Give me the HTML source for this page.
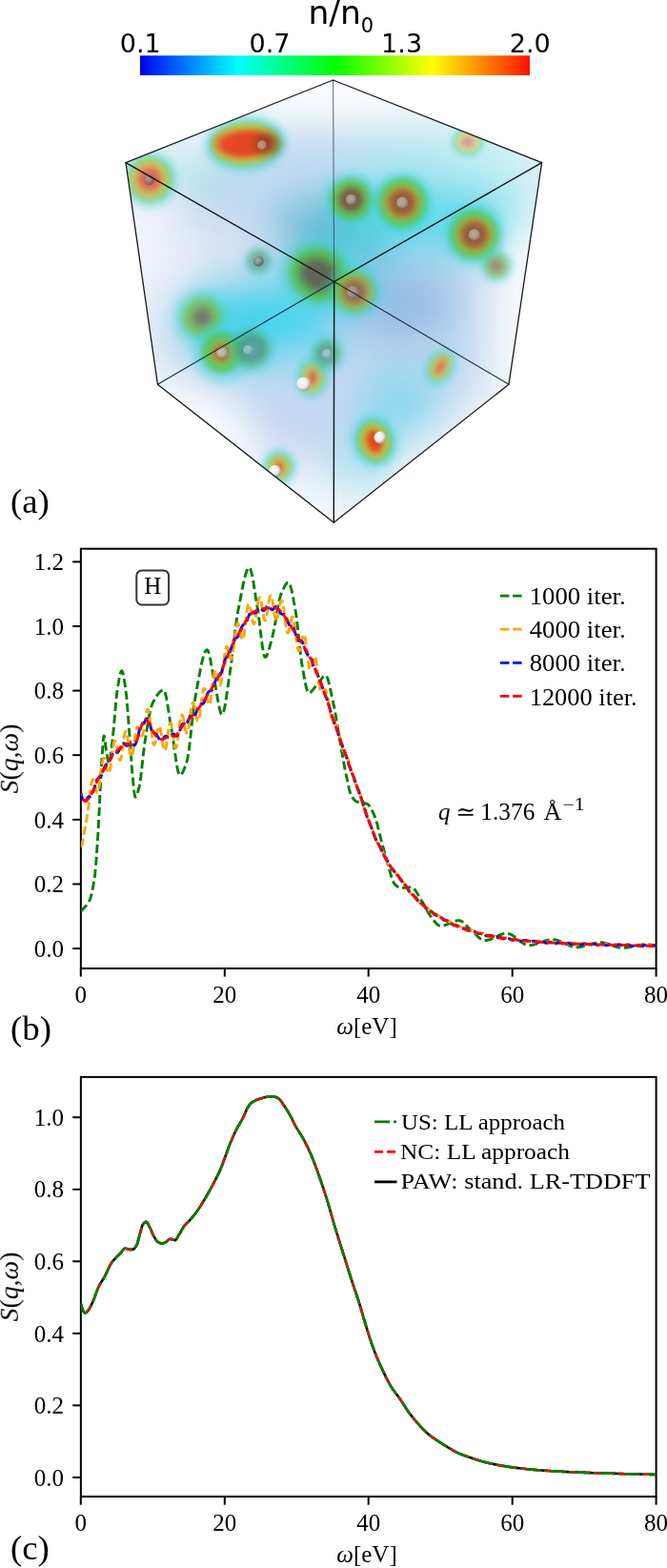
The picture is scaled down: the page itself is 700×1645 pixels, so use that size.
<!DOCTYPE html>
<html><head><meta charset="utf-8"><title>Figure</title>
<style>
html,body{margin:0;padding:0;background:#fff;}
body{width:700px;height:1645px;overflow:hidden;}
svg{display:block;}
.ax{stroke:#000;stroke-width:2;}
.tk{font-family:'Liberation Serif', 'DejaVu Serif', serif;font-size:25px;fill:#000;}
</style></head>
<body>
<svg width="700" height="1645" viewBox="0 0 700 1645">

<defs>
  <linearGradient id="cbar" x1="0" x2="1" y1="0" y2="0">
    <stop offset="0" stop-color="#0000d8"/>
    <stop offset="0.03" stop-color="#0020ff"/>
    <stop offset="0.25" stop-color="#00ffff"/>
    <stop offset="0.5" stop-color="#00ff00"/>
    <stop offset="0.75" stop-color="#ffff00"/>
    <stop offset="0.97" stop-color="#ff3000"/>
    <stop offset="1" stop-color="#f81000"/>
  </linearGradient>
  <clipPath id="hexclip"><polygon points="349.6,84.0 568.6,170.6 534.0,403.2 350.3,548.3 165.4,403.2 132.0,170.6"/></clipPath>
  <clipPath id="clipb"><rect x="84.85" y="575.7" width="603.75" height="440.3"/></clipPath>
  <clipPath id="clipc"><rect x="84.85" y="1129.9" width="603.75" height="440.2"/></clipPath>
  <filter id="bigblur" x="-50%" y="-50%" width="200%" height="200%"><feGaussianBlur stdDeviation="22"/></filter>
  <radialGradient id="g_red"><stop offset="0" stop-color="#c84a30" stop-opacity="1"/><stop offset="0.34" stop-color="#e04a2a" stop-opacity="0.95"/><stop offset="0.46" stop-color="#e89030" stop-opacity="0.9"/><stop offset="0.55" stop-color="#e0d840" stop-opacity="0.88"/><stop offset="0.65" stop-color="#60cc48" stop-opacity="0.85"/><stop offset="0.8" stop-color="#40cc90" stop-opacity="0.55"/><stop offset="0.92" stop-color="#40d0d0" stop-opacity="0.22"/><stop offset="1" stop-color="#60d0e0" stop-opacity="0"/></radialGradient>
  <radialGradient id="g_brown"><stop offset="0" stop-color="#8a7a6a" stop-opacity="1"/><stop offset="0.2" stop-color="#8a5a3a" stop-opacity="1"/><stop offset="0.36" stop-color="#a0522a" stop-opacity="0.95"/><stop offset="0.48" stop-color="#c08a30" stop-opacity="0.9"/><stop offset="0.56" stop-color="#98c838" stop-opacity="0.88"/><stop offset="0.66" stop-color="#48c848" stop-opacity="0.85"/><stop offset="0.8" stop-color="#40cc88" stop-opacity="0.55"/><stop offset="0.92" stop-color="#40d0d0" stop-opacity="0.22"/><stop offset="1" stop-color="#60d0e0" stop-opacity="0"/></radialGradient>
  <radialGradient id="g_dark"><stop offset="0" stop-color="#5e6658" stop-opacity="1"/><stop offset="0.38" stop-color="#606450" stop-opacity="0.95"/><stop offset="0.52" stop-color="#708040" stop-opacity="0.9"/><stop offset="0.66" stop-color="#48c040" stop-opacity="0.85"/><stop offset="0.82" stop-color="#40c8a0" stop-opacity="0.5"/><stop offset="1" stop-color="#60d0e0" stop-opacity="0"/></radialGradient>
  <radialGradient id="g_dim"><stop offset="0" stop-color="#60a8a8" stop-opacity="0.9"/><stop offset="0.25" stop-color="#508888" stop-opacity="0.85"/><stop offset="0.45" stop-color="#507870" stop-opacity="0.7"/><stop offset="0.65" stop-color="#48b860" stop-opacity="0.5"/><stop offset="0.85" stop-color="#40c8a0" stop-opacity="0.25"/><stop offset="1" stop-color="#60d0e0" stop-opacity="0"/></radialGradient>
  <filter id="bl2" x="-50%" y="-50%" width="200%" height="200%"><feGaussianBlur stdDeviation="1.0"/></filter><filter id="bl3" x="-50%" y="-50%" width="200%" height="200%"><feGaussianBlur stdDeviation="1.5"/></filter><filter id="bl4" x="-50%" y="-50%" width="200%" height="200%"><feGaussianBlur stdDeviation="2.0"/></filter><filter id="bl5" x="-50%" y="-50%" width="200%" height="200%"><feGaussianBlur stdDeviation="2.5"/></filter><filter id="bl6" x="-50%" y="-50%" width="200%" height="200%"><feGaussianBlur stdDeviation="3.0"/></filter><filter id="bl7" x="-50%" y="-50%" width="200%" height="200%"><feGaussianBlur stdDeviation="3.5"/></filter><filter id="bl8" x="-50%" y="-50%" width="200%" height="200%"><feGaussianBlur stdDeviation="4.0"/></filter><filter id="bl9" x="-50%" y="-50%" width="200%" height="200%"><feGaussianBlur stdDeviation="4.5"/></filter><filter id="bl10" x="-50%" y="-50%" width="200%" height="200%"><feGaussianBlur stdDeviation="5.0"/></filter><filter id="bl11" x="-50%" y="-50%" width="200%" height="200%"><feGaussianBlur stdDeviation="5.5"/></filter><filter id="bl12" x="-50%" y="-50%" width="200%" height="200%"><feGaussianBlur stdDeviation="6.0"/></filter>
  <filter id="smblur" x="-50%" y="-50%" width="200%" height="200%"><feGaussianBlur stdDeviation="2.5"/></filter>
  <filter id="tinyblur" x="-50%" y="-50%" width="200%" height="200%"><feGaussianBlur stdDeviation="0.6"/></filter>
  <radialGradient id="g_halo">
    <stop offset="0" stop-color="#48c848" stop-opacity="0.9"/>
    <stop offset="0.6" stop-color="#48d070" stop-opacity="0.7"/>
    <stop offset="0.85" stop-color="#40d0d8" stop-opacity="0.4"/>
    <stop offset="1" stop-color="#60d0e0" stop-opacity="0"/>
  </radialGradient>
  <radialGradient id="g_core_dark">
    <stop offset="0" stop-color="#704038" stop-opacity="0.9"/>
    <stop offset="1" stop-color="#904030" stop-opacity="0"/>
  </radialGradient>
  <radialGradient id="g_salmon"><stop offset="0" stop-color="#b07060" stop-opacity="1"/><stop offset="0.3" stop-color="#d86850" stop-opacity="0.95"/><stop offset="0.46" stop-color="#e89050" stop-opacity="0.9"/><stop offset="0.56" stop-color="#e8d850" stop-opacity="0.85"/><stop offset="0.68" stop-color="#60c860" stop-opacity="0.7"/><stop offset="0.84" stop-color="#50d0d0" stop-opacity="0.3"/><stop offset="1" stop-color="#60c8e0" stop-opacity="0"/></radialGradient>
  <radialGradient id="sph" cx="0.4" cy="0.4" r="0.6">
    <stop offset="0" stop-color="#ffffff"/>
    <stop offset="0.6" stop-color="#e8e8e8"/>
    <stop offset="1" stop-color="#a0a0a0"/>
  </radialGradient>
  <radialGradient id="sph_m" cx="0.42" cy="0.42" r="0.6">
    <stop offset="0" stop-color="#e4e0d8"/>
    <stop offset="0.6" stop-color="#c8c0b4"/>
    <stop offset="1" stop-color="#908880"/>
  </radialGradient>
  <radialGradient id="sph_d" cx="0.4" cy="0.4" r="0.6">
    <stop offset="0" stop-color="#b0b0b0"/>
    <stop offset="0.6" stop-color="#808080"/>
    <stop offset="1" stop-color="#505050"/>
  </radialGradient>
</defs>

<rect width="700" height="1645" fill="#fff"/>

<rect x="147" y="58.3" width="409" height="20.7" fill="url(#cbar)"/>
<text x="323.5" y="25" font-family="'DejaVu Sans', 'Liberation Sans', sans-serif" font-size="34.5">n/n<tspan font-size="21" dy="9">0</tspan></text>
<text x="147.2" y="54.5" font-family="'DejaVu Sans', 'Liberation Sans', sans-serif" font-size="26" text-anchor="middle" textLength="43" lengthAdjust="spacingAndGlyphs">0.1</text>
<text x="283" y="54.5" font-family="'DejaVu Sans', 'Liberation Sans', sans-serif" font-size="26" text-anchor="middle" textLength="43" lengthAdjust="spacingAndGlyphs">0.7</text>
<text x="421.6" y="54.5" font-family="'DejaVu Sans', 'Liberation Sans', sans-serif" font-size="26" text-anchor="middle" textLength="43" lengthAdjust="spacingAndGlyphs">1.3</text>
<text x="556.3" y="54.5" font-family="'DejaVu Sans', 'Liberation Sans', sans-serif" font-size="26" text-anchor="middle" textLength="43" lengthAdjust="spacingAndGlyphs">2.0</text>


<g clip-path="url(#hexclip)">
  <polygon points="349.6,84.0 568.6,170.6 534.0,403.2 350.3,548.3 165.4,403.2 132.0,170.6" fill="#eef3f9"/>
  <g filter="url(#bigblur)">
    <ellipse cx="350" cy="300" rx="195" ry="175" fill="#b0cfec" opacity="0.7"/>
    <ellipse cx="470" cy="170" rx="110" ry="40" fill="#a8ecf0" opacity="0.6"/>
    <ellipse cx="200" cy="180" rx="40" ry="22" fill="#90e0e0" opacity="0.5"/>
    <ellipse cx="280" cy="335" rx="80" ry="45" fill="#30d4ee" opacity="0.85"/>
    <ellipse cx="230" cy="320" rx="45" ry="35" fill="#38d0e6" opacity="0.6"/>
    <ellipse cx="470" cy="232" rx="90" ry="36" fill="#50dcec" opacity="0.7"/>
    <ellipse cx="400" cy="228" rx="120" ry="34" fill="#48d8ea" opacity="0.55"/>
    <ellipse cx="420" cy="425" rx="45" ry="40" fill="#50d4ec" opacity="0.5"/>
    <ellipse cx="360" cy="255" rx="55" ry="40" fill="#38c8dc" opacity="0.7"/>
    <ellipse cx="420" cy="320" rx="60" ry="40" fill="#70a8dc" opacity="0.55"/>
    <ellipse cx="330" cy="235" rx="45" ry="22" fill="#6880a8" opacity="0.35"/>
    <ellipse cx="225" cy="265" rx="30" ry="30" fill="#8090b0" opacity="0.25"/>
    <ellipse cx="375" cy="495" rx="35" ry="35" fill="#60d0e8" opacity="0.45"/>
    <ellipse cx="190" cy="465" rx="75" ry="55" fill="#ffffff" opacity="0.95"/>
    <ellipse cx="550" cy="330" rx="38" ry="95" fill="#ffffff" opacity="0.8"/>
    <ellipse cx="350" cy="100" rx="90" ry="30" fill="#ffffff" opacity="0.85"/>
    <ellipse cx="350" cy="540" rx="55" ry="18" fill="#ffffff" opacity="0.8"/>
    <ellipse cx="160" cy="270" rx="45" ry="60" fill="#f0f2fa" opacity="0.85"/>
    <ellipse cx="215" cy="268" rx="55" ry="32" fill="#f0f0fa" opacity="0.7"/>
    <ellipse cx="500" cy="470" rx="45" ry="40" fill="#f0f4fa" opacity="0.7"/>
    <ellipse cx="300" cy="460" rx="40" ry="30" fill="#c8d0f0" opacity="0.5"/>
  </g>
  <g>
    <g filter="url(#bl6)" opacity="1.0" transform="rotate(-4 258 151)"><ellipse cx="258" cy="151" rx="45" ry="31" fill="#40d4e4" opacity="0.35"/><ellipse cx="258" cy="151" rx="38" ry="24" fill="#50c848" opacity="0.85"/><ellipse cx="258" cy="151" rx="33" ry="19" fill="#e0d040" opacity="0.95"/><ellipse cx="258" cy="151" rx="30" ry="16" fill="#e04828"/></g>
    <g filter="url(#bl7)" opacity="1.0" transform="rotate(0 157 188)"><ellipse cx="157" cy="188" rx="31" ry="31" fill="#48d4e0" opacity="0.35"/><ellipse cx="157" cy="188" rx="24" ry="24" fill="#60c860" opacity="0.85"/><ellipse cx="157" cy="188" rx="18" ry="18" fill="#e8d050" opacity="0.95"/><ellipse cx="157" cy="188" rx="14" ry="14" fill="#d86a58"/></g>
    <g filter="url(#bl7)" opacity="0.95" transform="rotate(0 368.5 209.2)"><ellipse cx="368.5" cy="209.2" rx="30" ry="30" fill="#40d4e0" opacity="0.35"/><ellipse cx="368.5" cy="209.2" rx="23" ry="23" fill="#48c448" opacity="0.85"/><ellipse cx="368.5" cy="209.2" rx="15" ry="15" fill="#909838" opacity="0.95"/><ellipse cx="368.5" cy="209.2" rx="13" ry="13" fill="#7a4a34"/><ellipse cx="368.5" cy="209.2" rx="7.2" ry="7.2" fill="#6e6458"/></g>
    <g filter="url(#bl7)" opacity="1.0" transform="rotate(0 422.2 212.6)"><ellipse cx="422.2" cy="212.6" rx="33.5" ry="33.5" fill="#40d4e0" opacity="0.35"/><ellipse cx="422.2" cy="212.6" rx="26.5" ry="26.5" fill="#48c448" opacity="0.85"/><ellipse cx="422.2" cy="212.6" rx="18.5" ry="18.5" fill="#b8b038" opacity="0.95"/><ellipse cx="422.2" cy="212.6" rx="15.5" ry="15.5" fill="#a85a30"/><ellipse cx="422.2" cy="212.6" rx="8.5" ry="8.5" fill="#80604a"/></g>
    <g filter="url(#bl7)" opacity="1.0" transform="rotate(0 497.8 246.2)"><ellipse cx="497.8" cy="246.2" rx="33.5" ry="33.5" fill="#40d4e0" opacity="0.35"/><ellipse cx="497.8" cy="246.2" rx="26.5" ry="26.5" fill="#48c448" opacity="0.85"/><ellipse cx="497.8" cy="246.2" rx="18.5" ry="18.5" fill="#b8b038" opacity="0.95"/><ellipse cx="497.8" cy="246.2" rx="15.5" ry="15.5" fill="#a85a30"/><ellipse cx="497.8" cy="246.2" rx="8.5" ry="8.5" fill="#80604a"/></g>
    <g filter="url(#bl6)" opacity="0.7" transform="rotate(0 521 279)"><ellipse cx="521" cy="279" rx="19" ry="19" fill="#40d0d8" opacity="0.35"/><ellipse cx="521" cy="279" rx="14" ry="14" fill="#48c050" opacity="0.85"/><ellipse cx="521" cy="279" rx="9" ry="9" fill="#90a040" opacity="0.95"/><ellipse cx="521" cy="279" rx="7" ry="7" fill="#886048"/></g>
    <g filter="url(#bl5)" opacity="0.6" transform="rotate(0 491 149)"><ellipse cx="491" cy="149" rx="19" ry="17" fill="#48d4e0" opacity="0.35"/><ellipse cx="491" cy="149" rx="16" ry="14" fill="#60c860" opacity="0.85"/><ellipse cx="491" cy="149" rx="12" ry="10" fill="#e8d050" opacity="0.95"/><ellipse cx="491" cy="149" rx="8" ry="6" fill="#d86a58"/></g>
    <g filter="url(#bl9)" opacity="0.95" transform="rotate(25 334 288)"><ellipse cx="334" cy="288" rx="43" ry="40" fill="#40d0c8" opacity="0.35"/><ellipse cx="334" cy="288" rx="32" ry="29" fill="#48c040" opacity="0.85"/><ellipse cx="334" cy="288" rx="22" ry="19" fill="#6a8040" opacity="0.95"/><ellipse cx="334" cy="288" rx="19" ry="16" fill="#5e6252"/></g>
    <g filter="url(#bl7)" opacity="0.85" transform="rotate(0 372 306)"><ellipse cx="372" cy="306" rx="31" ry="31" fill="#40d4e0" opacity="0.35"/><ellipse cx="372" cy="306" rx="23" ry="23" fill="#48c448" opacity="0.85"/><ellipse cx="372" cy="306" rx="17" ry="17" fill="#b8b038" opacity="0.95"/><ellipse cx="372" cy="306" rx="14" ry="14" fill="#a85a30"/><ellipse cx="372" cy="306" rx="7.7" ry="7.7" fill="#80604a"/></g>
    <g filter="url(#bl8)" opacity="0.9" transform="rotate(0 212 333)"><ellipse cx="212" cy="333" rx="31" ry="31" fill="#40d4d8" opacity="0.35"/><ellipse cx="212" cy="333" rx="22" ry="22" fill="#58c848" opacity="0.85"/><ellipse cx="212" cy="333" rx="14" ry="14" fill="#a0b040" opacity="0.95"/><ellipse cx="212" cy="333" rx="11" ry="11" fill="#6e6e64"/></g>
    <g filter="url(#bl7)" opacity="1.0" transform="rotate(0 233 370)"><ellipse cx="233" cy="370" rx="33" ry="33" fill="#40d4e0" opacity="0.35"/><ellipse cx="233" cy="370" rx="22" ry="22" fill="#48c448" opacity="0.85"/><ellipse cx="233" cy="370" rx="12" ry="12" fill="#b8b038" opacity="0.95"/><ellipse cx="233" cy="370" rx="9" ry="9" fill="#a85a30"/><ellipse cx="233" cy="370" rx="5.0" ry="5.0" fill="#80604a"/></g>
    <g filter="url(#bl8)" opacity="0.8" transform="rotate(0 264 366)"><ellipse cx="264" cy="366" rx="26" ry="26" fill="#40d0d8" opacity="0.35"/><ellipse cx="264" cy="366" rx="20" ry="20" fill="#48b870" opacity="0.85"/><ellipse cx="264" cy="366" rx="15" ry="15" fill="#4a9070" opacity="0.95"/><ellipse cx="264" cy="366" rx="13" ry="13" fill="#4a7a7a"/><ellipse cx="264" cy="366" rx="7.2" ry="7.2" fill="#60a8a8"/></g>
    <g filter="url(#bl6)" opacity="0.8" transform="rotate(10 328 396)"><ellipse cx="328" cy="396" rx="20" ry="24" fill="#40d4e4" opacity="0.35"/><ellipse cx="328" cy="396" rx="14" ry="18" fill="#50c848" opacity="0.85"/><ellipse cx="328" cy="396" rx="9" ry="13" fill="#e0d040" opacity="0.95"/><ellipse cx="328" cy="396" rx="6" ry="10" fill="#e04828"/></g>
    <g filter="url(#bl7)" opacity="0.75" transform="rotate(0 343 371)"><ellipse cx="343" cy="371" rx="21" ry="21" fill="#40d0d8" opacity="0.35"/><ellipse cx="343" cy="371" rx="15" ry="15" fill="#48b870" opacity="0.85"/><ellipse cx="343" cy="371" rx="10" ry="10" fill="#4a9070" opacity="0.95"/><ellipse cx="343" cy="371" rx="8" ry="8" fill="#4a7a7a"/><ellipse cx="343" cy="371" rx="4.4" ry="4.4" fill="#60a8a8"/></g>
    <g filter="url(#bl6)" opacity="0.9" transform="rotate(0 293 490)"><ellipse cx="293" cy="490" rx="20" ry="21" fill="#40d4e4" opacity="0.35"/><ellipse cx="293" cy="490" rx="14" ry="15" fill="#50c848" opacity="0.85"/><ellipse cx="293" cy="490" rx="9" ry="10" fill="#e0d040" opacity="0.95"/><ellipse cx="293" cy="490" rx="6" ry="7" fill="#e04828"/></g>
    <g filter="url(#bl6)" opacity="1.0" transform="rotate(-15 393 463)"><ellipse cx="393" cy="463" rx="26" ry="30" fill="#40d4e4" opacity="0.35"/><ellipse cx="393" cy="463" rx="19" ry="23" fill="#50c848" opacity="0.85"/><ellipse cx="393" cy="463" rx="13" ry="17" fill="#e0d040" opacity="0.95"/><ellipse cx="393" cy="463" rx="10" ry="14" fill="#e04828"/></g>
    <g filter="url(#bl6)" opacity="0.8" transform="rotate(32 462 385)"><ellipse cx="462" cy="385" rx="18" ry="23" fill="#40d4e4" opacity="0.35"/><ellipse cx="462" cy="385" rx="12" ry="17" fill="#50c848" opacity="0.85"/><ellipse cx="462" cy="385" rx="8" ry="13" fill="#e0d040" opacity="0.95"/><ellipse cx="462" cy="385" rx="5" ry="10" fill="#e04828"/></g>
    <g filter="url(#bl6)" opacity="0.6" transform="rotate(0 271.3 274)"><ellipse cx="271.3" cy="274" rx="17" ry="17" fill="#40d0d8" opacity="0.35"/><ellipse cx="271.3" cy="274" rx="13" ry="13" fill="#48b870" opacity="0.85"/><ellipse cx="271.3" cy="274" rx="10" ry="10" fill="#4a9070" opacity="0.95"/><ellipse cx="271.3" cy="274" rx="8" ry="8" fill="#4a7a7a"/><ellipse cx="271.3" cy="274" rx="4.4" ry="4.4" fill="#60a8a8"/></g>
  </g>
  <g filter="url(#bl8)">
    <ellipse cx="281" cy="151" rx="13" ry="12" fill="#6a3026" opacity="0.55"/>
    <ellipse cx="236" cy="150" rx="12" ry="9" fill="#f04a2a" opacity="0.5"/>
  </g>
  <g filter="url(#tinyblur)">
    <circle cx="275" cy="152.3" r="5" fill="url(#sph_m)" opacity="0.55"/>
    <circle cx="156.5" cy="188.5" r="5.5" fill="url(#sph_d)" opacity="0.6"/>
    <circle cx="368.5" cy="209.2" r="5.5" fill="url(#sph_m)" opacity="0.55"/>
    <circle cx="422.2" cy="212.6" r="6" fill="url(#sph_m)" opacity="0.6"/>
    <circle cx="497.8" cy="246.2" r="6" fill="url(#sph_m)" opacity="0.6"/>
    <circle cx="233" cy="370" r="6" fill="url(#sph_m)" opacity="0.75"/>
    <circle cx="318.6" cy="402.9" r="7.5" fill="url(#sph)" opacity="1.0"/>
    <circle cx="288.6" cy="494.3" r="6.5" fill="url(#sph)" opacity="1.0"/>
    <circle cx="399" cy="459" r="6.5" fill="url(#sph)" opacity="1.0"/>
    <circle cx="271.3" cy="273.9" r="5.5" fill="url(#sph_d)" opacity="0.8"/>
    <circle cx="370" cy="306" r="6" fill="url(#sph)" opacity="0.3"/>
    <circle cx="343" cy="371" r="5" fill="url(#sph)" opacity="0.35"/>
    <circle cx="260" cy="367" r="5" fill="url(#sph)" opacity="0.35"/>
  </g>
</g>


<g stroke="#111" fill="none" stroke-linejoin="round" stroke-linecap="round">
  <line x1="349.6" y1="84.0" x2="350.7" y2="295.5" stroke-width="1.0" stroke="#2a3a48" opacity="0.75"/>
  <line x1="165.4" y1="403.2" x2="350.7" y2="295.5" stroke-width="1.1" stroke="#1a2a3a"/>
  <line x1="534.0" y1="403.2" x2="350.7" y2="295.5" stroke-width="1.1" stroke="#1a2a3a"/>
  <polygon points="349.6,84.0 568.6,170.6 534.0,403.2 350.3,548.3 165.4,403.2 132.0,170.6" stroke-width="1.3" stroke="#1a1a1a"/>
  <line x1="132.0" y1="170.6" x2="350.7" y2="295.5" stroke-width="1.4" stroke="#111"/>
  <line x1="568.6" y1="170.6" x2="350.7" y2="295.5" stroke-width="1.4" stroke="#111"/>
  <line x1="350.7" y1="295.5" x2="350.3" y2="548.3" stroke-width="1.4" stroke="#111"/>
</g>


<text x="11" y="538.4" font-family="'Liberation Serif', 'DejaVu Serif', serif" font-size="36.8">(a)</text>
<text x="11" y="1091.2" font-family="'Liberation Serif', 'DejaVu Serif', serif" font-size="36.8">(b)</text>
<text x="11" y="1636.2" font-family="'Liberation Serif', 'DejaVu Serif', serif" font-size="36.8">(c)</text>


<line x1="76.2" y1="995.1" x2="84.8" y2="995.1" class="ax"/>
<text x="67" y="1003.7" class="tk" text-anchor="end">0.0</text>
<line x1="76.2" y1="927.5" x2="84.8" y2="927.5" class="ax"/>
<text x="67" y="936.1" class="tk" text-anchor="end">0.2</text>
<line x1="76.2" y1="859.9" x2="84.8" y2="859.9" class="ax"/>
<text x="67" y="868.5" class="tk" text-anchor="end">0.4</text>
<line x1="76.2" y1="792.2" x2="84.8" y2="792.2" class="ax"/>
<text x="67" y="800.8" class="tk" text-anchor="end">0.6</text>
<line x1="76.2" y1="724.6" x2="84.8" y2="724.6" class="ax"/>
<text x="67" y="733.2" class="tk" text-anchor="end">0.8</text>
<line x1="76.2" y1="657.0" x2="84.8" y2="657.0" class="ax"/>
<text x="67" y="665.6" class="tk" text-anchor="end">1.0</text>
<line x1="76.2" y1="589.4" x2="84.8" y2="589.4" class="ax"/>
<text x="67" y="598.0" class="tk" text-anchor="end">1.2</text>
<line x1="84.8" y1="1016.0" x2="84.8" y2="1024.6" class="ax"/>
<text x="84.8" y="1051.6" class="tk" text-anchor="middle">0</text>
<line x1="235.8" y1="1016.0" x2="235.8" y2="1024.6" class="ax"/>
<text x="235.8" y="1051.6" class="tk" text-anchor="middle">20</text>
<line x1="386.7" y1="1016.0" x2="386.7" y2="1024.6" class="ax"/>
<text x="386.7" y="1051.6" class="tk" text-anchor="middle">40</text>
<line x1="537.7" y1="1016.0" x2="537.7" y2="1024.6" class="ax"/>
<text x="537.7" y="1051.6" class="tk" text-anchor="middle">60</text>
<line x1="688.6" y1="1016.0" x2="688.6" y2="1024.6" class="ax"/>
<text x="688.6" y="1051.6" class="tk" text-anchor="middle">80</text>
<rect x="84.85" y="575.70" width="603.75" height="440.30" fill="none" class="ax"/>
<text x="385" y="1085.0" class="tk" text-anchor="middle"><tspan font-style="italic">ω</tspan>[eV]</text>
<text transform="translate(18.8,796.0) rotate(-90)" class="tk" style="font-size:26.5px" text-anchor="middle" textLength="73" lengthAdjust="spacingAndGlyphs"><tspan font-style="italic">S</tspan>(<tspan font-style="italic">q</tspan>,<tspan font-style="italic">ω</tspan>)</text>
<g clip-path="url(#clipb)" fill="none" stroke-width="2.9" stroke-linejoin="round">
  <path d="M84.8,955.9 L85.2,955.6 L85.6,955.2 L86.0,954.9 L86.4,954.5 L86.7,954.2 L87.1,953.8 L87.5,953.4 L87.9,953.0 L88.2,952.6 L88.6,952.1 L89.0,951.7 L89.4,951.3 L89.8,950.9 L90.1,950.5 L90.5,950.0 L90.9,949.6 L91.3,949.1 L91.6,948.6 L92.0,948.0 L92.4,947.4 L92.8,946.8 L93.2,946.2 L93.5,945.4 L93.9,944.7 L94.3,943.9 L94.7,942.9 L95.0,941.8 L95.4,940.6 L95.8,939.2 L96.2,937.7 L96.5,936.1 L96.9,934.3 L97.3,932.4 L97.7,930.3 L98.1,928.1 L98.4,925.8 L98.8,923.4 L99.2,920.8 L99.6,918.0 L99.9,914.6 L100.3,910.6 L100.7,906.2 L101.1,901.3 L101.5,896.1 L101.8,890.6 L102.2,885.0 L102.6,879.2 L103.0,873.2 L103.3,866.3 L103.7,858.8 L104.1,851.0 L104.5,843.1 L104.8,835.2 L105.2,827.8 L105.6,820.6 L106.0,813.2 L106.4,806.0 L106.7,799.3 L107.1,793.4 L107.5,788.2 L107.9,782.7 L108.2,777.7 L108.6,773.9 L109.0,772.0 L109.4,772.4 L109.8,774.0 L110.1,776.6 L110.5,779.7 L110.9,782.8 L111.3,785.7 L111.6,788.0 L112.0,790.3 L112.4,792.7 L112.8,795.1 L113.2,797.3 L113.5,799.0 L113.9,800.2 L114.3,800.7 L114.7,800.3 L115.0,799.2 L115.4,797.5 L115.8,795.2 L116.2,792.5 L116.5,789.4 L116.9,786.1 L117.3,782.7 L117.7,779.2 L118.1,775.8 L118.4,772.5 L118.8,769.2 L119.2,765.4 L119.6,761.3 L119.9,756.9 L120.3,752.4 L120.7,747.8 L121.1,743.2 L121.5,738.8 L121.8,734.7 L122.2,730.9 L122.6,727.6 L123.0,724.9 L123.3,722.5 L123.7,720.1 L124.1,717.8 L124.5,715.5 L124.8,713.4 L125.2,711.3 L125.6,709.4 L126.0,707.8 L126.4,706.3 L126.7,705.2 L127.1,704.3 L127.5,703.8 L127.9,703.7 L128.2,704.0 L128.6,704.8 L129.0,706.1 L129.4,707.7 L129.8,709.6 L130.1,711.8 L130.5,714.2 L130.9,716.7 L131.3,719.4 L131.6,722.1 L132.0,724.7 L132.4,727.7 L132.8,731.3 L133.1,735.2 L133.5,739.6 L133.9,744.3 L134.3,749.1 L134.7,754.2 L135.0,759.3 L135.4,764.3 L135.8,769.3 L136.2,774.1 L136.5,779.3 L136.9,784.8 L137.3,790.3 L137.7,795.8 L138.1,801.2 L138.4,806.1 L138.8,810.5 L139.2,814.4 L139.6,818.4 L139.9,822.5 L140.3,826.4 L140.7,829.9 L141.1,832.8 L141.5,834.9 L141.8,836.1 L142.2,836.2 L142.6,835.9 L143.0,835.4 L143.3,834.7 L143.7,833.8 L144.1,832.7 L144.5,831.5 L144.8,830.3 L145.2,828.9 L145.6,827.5 L146.0,826.1 L146.4,824.5 L146.7,822.5 L147.1,820.1 L147.5,817.4 L147.9,814.4 L148.2,811.2 L148.6,807.8 L149.0,804.3 L149.4,800.7 L149.8,797.2 L150.1,793.7 L150.5,790.3 L150.9,787.0 L151.3,783.9 L151.6,781.1 L152.0,778.6 L152.4,776.2 L152.8,773.9 L153.1,771.5 L153.5,769.1 L153.9,766.7 L154.3,764.4 L154.7,762.1 L155.0,759.8 L155.4,757.6 L155.8,755.4 L156.2,753.3 L156.5,751.3 L156.9,749.4 L157.3,747.5 L157.7,745.8 L158.1,744.2 L158.4,742.7 L158.8,741.4 L159.2,740.2 L159.6,739.1 L159.9,738.3 L160.3,737.5 L160.7,736.7 L161.1,736.0 L161.5,735.3 L161.8,734.6 L162.2,733.9 L162.6,733.2 L163.0,732.5 L163.3,731.9 L163.7,731.2 L164.1,730.6 L164.5,730.0 L164.8,729.5 L165.2,728.9 L165.6,728.4 L166.0,727.9 L166.4,727.4 L166.7,727.0 L167.1,726.6 L167.5,726.2 L167.9,725.8 L168.2,725.5 L168.6,725.2 L169.0,724.9 L169.4,724.6 L169.8,724.4 L170.1,724.3 L170.5,724.1 L170.9,724.0 L171.3,724.0 L171.6,723.9 L172.0,724.1 L172.4,724.5 L172.8,725.2 L173.1,726.2 L173.5,727.4 L173.9,728.9 L174.3,730.5 L174.7,732.4 L175.0,734.4 L175.4,736.5 L175.8,738.8 L176.2,741.1 L176.5,743.5 L176.9,746.0 L177.3,748.5 L177.7,751.0 L178.1,753.5 L178.4,755.9 L178.8,758.3 L179.2,760.6 L179.6,762.8 L179.9,764.9 L180.3,766.9 L180.7,769.1 L181.1,771.5 L181.4,774.0 L181.8,776.6 L182.2,779.3 L182.6,782.0 L183.0,784.8 L183.3,787.6 L183.7,790.3 L184.1,793.1 L184.5,795.7 L184.8,798.3 L185.2,800.7 L185.6,803.0 L186.0,805.1 L186.4,807.0 L186.7,808.7 L187.1,810.2 L187.5,811.4 L187.9,812.3 L188.2,812.9 L188.6,813.2 L189.0,813.2 L189.4,813.0 L189.8,812.8 L190.1,812.5 L190.5,812.0 L190.9,811.5 L191.3,811.0 L191.6,810.3 L192.0,809.6 L192.4,808.8 L192.8,807.9 L193.1,807.0 L193.5,806.1 L193.9,805.1 L194.3,804.0 L194.7,803.0 L195.0,801.9 L195.4,800.8 L195.8,799.6 L196.2,798.5 L196.5,797.0 L196.9,795.2 L197.3,793.2 L197.7,790.8 L198.1,788.3 L198.4,785.5 L198.8,782.6 L199.2,779.4 L199.6,776.2 L199.9,772.9 L200.3,769.5 L200.7,766.0 L201.1,762.5 L201.4,759.0 L201.8,755.6 L202.2,752.2 L202.6,748.9 L203.0,745.7 L203.3,742.6 L203.7,739.7 L204.1,737.0 L204.5,734.5 L204.8,732.2 L205.2,730.2 L205.6,728.1 L206.0,726.1 L206.4,724.0 L206.7,721.9 L207.1,719.8 L207.5,717.7 L207.9,715.6 L208.2,713.5 L208.6,711.4 L209.0,709.3 L209.4,707.3 L209.8,705.3 L210.1,703.4 L210.5,701.5 L210.9,699.6 L211.3,697.8 L211.6,696.1 L212.0,694.4 L212.4,692.8 L212.8,691.3 L213.1,689.9 L213.5,688.6 L213.9,687.3 L214.3,686.2 L214.7,685.2 L215.0,684.3 L215.4,683.5 L215.8,682.9 L216.2,682.4 L216.5,682.0 L216.9,681.8 L217.3,681.7 L217.7,681.8 L218.1,682.3 L218.4,683.0 L218.8,683.9 L219.2,685.1 L219.6,686.5 L219.9,688.0 L220.3,689.7 L220.7,691.6 L221.1,693.5 L221.4,695.5 L221.8,697.6 L222.2,699.7 L222.6,701.9 L223.0,704.0 L223.3,706.1 L223.7,708.2 L224.1,710.1 L224.5,712.0 L224.8,713.8 L225.2,715.5 L225.6,717.3 L226.0,719.2 L226.4,721.2 L226.7,723.3 L227.1,725.5 L227.5,727.7 L227.9,729.9 L228.2,732.1 L228.6,734.2 L229.0,736.4 L229.4,738.4 L229.8,740.3 L230.1,742.2 L230.5,743.8 L230.9,745.3 L231.3,746.7 L231.6,747.8 L232.0,748.6 L232.4,749.2 L232.8,749.6 L233.1,749.6 L233.5,749.3 L233.9,748.7 L234.3,747.8 L234.7,746.7 L235.0,745.3 L235.4,743.6 L235.8,741.8 L236.2,739.8 L236.5,737.6 L236.9,735.3 L237.3,732.9 L237.7,730.4 L238.1,727.8 L238.4,725.2 L238.8,722.6 L239.2,719.9 L239.6,717.3 L239.9,714.6 L240.3,712.1 L240.7,709.6 L241.1,707.3 L241.4,704.9 L241.8,702.3 L242.2,699.6 L242.6,696.8 L243.0,693.9 L243.3,690.9 L243.7,687.8 L244.1,684.7 L244.5,681.5 L244.8,678.3 L245.2,675.1 L245.6,672.0 L246.0,668.8 L246.4,665.7 L246.7,662.6 L247.1,659.5 L247.5,656.6 L247.9,653.8 L248.2,651.0 L248.6,648.4 L249.0,645.9 L249.4,643.6 L249.7,641.4 L250.1,639.4 L250.5,637.5 L250.9,635.5 L251.3,633.5 L251.6,631.5 L252.0,629.4 L252.4,627.4 L252.8,625.4 L253.1,623.4 L253.5,621.4 L253.9,619.5 L254.3,617.6 L254.7,615.7 L255.0,613.9 L255.4,612.1 L255.8,610.4 L256.2,608.7 L256.5,607.1 L256.9,605.6 L257.3,604.2 L257.7,602.8 L258.1,601.6 L258.4,600.4 L258.8,599.4 L259.2,598.4 L259.6,597.6 L259.9,596.9 L260.3,596.3 L260.7,595.9 L261.1,595.6 L261.4,595.5 L261.8,595.5 L262.2,595.8 L262.6,596.5 L263.0,597.3 L263.3,598.4 L263.7,599.8 L264.1,601.3 L264.5,603.0 L264.8,604.9 L265.2,606.9 L265.6,609.1 L266.0,611.3 L266.4,613.7 L266.7,616.1 L267.1,618.5 L267.5,621.0 L267.9,623.5 L268.2,625.9 L268.6,628.4 L269.0,630.8 L269.4,633.1 L269.7,635.3 L270.1,637.4 L270.5,639.7 L270.9,642.3 L271.3,645.0 L271.6,647.9 L272.0,650.9 L272.4,654.0 L272.8,657.2 L273.1,660.4 L273.5,663.6 L273.9,666.8 L274.3,669.9 L274.7,672.8 L275.0,675.7 L275.4,678.4 L275.8,680.8 L276.2,683.0 L276.5,685.0 L276.9,686.6 L277.3,687.9 L277.7,688.8 L278.0,689.4 L278.4,689.4 L278.8,689.3 L279.2,689.0 L279.6,688.5 L279.9,687.9 L280.3,687.1 L280.7,686.2 L281.1,685.2 L281.4,684.1 L281.8,682.9 L282.2,681.6 L282.6,680.3 L283.0,678.9 L283.3,677.4 L283.7,676.0 L284.1,674.5 L284.5,673.0 L284.8,671.5 L285.2,670.1 L285.6,668.6 L286.0,667.2 L286.4,665.8 L286.7,664.2 L287.1,662.5 L287.5,660.7 L287.9,658.8 L288.2,656.8 L288.6,654.7 L289.0,652.5 L289.4,650.4 L289.7,648.2 L290.1,645.9 L290.5,643.7 L290.9,641.6 L291.3,639.4 L291.6,637.3 L292.0,635.3 L292.4,633.3 L292.8,631.4 L293.1,629.7 L293.5,628.1 L293.9,626.6 L294.3,625.2 L294.7,624.1 L295.0,623.1 L295.4,622.2 L295.8,621.3 L296.2,620.5 L296.5,619.6 L296.9,618.8 L297.3,617.9 L297.7,617.1 L298.0,616.4 L298.4,615.6 L298.8,614.9 L299.2,614.3 L299.6,613.7 L299.9,613.1 L300.3,612.6 L300.7,612.2 L301.1,611.8 L301.4,611.5 L301.8,611.2 L302.2,611.1 L302.6,611.0 L303.0,611.1 L303.3,611.4 L303.7,611.9 L304.1,612.6 L304.5,613.6 L304.8,614.7 L305.2,616.0 L305.6,617.4 L306.0,619.0 L306.4,620.7 L306.7,622.5 L307.1,624.3 L307.5,626.3 L307.9,628.3 L308.2,630.4 L308.6,632.5 L309.0,634.6 L309.4,636.7 L309.7,638.7 L310.1,640.8 L310.5,643.1 L310.9,645.7 L311.3,648.5 L311.6,651.6 L312.0,654.8 L312.4,658.2 L312.8,661.7 L313.1,665.3 L313.5,668.9 L313.9,672.5 L314.3,676.1 L314.7,679.6 L315.0,683.0 L315.4,686.2 L315.8,689.3 L316.2,692.2 L316.5,694.8 L316.9,697.1 L317.3,699.2 L317.7,701.4 L318.0,703.6 L318.4,705.8 L318.8,707.9 L319.2,710.1 L319.6,712.2 L319.9,714.3 L320.3,716.2 L320.7,718.1 L321.1,719.8 L321.4,721.4 L321.8,722.8 L322.2,724.1 L322.6,725.1 L323.0,726.0 L323.3,726.6 L323.7,726.9 L324.1,727.0 L324.5,726.9 L324.8,726.8 L325.2,726.7 L325.6,726.5 L326.0,726.2 L326.4,725.9 L326.7,725.6 L327.1,725.2 L327.5,724.8 L327.9,724.4 L328.2,723.9 L328.6,723.4 L329.0,722.9 L329.4,722.4 L329.7,721.9 L330.1,721.4 L330.5,720.9 L330.9,720.4 L331.3,719.9 L331.6,719.4 L332.0,719.0 L332.4,718.5 L332.8,718.1 L333.1,717.7 L333.5,717.3 L333.9,716.8 L334.3,716.4 L334.7,715.9 L335.0,715.4 L335.4,714.9 L335.8,714.3 L336.2,713.8 L336.5,713.3 L336.9,712.8 L337.3,712.2 L337.7,711.8 L338.0,711.3 L338.4,710.8 L338.8,710.4 L339.2,710.0 L339.6,709.7 L339.9,709.4 L340.3,709.2 L340.7,709.0 L341.1,708.8 L341.4,708.7 L341.8,708.7 L342.2,708.9 L342.6,709.3 L343.0,709.9 L343.3,710.6 L343.7,711.5 L344.1,712.6 L344.5,713.8 L344.8,715.1 L345.2,716.6 L345.6,718.1 L346.0,719.7 L346.3,721.4 L346.7,723.1 L347.1,724.9 L347.5,726.7 L347.9,728.5 L348.2,730.3 L348.6,732.1 L349.0,733.9 L349.4,735.7 L349.7,737.3 L350.1,739.0 L350.5,740.9 L350.9,742.7 L351.3,744.7 L351.6,746.8 L352.0,748.9 L352.4,751.0 L352.8,753.2 L353.1,755.4 L353.5,757.7 L353.9,760.0 L354.3,762.2 L354.7,764.5 L355.0,766.8 L355.4,769.1 L355.8,771.3 L356.2,773.5 L356.5,775.7 L356.9,777.8 L357.3,780.0 L357.7,782.2 L358.0,784.4 L358.4,786.7 L358.8,788.9 L359.2,791.1 L359.6,793.3 L359.9,795.5 L360.3,797.7 L360.7,799.8 L361.1,801.9 L361.4,803.9 L361.8,805.8 L362.2,807.6 L362.6,809.4 L363.0,811.3 L363.3,813.1 L363.7,815.0 L364.1,816.8 L364.5,818.7 L364.8,820.5 L365.2,822.3 L365.6,824.0 L366.0,825.7 L366.3,827.3 L366.7,828.8 L367.1,830.2 L367.5,831.5 L367.9,832.7 L368.2,833.7 L368.6,834.6 L369.0,835.3 L369.4,835.9 L369.7,836.5 L370.1,837.0 L370.5,837.5 L370.9,838.0 L371.3,838.5 L371.6,838.9 L372.0,839.3 L372.4,839.6 L372.8,840.0 L373.1,840.3 L373.5,840.6 L373.9,840.8 L374.3,841.0 L374.7,841.2 L375.0,841.3 L375.4,841.4 L375.8,841.5 L376.2,841.6 L376.5,841.7 L376.9,841.8 L377.3,841.9 L377.7,842.0 L378.0,842.0 L378.4,842.1 L378.8,842.1 L379.2,842.2 L379.6,842.2 L379.9,842.3 L380.3,842.3 L380.7,842.3 L381.1,842.4 L381.4,842.4 L381.8,842.5 L382.2,842.6 L382.6,842.6 L383.0,842.7 L383.3,842.8 L383.7,842.9 L384.1,843.0 L384.5,843.1 L384.8,843.2 L385.2,843.3 L385.6,843.5 L386.0,843.8 L386.3,844.1 L386.7,844.5 L387.1,844.9 L387.5,845.3 L387.9,845.9 L388.2,846.4 L388.6,847.0 L389.0,847.6 L389.4,848.3 L389.7,849.0 L390.1,849.7 L390.5,850.5 L390.9,851.3 L391.3,852.1 L391.6,852.9 L392.0,853.7 L392.4,854.5 L392.8,855.4 L393.1,856.2 L393.5,857.1 L393.9,858.2 L394.3,859.3 L394.6,860.5 L395.0,861.7 L395.4,863.1 L395.8,864.5 L396.2,865.9 L396.5,867.4 L396.9,868.9 L397.3,870.4 L397.7,872.0 L398.0,873.5 L398.4,875.1 L398.8,876.6 L399.2,878.1 L399.6,879.5 L399.9,880.9 L400.3,882.3 L400.7,883.7 L401.1,885.1 L401.4,886.5 L401.8,887.9 L402.2,889.3 L402.6,890.7 L403.0,892.1 L403.3,893.5 L403.7,894.9 L404.1,896.3 L404.5,897.7 L404.8,899.0 L405.2,900.4 L405.6,901.7 L406.0,903.0 L406.3,904.3 L406.7,905.6 L407.1,906.9 L407.5,908.2 L407.9,909.5 L408.2,910.9 L408.6,912.2 L409.0,913.6 L409.4,915.0 L409.7,916.4 L410.1,917.7 L410.5,919.0 L410.9,920.3 L411.3,921.4 L411.6,922.6 L412.0,923.6 L412.4,924.5 L412.8,925.3 L413.1,926.0 L413.5,926.6 L413.9,927.0 L414.3,927.4 L414.6,927.8 L415.0,928.2 L415.4,928.6 L415.8,929.0 L416.2,929.3 L416.5,929.6 L416.9,930.0 L417.3,930.2 L417.7,930.5 L418.0,930.7 L418.4,930.9 L418.8,931.1 L419.2,931.3 L419.6,931.4 L419.9,931.5 L420.3,931.5 L420.7,931.5 L421.1,931.5 L421.4,931.5 L421.8,931.5 L422.2,931.5 L422.6,931.5 L423.0,931.5 L423.3,931.4 L423.7,931.4 L424.1,931.4 L424.5,931.3 L424.8,931.3 L425.2,931.3 L425.6,931.2 L426.0,931.2 L426.3,931.2 L426.7,931.1 L427.1,931.1 L427.5,931.1 L427.9,931.0 L428.2,931.0 L428.6,931.0 L429.0,931.0 L429.4,930.9 L429.7,930.9 L430.1,930.9 L430.5,930.9 L430.9,930.9 L431.3,930.9 L431.6,930.9 L432.0,930.9 L432.4,931.0 L432.8,931.1 L433.1,931.3 L433.5,931.6 L433.9,931.9 L434.3,932.2 L434.6,932.6 L435.0,933.0 L435.4,933.5 L435.8,934.0 L436.2,934.5 L436.5,935.0 L436.9,935.6 L437.3,936.2 L437.7,936.8 L438.0,937.5 L438.4,938.1 L438.8,938.8 L439.2,939.4 L439.6,940.1 L439.9,940.8 L440.3,941.4 L440.7,942.1 L441.1,942.7 L441.4,943.4 L441.8,944.0 L442.2,944.7 L442.6,945.3 L442.9,945.8 L443.3,946.4 L443.7,947.0 L444.1,947.6 L444.5,948.3 L444.8,948.9 L445.2,949.6 L445.6,950.3 L446.0,951.0 L446.3,951.7 L446.7,952.4 L447.1,953.1 L447.5,953.8 L447.9,954.5 L448.2,955.2 L448.6,955.9 L449.0,956.6 L449.4,957.3 L449.7,957.9 L450.1,958.5 L450.5,959.2 L450.9,959.7 L451.3,960.3 L451.6,960.8 L452.0,961.3 L452.4,961.8 L452.8,962.3 L453.1,962.8 L453.5,963.3 L453.9,963.8 L454.3,964.3 L454.6,964.8 L455.0,965.3 L455.4,965.8 L455.8,966.3 L456.2,966.7 L456.5,967.2 L456.9,967.7 L457.3,968.1 L457.7,968.5 L458.0,968.9 L458.4,969.3 L458.8,969.6 L459.2,970.0 L459.6,970.3 L459.9,970.5 L460.3,970.8 L460.7,971.0 L461.1,971.2 L461.4,971.3 L461.8,971.4 L462.2,971.4 L462.6,971.4 L462.9,971.4 L463.3,971.4 L463.7,971.4 L464.1,971.3 L464.5,971.3 L464.8,971.2 L465.2,971.1 L465.6,971.0 L466.0,970.9 L466.3,970.8 L466.7,970.7 L467.1,970.6 L467.5,970.4 L467.9,970.3 L468.2,970.2 L468.6,970.0 L469.0,969.9 L469.4,969.7 L469.7,969.6 L470.1,969.4 L470.5,969.2 L470.9,969.1 L471.2,968.9 L471.6,968.7 L472.0,968.6 L472.4,968.4 L472.8,968.2 L473.1,968.1 L473.5,967.9 L473.9,967.7 L474.3,967.6 L474.6,967.4 L475.0,967.3 L475.4,967.1 L475.8,967.0 L476.2,966.8 L476.5,966.7 L476.9,966.6 L477.3,966.4 L477.7,966.3 L478.0,966.2 L478.4,966.1 L478.8,966.0 L479.2,966.0 L479.6,965.9 L479.9,965.8 L480.3,965.8 L480.7,965.7 L481.1,965.7 L481.4,965.7 L481.8,965.7 L482.2,965.7 L482.6,965.8 L482.9,965.9 L483.3,966.0 L483.7,966.1 L484.1,966.3 L484.5,966.5 L484.8,966.8 L485.2,967.0 L485.6,967.3 L486.0,967.6 L486.3,967.9 L486.7,968.2 L487.1,968.6 L487.5,968.9 L487.9,969.3 L488.2,969.7 L488.6,970.1 L489.0,970.5 L489.4,970.9 L489.7,971.3 L490.1,971.7 L490.5,972.1 L490.9,972.5 L491.2,972.9 L491.6,973.3 L492.0,973.7 L492.4,974.1 L492.8,974.5 L493.1,974.9 L493.5,975.2 L493.9,975.6 L494.3,975.9 L494.6,976.2 L495.0,976.5 L495.4,976.8 L495.8,977.1 L496.2,977.5 L496.5,977.8 L496.9,978.1 L497.3,978.5 L497.7,978.8 L498.0,979.2 L498.4,979.6 L498.8,979.9 L499.2,980.3 L499.6,980.7 L499.9,981.1 L500.3,981.4 L500.7,981.8 L501.1,982.2 L501.4,982.5 L501.8,982.9 L502.2,983.2 L502.6,983.5 L502.9,983.9 L503.3,984.2 L503.7,984.5 L504.1,984.8 L504.5,985.0 L504.8,985.3 L505.2,985.5 L505.6,985.7 L506.0,985.9 L506.3,986.1 L506.7,986.3 L507.1,986.4 L507.5,986.5 L507.9,986.6 L508.2,986.6 L508.6,986.6 L509.0,986.6 L509.4,986.6 L509.7,986.6 L510.1,986.6 L510.5,986.5 L510.9,986.5 L511.2,986.4 L511.6,986.3 L512.0,986.2 L512.4,986.1 L512.8,986.0 L513.1,985.9 L513.5,985.8 L513.9,985.7 L514.3,985.6 L514.6,985.4 L515.0,985.3 L515.4,985.1 L515.8,985.0 L516.2,984.8 L516.5,984.7 L516.9,984.5 L517.3,984.3 L517.7,984.2 L518.0,984.0 L518.4,983.8 L518.8,983.6 L519.2,983.4 L519.5,983.3 L519.9,983.1 L520.3,982.9 L520.7,982.7 L521.1,982.5 L521.4,982.4 L521.8,982.2 L522.2,982.0 L522.6,981.8 L522.9,981.6 L523.3,981.5 L523.7,981.3 L524.1,981.1 L524.5,981.0 L524.8,980.8 L525.2,980.7 L525.6,980.5 L526.0,980.4 L526.3,980.3 L526.7,980.1 L527.1,980.0 L527.5,979.9 L527.9,979.8 L528.2,979.7 L528.6,979.6 L529.0,979.5 L529.4,979.4 L529.7,979.4 L530.1,979.3 L530.5,979.3 L530.9,979.2 L531.2,979.2 L531.6,979.2 L532.0,979.2 L532.4,979.2 L532.8,979.3 L533.1,979.3 L533.5,979.4 L533.9,979.5 L534.3,979.6 L534.6,979.7 L535.0,979.9 L535.4,980.0 L535.8,980.2 L536.2,980.4 L536.5,980.6 L536.9,980.8 L537.3,981.0 L537.7,981.2 L538.0,981.4 L538.4,981.7 L538.8,981.9 L539.2,982.2 L539.5,982.5 L539.9,982.7 L540.3,983.0 L540.7,983.3 L541.1,983.6 L541.4,983.9 L541.8,984.2 L542.2,984.5 L542.6,984.8 L542.9,985.1 L543.3,985.4 L543.7,985.7 L544.1,986.0 L544.5,986.3 L544.8,986.6 L545.2,986.9 L545.6,987.2 L546.0,987.5 L546.3,987.8 L546.7,988.1 L547.1,988.4 L547.5,988.6 L547.9,988.9 L548.2,989.1 L548.6,989.4 L549.0,989.6 L549.4,989.9 L549.7,990.1 L550.1,990.3 L550.5,990.5 L550.9,990.7 L551.2,990.8 L551.6,991.0 L552.0,991.1 L552.4,991.3 L552.8,991.4 L553.1,991.5 L553.5,991.6 L553.9,991.6 L554.3,991.7 L554.6,991.7 L555.0,991.7 L555.4,991.7 L555.8,991.7 L556.2,991.7 L556.5,991.7 L556.9,991.6 L557.3,991.6 L557.7,991.5 L558.0,991.5 L558.4,991.4 L558.8,991.3 L559.2,991.3 L559.5,991.2 L559.9,991.1 L560.3,991.0 L560.7,990.9 L561.1,990.8 L561.4,990.7 L561.8,990.6 L562.2,990.5 L562.6,990.4 L562.9,990.3 L563.3,990.1 L563.7,990.0 L564.1,989.9 L564.5,989.8 L564.8,989.6 L565.2,989.5 L565.6,989.4 L566.0,989.2 L566.3,989.1 L566.7,989.0 L567.1,988.8 L567.5,988.7 L567.9,988.5 L568.2,988.4 L568.6,988.3 L569.0,988.1 L569.4,988.0 L569.7,987.9 L570.1,987.7 L570.5,987.6 L570.9,987.5 L571.2,987.3 L571.6,987.2 L572.0,987.1 L572.4,987.0 L572.8,986.9 L573.1,986.8 L573.5,986.7 L573.9,986.5 L574.3,986.4 L574.6,986.4 L575.0,986.3 L575.4,986.2 L575.8,986.1 L576.2,986.0 L576.5,986.0 L576.9,985.9 L577.3,985.8 L577.7,985.8 L578.0,985.7 L578.4,985.7 L578.8,985.7 L579.2,985.7 L579.5,985.6 L579.9,985.6 L580.3,985.6 L580.7,985.7 L581.1,985.7 L581.4,985.7 L581.8,985.8 L582.2,985.8 L582.6,985.9 L582.9,985.9 L583.3,986.0 L583.7,986.1 L584.1,986.2 L584.5,986.3 L584.8,986.4 L585.2,986.5 L585.6,986.7 L586.0,986.8 L586.3,986.9 L586.7,987.1 L587.1,987.2 L587.5,987.4 L587.8,987.5 L588.2,987.7 L588.6,987.8 L589.0,988.0 L589.4,988.2 L589.7,988.3 L590.1,988.5 L590.5,988.7 L590.9,988.9 L591.2,989.1 L591.6,989.2 L592.0,989.4 L592.4,989.6 L592.8,989.8 L593.1,990.0 L593.5,990.2 L593.9,990.3 L594.3,990.5 L594.6,990.7 L595.0,990.9 L595.4,991.0 L595.8,991.2 L596.2,991.4 L596.5,991.6 L596.9,991.7 L597.3,991.9 L597.7,992.0 L598.0,992.2 L598.4,992.3 L598.8,992.5 L599.2,992.6 L599.5,992.7 L599.9,992.9 L600.3,993.0 L600.7,993.1 L601.1,993.2 L601.4,993.3 L601.8,993.4 L602.2,993.4 L602.6,993.5 L602.9,993.6 L603.3,993.6 L603.7,993.7 L604.1,993.7 L604.5,993.7 L604.8,993.7 L605.2,993.7 L605.6,993.7 L606.0,993.7 L606.3,993.7 L606.7,993.7 L607.1,993.7 L607.5,993.6 L607.8,993.6 L608.2,993.5 L608.6,993.5 L609.0,993.4 L609.4,993.4 L609.7,993.3 L610.1,993.2 L610.5,993.1 L610.9,993.1 L611.2,993.0 L611.6,992.9 L612.0,992.8 L612.4,992.7 L612.8,992.6 L613.1,992.5 L613.5,992.4 L613.9,992.3 L614.3,992.2 L614.6,992.1 L615.0,992.0 L615.4,991.9 L615.8,991.8 L616.1,991.7 L616.5,991.6 L616.9,991.4 L617.3,991.3 L617.7,991.2 L618.0,991.1 L618.4,991.0 L618.8,990.9 L619.2,990.8 L619.5,990.6 L619.9,990.5 L620.3,990.4 L620.7,990.3 L621.1,990.2 L621.4,990.1 L621.8,990.0 L622.2,989.9 L622.6,989.8 L622.9,989.7 L623.3,989.6 L623.7,989.5 L624.1,989.4 L624.5,989.4 L624.8,989.3 L625.2,989.2 L625.6,989.1 L626.0,989.1 L626.3,989.0 L626.7,988.9 L627.1,988.9 L627.5,988.8 L627.8,988.8 L628.2,988.8 L628.6,988.7 L629.0,988.7 L629.4,988.7 L629.7,988.7 L630.1,988.7 L630.5,988.7 L630.9,988.7 L631.2,988.7 L631.6,988.7 L632.0,988.8 L632.4,988.8 L632.8,988.9 L633.1,988.9 L633.5,989.0 L633.9,989.1 L634.3,989.1 L634.6,989.2 L635.0,989.3 L635.4,989.4 L635.8,989.5 L636.1,989.6 L636.5,989.7 L636.9,989.8 L637.3,990.0 L637.7,990.1 L638.0,990.2 L638.4,990.3 L638.8,990.5 L639.2,990.6 L639.5,990.7 L639.9,990.9 L640.3,991.0 L640.7,991.2 L641.1,991.3 L641.4,991.4 L641.8,991.6 L642.2,991.7 L642.6,991.9 L642.9,992.0 L643.3,992.1 L643.7,992.3 L644.1,992.4 L644.5,992.5 L644.8,992.7 L645.2,992.8 L645.6,992.9 L646.0,993.1 L646.3,993.2 L646.7,993.3 L647.1,993.4 L647.5,993.5 L647.8,993.6 L648.2,993.7 L648.6,993.8 L649.0,993.9 L649.4,994.0 L649.7,994.1 L650.1,994.1 L650.5,994.2 L650.9,994.2 L651.2,994.3 L651.6,994.3 L652.0,994.4 L652.4,994.4 L652.8,994.4 L653.1,994.4 L653.5,994.4 L653.9,994.4 L654.3,994.4 L654.6,994.4 L655.0,994.4 L655.4,994.4 L655.8,994.3 L656.1,994.3 L656.5,994.3 L656.9,994.2 L657.3,994.2 L657.7,994.1 L658.0,994.1 L658.4,994.0 L658.8,994.0 L659.2,993.9 L659.5,993.8 L659.9,993.8 L660.3,993.7 L660.7,993.6 L661.1,993.6 L661.4,993.5 L661.8,993.4 L662.2,993.4 L662.6,993.3 L662.9,993.2 L663.3,993.1 L663.7,993.0 L664.1,993.0 L664.5,992.9 L664.8,992.8 L665.2,992.7 L665.6,992.6 L666.0,992.5 L666.3,992.5 L666.7,992.4 L667.1,992.3 L667.5,992.2 L667.8,992.1 L668.2,992.0 L668.6,992.0 L669.0,991.9 L669.4,991.8 L669.7,991.7 L670.1,991.7 L670.5,991.6 L670.9,991.5 L671.2,991.4 L671.6,991.4 L672.0,991.3 L672.4,991.2 L672.8,991.2 L673.1,991.1 L673.5,991.1 L673.9,991.0 L674.3,991.0 L674.6,990.9 L675.0,990.9 L675.4,990.9 L675.8,990.8 L676.1,990.8 L676.5,990.8 L676.9,990.7 L677.3,990.7 L677.7,990.7 L678.0,990.7 L678.4,990.7 L678.8,990.7 L679.2,990.7 L679.5,990.7 L679.9,990.8 L680.3,990.8 L680.7,990.8 L681.1,990.9 L681.4,990.9 L681.8,991.0 L682.2,991.0 L682.6,991.1 L682.9,991.1 L683.3,991.2 L683.7,991.3 L684.1,991.3 L684.4,991.4 L684.8,991.5 L685.2,991.6 L685.6,991.7 L686.0,991.7 L686.3,991.8 L686.7,991.9 L687.1,992.0 L687.5,992.1 L687.8,992.2 L688.2,992.3 L688.6,992.4" stroke="#008000" stroke-dasharray="9.1 3.9"/>
  <path d="M84.8,886.8 L85.2,887.6 L85.6,887.2 L86.0,886.2 L86.4,884.7 L86.7,882.8 L87.1,880.7 L87.5,878.3 L87.9,876.0 L88.2,873.7 L88.6,871.5 L89.0,869.4 L89.4,867.4 L89.8,865.5 L90.1,863.6 L90.5,861.7 L90.9,859.7 L91.3,857.6 L91.6,855.3 L92.0,852.7 L92.4,850.0 L92.8,847.0 L93.2,843.9 L93.5,840.7 L93.9,837.4 L94.3,834.1 L94.7,830.9 L95.0,827.9 L95.4,825.1 L95.8,822.7 L96.2,820.7 L96.5,819.2 L96.9,818.2 L97.3,817.8 L97.7,817.8 L98.1,818.3 L98.4,819.1 L98.8,820.4 L99.2,821.8 L99.6,823.5 L99.9,825.1 L100.3,826.8 L100.7,828.3 L101.1,829.6 L101.5,830.6 L101.8,831.2 L102.2,831.3 L102.6,830.9 L103.0,830.1 L103.3,828.8 L103.7,827.0 L104.1,824.8 L104.5,822.2 L104.8,819.4 L105.2,816.3 L105.6,813.2 L106.0,810.0 L106.4,806.9 L106.7,804.1 L107.1,801.5 L107.5,799.3 L107.9,797.5 L108.2,796.2 L108.6,795.5 L109.0,795.2 L109.4,795.4 L109.8,796.1 L110.1,797.2 L110.5,798.7 L110.9,800.3 L111.3,802.2 L111.6,804.1 L112.0,805.9 L112.4,807.6 L112.8,809.0 L113.2,810.2 L113.5,810.9 L113.9,811.2 L114.3,810.9 L114.7,810.2 L115.0,809.0 L115.4,807.3 L115.8,805.1 L116.2,802.6 L116.5,799.8 L116.9,796.9 L117.3,793.8 L117.7,790.8 L118.1,787.8 L118.4,785.1 L118.8,782.6 L119.2,780.5 L119.6,778.9 L119.9,777.8 L120.3,777.2 L120.7,777.1 L121.1,777.5 L121.5,778.5 L121.8,779.8 L122.2,781.6 L122.6,783.6 L123.0,785.8 L123.3,788.0 L123.7,790.3 L124.1,792.4 L124.5,794.3 L124.8,795.8 L125.2,796.9 L125.6,797.6 L126.0,797.8 L126.4,797.4 L126.7,796.5 L127.1,795.0 L127.5,793.1 L127.9,790.7 L128.2,788.1 L128.6,785.2 L129.0,782.2 L129.4,779.2 L129.8,776.3 L130.1,773.7 L130.5,771.4 L130.9,769.5 L131.3,768.2 L131.6,767.5 L132.0,767.3 L132.4,767.6 L132.8,768.6 L133.1,770.0 L133.5,771.8 L133.9,774.0 L134.3,776.5 L134.7,779.1 L135.0,781.8 L135.4,784.4 L135.8,786.9 L136.2,789.1 L136.5,790.9 L136.9,792.4 L137.3,793.4 L137.7,793.9 L138.1,793.9 L138.4,793.3 L138.8,792.3 L139.2,790.8 L139.6,788.8 L139.9,786.5 L140.3,783.8 L140.7,780.9 L141.1,778.0 L141.5,775.1 L141.8,772.3 L142.2,769.8 L142.6,767.6 L143.0,765.8 L143.3,764.5 L143.7,763.6 L144.1,763.0 L144.5,762.7 L144.8,762.8 L145.2,763.2 L145.6,763.9 L146.0,764.9 L146.4,766.1 L146.7,767.5 L147.1,769.0 L147.5,770.2 L147.9,771.2 L148.2,771.8 L148.6,772.1 L149.0,772.0 L149.4,771.5 L149.8,770.6 L150.1,769.5 L150.5,768.0 L150.9,766.2 L151.3,764.0 L151.6,761.4 L152.0,758.8 L152.4,756.0 L152.8,753.2 L153.1,750.6 L153.5,748.3 L153.9,746.4 L154.3,745.0 L154.7,744.2 L155.0,744.0 L155.4,744.3 L155.8,745.3 L156.2,746.7 L156.5,748.7 L156.9,751.0 L157.3,753.7 L157.7,756.7 L158.1,760.0 L158.4,763.3 L158.8,766.7 L159.2,770.0 L159.6,773.0 L159.9,775.7 L160.3,777.9 L160.7,779.7 L161.1,780.9 L161.5,781.4 L161.8,781.5 L162.2,781.0 L162.6,780.1 L163.0,778.8 L163.3,777.1 L163.7,775.2 L164.1,773.1 L164.5,770.9 L164.8,768.8 L165.2,766.8 L165.6,765.0 L166.0,763.5 L166.4,762.5 L166.7,761.9 L167.1,761.9 L167.5,762.3 L167.9,763.3 L168.2,764.7 L168.6,766.5 L169.0,768.6 L169.4,771.0 L169.8,773.6 L170.1,776.2 L170.5,778.7 L170.9,781.1 L171.3,783.2 L171.6,785.0 L172.0,786.3 L172.4,787.1 L172.8,787.5 L173.1,787.3 L173.5,786.6 L173.9,785.4 L174.3,783.7 L174.7,781.6 L175.0,779.1 L175.4,776.4 L175.8,773.5 L176.2,770.6 L176.5,767.7 L176.9,765.1 L177.3,762.8 L177.7,760.9 L178.1,759.5 L178.4,758.6 L178.8,758.3 L179.2,758.7 L179.6,759.5 L179.9,760.9 L180.3,762.7 L180.7,764.9 L181.1,767.3 L181.4,770.0 L181.8,772.7 L182.2,775.4 L182.6,777.9 L183.0,780.2 L183.3,782.1 L183.7,783.6 L184.1,784.5 L184.5,784.8 L184.8,784.5 L185.2,783.5 L185.6,782.0 L186.0,779.9 L186.4,777.4 L186.7,774.6 L187.1,771.5 L187.5,768.3 L187.9,765.2 L188.2,762.1 L188.6,759.3 L189.0,756.7 L189.4,754.4 L189.8,752.5 L190.1,751.2 L190.5,750.3 L190.9,750.0 L191.3,750.2 L191.6,750.8 L192.0,752.0 L192.4,753.5 L192.8,755.4 L193.1,757.4 L193.5,759.6 L193.9,761.7 L194.3,763.8 L194.7,765.6 L195.0,767.1 L195.4,768.2 L195.8,768.9 L196.2,769.1 L196.5,768.7 L196.9,767.9 L197.3,766.5 L197.7,764.7 L198.1,762.5 L198.4,759.9 L198.8,757.1 L199.2,754.2 L199.6,751.3 L199.9,748.4 L200.3,745.6 L200.7,743.2 L201.1,741.1 L201.4,739.5 L201.8,738.3 L202.2,737.6 L202.6,737.5 L203.0,737.9 L203.3,738.7 L203.7,740.0 L204.1,741.6 L204.5,743.5 L204.8,745.6 L205.2,747.7 L205.6,749.9 L206.0,751.9 L206.4,753.6 L206.7,755.0 L207.1,756.0 L207.5,756.6 L207.9,756.6 L208.2,756.1 L208.6,755.1 L209.0,753.5 L209.4,751.5 L209.8,749.1 L210.1,746.4 L210.5,743.4 L210.9,740.3 L211.3,737.2 L211.6,734.1 L212.0,731.2 L212.4,728.6 L212.8,726.4 L213.1,724.6 L213.5,723.2 L213.9,722.4 L214.3,722.1 L214.7,722.3 L215.0,723.0 L215.4,724.1 L215.8,725.6 L216.2,727.4 L216.5,729.3 L216.9,731.3 L217.3,733.3 L217.7,735.2 L218.1,736.8 L218.4,738.1 L218.8,738.9 L219.2,739.4 L219.6,739.3 L219.9,738.7 L220.3,737.5 L220.7,735.9 L221.1,733.8 L221.4,731.3 L221.8,728.5 L222.2,725.4 L222.6,722.2 L223.0,719.0 L223.3,715.8 L223.7,712.9 L224.1,710.2 L224.5,707.8 L224.8,705.9 L225.2,704.5 L225.6,703.6 L226.0,703.2 L226.4,703.4 L226.7,704.0 L227.1,705.0 L227.5,706.4 L227.9,708.1 L228.2,709.9 L228.6,711.8 L229.0,713.7 L229.4,715.4 L229.8,716.9 L230.1,718.1 L230.5,718.8 L230.9,719.1 L231.3,718.8 L231.6,718.0 L232.0,716.7 L232.4,714.8 L232.8,712.5 L233.1,709.7 L233.5,706.6 L233.9,703.2 L234.3,699.7 L234.7,696.2 L235.0,692.8 L235.4,689.5 L235.8,686.5 L236.2,683.9 L236.5,681.8 L236.9,680.1 L237.3,678.9 L237.7,678.2 L238.1,678.0 L238.4,678.4 L238.8,679.1 L239.2,680.3 L239.6,681.7 L239.9,683.3 L240.3,685.0 L240.7,686.7 L241.1,688.2 L241.4,689.6 L241.8,690.7 L242.2,691.4 L242.6,691.6 L243.0,691.3 L243.3,690.5 L243.7,689.2 L244.1,687.4 L244.5,685.2 L244.8,682.5 L245.2,679.6 L245.6,676.4 L246.0,673.1 L246.4,669.8 L246.7,666.5 L247.1,663.5 L247.5,660.7 L247.9,658.4 L248.2,656.4 L248.6,655.0 L249.0,654.1 L249.4,653.7 L249.7,653.9 L250.1,654.5 L250.5,655.6 L250.9,657.1 L251.3,658.9 L251.6,660.8 L252.0,662.9 L252.4,664.9 L252.8,666.7 L253.1,668.4 L253.5,669.7 L253.9,670.6 L254.3,671.0 L254.7,670.9 L255.0,670.3 L255.4,669.1 L255.8,667.3 L256.2,665.1 L256.5,662.5 L256.9,659.5 L257.3,656.2 L257.7,652.9 L258.1,649.5 L258.4,646.2 L258.8,643.1 L259.2,640.3 L259.6,638.0 L259.9,636.1 L260.3,634.7 L260.7,633.9 L261.1,633.7 L261.4,634.0 L261.8,634.7 L262.2,636.0 L262.6,637.6 L263.0,639.6 L263.3,641.8 L263.7,644.1 L264.1,646.4 L264.5,648.6 L264.8,650.6 L265.2,652.3 L265.6,653.5 L266.0,654.4 L266.4,654.7 L266.7,654.5 L267.1,653.9 L267.5,652.7 L267.9,651.0 L268.2,649.0 L268.6,646.6 L269.0,644.1 L269.4,641.4 L269.7,638.6 L270.1,636.0 L270.5,633.5 L270.9,631.3 L271.3,629.5 L271.6,628.1 L272.0,627.2 L272.4,626.9 L272.8,627.0 L273.1,627.7 L273.5,628.8 L273.9,630.4 L274.3,632.3 L274.7,634.5 L275.0,636.9 L275.4,639.4 L275.8,641.9 L276.2,644.2 L276.5,646.4 L276.9,648.2 L277.3,649.6 L277.7,650.5 L278.0,651.0 L278.4,650.9 L278.8,650.3 L279.2,649.3 L279.6,647.7 L279.9,645.8 L280.3,643.6 L280.7,641.1 L281.1,638.5 L281.4,635.8 L281.8,633.3 L282.2,630.9 L282.6,628.9 L283.0,627.2 L283.3,625.9 L283.7,625.1 L284.1,624.8 L284.5,625.1 L284.8,625.8 L285.2,627.1 L285.6,628.8 L286.0,630.8 L286.4,633.1 L286.7,635.6 L287.1,638.2 L287.5,640.8 L287.9,643.2 L288.2,645.5 L288.6,647.5 L289.0,649.0 L289.4,650.2 L289.7,650.9 L290.1,651.1 L290.5,650.7 L290.9,649.9 L291.3,648.6 L291.6,646.9 L292.0,644.9 L292.4,642.7 L292.8,640.4 L293.1,638.1 L293.5,635.9 L293.9,633.9 L294.3,632.3 L294.7,631.0 L295.0,630.1 L295.4,629.8 L295.8,630.0 L296.2,630.7 L296.5,632.0 L296.9,633.7 L297.3,635.9 L297.7,638.5 L298.0,641.3 L298.4,644.4 L298.8,647.5 L299.2,650.6 L299.6,653.5 L299.9,656.2 L300.3,658.6 L300.7,660.7 L301.1,662.2 L301.4,663.3 L301.8,663.9 L302.2,663.9 L302.6,663.5 L303.0,662.6 L303.3,661.3 L303.7,659.7 L304.1,657.9 L304.5,655.9 L304.8,653.9 L305.2,652.0 L305.6,650.3 L306.0,648.9 L306.4,647.9 L306.7,647.3 L307.1,647.2 L307.5,647.6 L307.9,648.6 L308.2,650.0 L308.6,652.0 L309.0,654.3 L309.4,657.0 L309.7,660.0 L310.1,663.1 L310.5,666.3 L310.9,669.4 L311.3,672.4 L311.6,675.2 L312.0,677.7 L312.4,679.7 L312.8,681.3 L313.1,682.3 L313.5,682.9 L313.9,682.9 L314.3,682.4 L314.7,681.5 L315.0,680.1 L315.4,678.5 L315.8,676.6 L316.2,674.6 L316.5,672.6 L316.9,670.6 L317.3,668.9 L317.7,667.4 L318.0,666.3 L318.4,665.6 L318.8,665.5 L319.2,665.8 L319.6,666.7 L319.9,668.1 L320.3,669.9 L320.7,672.3 L321.1,675.0 L321.4,677.9 L321.8,681.1 L322.2,684.4 L322.6,687.7 L323.0,690.8 L323.3,693.7 L323.7,696.3 L324.1,698.6 L324.5,700.3 L324.8,701.6 L325.2,702.4 L325.6,702.6 L326.0,702.4 L326.4,701.7 L326.7,700.7 L327.1,699.3 L327.5,697.7 L327.9,695.9 L328.2,694.2 L328.6,692.5 L329.0,691.0 L329.4,689.8 L329.7,689.0 L330.1,688.7 L330.5,689.0 L330.9,689.8 L331.3,691.2 L331.6,693.0 L332.0,695.3 L332.4,697.9 L332.8,700.7 L333.1,703.7 L333.5,706.8 L333.9,709.9 L334.3,712.9 L334.7,715.8 L335.0,718.3 L335.4,720.6 L335.8,722.6 L336.2,724.2 L336.5,725.4 L336.9,726.2 L337.3,726.7 L337.7,726.8 L338.0,726.7 L338.4,726.4 L338.8,725.9 L339.2,725.3 L339.6,724.7 L339.9,724.1 L340.3,723.7 L340.7,723.4 L341.1,723.3 L341.4,723.5 L341.8,723.9 L342.2,724.7 L342.6,725.7 L343.0,727.0 L343.3,728.6 L343.7,730.4 L344.1,732.5 L344.5,734.7 L344.8,737.0 L345.2,739.4 L345.6,741.8 L346.0,744.2 L346.3,746.4 L346.7,748.6 L347.1,750.5 L347.5,752.3 L347.9,753.8 L348.2,755.2 L348.6,756.3 L349.0,757.2 L349.4,757.9 L349.7,758.4 L350.1,758.8 L350.5,759.1 L350.9,759.3 L351.3,759.5 L351.6,759.7 L352.0,759.9 L352.4,760.3 L352.8,760.7 L353.1,761.2 L353.5,762.0 L353.9,762.8 L354.3,763.9 L354.7,765.1 L355.0,766.5 L355.4,768.0 L355.8,769.6 L356.2,771.3 L356.5,773.0 L356.9,774.8 L357.3,776.6 L357.7,778.4 L358.0,780.1 L358.4,781.8 L358.8,783.3 L359.2,784.7 L359.6,786.0 L359.9,787.2 L360.3,788.3 L360.7,789.2 L361.1,790.0 L361.4,790.7 L361.8,791.3 L362.2,791.8 L362.6,792.3 L363.0,792.8 L363.3,793.3 L363.7,793.9 L364.1,794.4 L364.5,795.1 L364.8,795.8 L365.2,796.7 L365.6,797.6 L366.0,798.7 L366.3,799.8 L366.7,801.1 L367.1,802.4 L367.5,803.8 L367.9,805.3 L368.2,806.8 L368.6,808.3 L369.0,809.8 L369.4,811.4 L369.7,812.8 L370.1,814.2 L370.5,815.6 L370.9,816.8 L371.3,818.0 L371.6,819.0 L372.0,820.0 L372.4,820.9 L372.8,821.7 L373.1,822.5 L373.5,823.2 L373.9,823.8 L374.3,824.4 L374.7,825.0 L375.0,825.7 L375.4,826.3 L375.8,827.0 L376.2,827.7 L376.5,828.5 L376.9,829.4 L377.3,830.4 L377.7,831.5 L378.0,832.6 L378.4,833.9 L378.8,835.2 L379.2,836.6 L379.6,838.0 L379.9,839.5 L380.3,841.0 L380.7,842.5 L381.1,844.1 L381.4,845.5 L381.8,847.0 L382.2,848.4 L382.6,849.7 L383.0,851.0 L383.3,852.2 L383.7,853.3 L384.1,854.4 L384.5,855.3 L384.8,856.2 L385.2,857.1 L385.6,857.9 L386.0,858.7 L386.3,859.4 L386.7,860.2 L387.1,860.9 L387.5,861.7 L387.9,862.5 L388.2,863.4 L388.6,864.3 L389.0,865.2 L389.4,866.2 L389.7,867.2 L390.1,868.3 L390.5,869.4 L390.9,870.5 L391.3,871.7 L391.6,872.9 L392.0,874.1 L392.4,875.2 L392.8,876.4 L393.1,877.5 L393.5,878.6 L393.9,879.7 L394.3,880.7 L394.6,881.6 L395.0,882.5 L395.4,883.3 L395.8,884.0 L396.2,884.7 L396.5,885.3 L396.9,885.9 L397.3,886.5 L397.7,887.0 L398.0,887.5 L398.4,888.0 L398.8,888.5 L399.2,889.0 L399.6,889.6 L399.9,890.1 L400.3,890.8 L400.7,891.4 L401.1,892.1 L401.4,892.9 L401.8,893.7 L402.2,894.5 L402.6,895.4 L403.0,896.3 L403.3,897.3 L403.7,898.2 L404.1,899.2 L404.5,900.1 L404.8,901.0 L405.2,901.9 L405.6,902.8 L406.0,903.6 L406.3,904.4 L406.7,905.1 L407.1,905.7 L407.5,906.3 L407.9,906.9 L408.2,907.3 L408.6,907.8 L409.0,908.2 L409.4,908.5 L409.7,908.9 L410.1,909.2 L410.5,909.5 L410.9,909.9 L411.3,910.2 L411.6,910.5 L412.0,910.9 L412.4,911.4 L412.8,911.8 L413.1,912.3 L413.5,912.8 L413.9,913.4 L414.3,914.0 L414.6,914.6 L415.0,915.3 L415.4,916.0 L415.8,916.6 L416.2,917.3 L416.5,918.0 L416.9,918.6 L417.3,919.2 L417.7,919.8 L418.0,920.3 L418.4,920.8 L418.8,921.3 L419.2,921.7 L419.6,922.1 L419.9,922.5 L420.3,922.8 L420.7,923.1 L421.1,923.4 L421.4,923.7 L421.8,924.0 L422.2,924.3 L422.6,924.6 L423.0,925.0 L423.3,925.4 L423.7,925.8 L424.1,926.2 L424.5,926.7 L424.8,927.3 L425.2,927.9 L425.6,928.5 L426.0,929.1 L426.3,929.8 L426.7,930.5 L427.1,931.3 L427.5,932.0 L427.9,932.7 L428.2,933.4 L428.6,934.1 L429.0,934.7 L429.4,935.3 L429.7,935.8 L430.1,936.3 L430.5,936.8 L430.9,937.2 L431.3,937.5 L431.6,937.9 L432.0,938.1 L432.4,938.4 L432.8,938.6 L433.1,938.8 L433.5,939.0 L433.9,939.2 L434.3,939.5 L434.6,939.7 L435.0,940.0 L435.4,940.3 L435.8,940.6 L436.2,941.0 L436.5,941.4 L436.9,941.8 L437.3,942.3 L437.7,942.8 L438.0,943.4 L438.4,943.9 L438.8,944.5 L439.2,945.1 L439.6,945.7 L439.9,946.2 L440.3,946.8 L440.7,947.3 L441.1,947.8 L441.4,948.3 L441.8,948.7 L442.2,949.0 L442.6,949.4 L442.9,949.7 L443.3,949.9 L443.7,950.1 L444.1,950.3 L444.5,950.4 L444.8,950.6 L445.2,950.7 L445.6,950.9 L446.0,951.0 L446.3,951.2 L446.7,951.4 L447.1,951.6 L447.5,951.8 L447.9,952.1 L448.2,952.4 L448.6,952.8 L449.0,953.2 L449.4,953.6 L449.7,954.1 L450.1,954.5 L450.5,955.0 L450.9,955.5 L451.3,956.0 L451.6,956.4 L452.0,956.8 L452.4,957.3 L452.8,957.6 L453.1,958.0 L453.5,958.2 L453.9,958.5 L454.3,958.7 L454.6,958.8 L455.0,959.0 L455.4,959.0 L455.8,959.1 L456.2,959.1 L456.5,959.1 L456.9,959.2 L457.3,959.2 L457.7,959.2 L458.0,959.3 L458.4,959.3 L458.8,959.5 L459.2,959.6 L459.6,959.8 L459.9,960.0 L460.3,960.3 L460.7,960.6 L461.1,961.0 L461.4,961.4 L461.8,961.8 L462.2,962.2 L462.6,962.6 L462.9,963.0 L463.3,963.5 L463.7,963.9 L464.1,964.2 L464.5,964.6 L464.8,964.9 L465.2,965.1 L465.6,965.3 L466.0,965.5 L466.3,965.6 L466.7,965.7 L467.1,965.8 L467.5,965.8 L467.9,965.9 L468.2,965.9 L468.6,965.9 L469.0,965.9 L469.4,965.9 L469.7,965.9 L470.1,966.0 L470.5,966.1 L470.9,966.2 L471.2,966.4 L471.6,966.6 L472.0,966.9 L472.4,967.2 L472.8,967.5 L473.1,967.8 L473.5,968.2 L473.9,968.6 L474.3,969.0 L474.6,969.4 L475.0,969.8 L475.4,970.2 L475.8,970.6 L476.2,970.9 L476.5,971.2 L476.9,971.4 L477.3,971.6 L477.7,971.8 L478.0,971.9 L478.4,971.9 L478.8,972.0 L479.2,972.0 L479.6,971.9 L479.9,971.9 L480.3,971.8 L480.7,971.8 L481.1,971.7 L481.4,971.7 L481.8,971.7 L482.2,971.8 L482.6,971.9 L482.9,972.0 L483.3,972.1 L483.7,972.3 L484.1,972.5 L484.5,972.8 L484.8,973.1 L485.2,973.4 L485.6,973.7 L486.0,974.1 L486.3,974.4 L486.7,974.7 L487.1,975.0 L487.5,975.3 L487.9,975.5 L488.2,975.8 L488.6,975.9 L489.0,976.0 L489.4,976.1 L489.7,976.2 L490.1,976.2 L490.5,976.2 L490.9,976.1 L491.2,976.0 L491.6,975.9 L492.0,975.8 L492.4,975.8 L492.8,975.7 L493.1,975.6 L493.5,975.6 L493.9,975.6 L494.3,975.7 L494.6,975.8 L495.0,975.9 L495.4,976.1 L495.8,976.3 L496.2,976.5 L496.5,976.8 L496.9,977.1 L497.3,977.4 L497.7,977.7 L498.0,978.0 L498.4,978.3 L498.8,978.6 L499.2,978.9 L499.6,979.1 L499.9,979.3 L500.3,979.5 L500.7,979.6 L501.1,979.6 L501.4,979.7 L501.8,979.7 L502.2,979.6 L502.6,979.6 L502.9,979.5 L503.3,979.4 L503.7,979.3 L504.1,979.2 L504.5,979.1 L504.8,979.0 L505.2,979.0 L505.6,979.0 L506.0,979.0 L506.3,979.1 L506.7,979.2 L507.1,979.4 L507.5,979.6 L507.9,979.8 L508.2,980.0 L508.6,980.3 L509.0,980.6 L509.4,980.9 L509.7,981.2 L510.1,981.5 L510.5,981.7 L510.9,982.0 L511.2,982.2 L511.6,982.3 L512.0,982.5 L512.4,982.5 L512.8,982.6 L513.1,982.6 L513.5,982.6 L513.9,982.5 L514.3,982.4 L514.6,982.3 L515.0,982.1 L515.4,982.0 L515.8,981.9 L516.2,981.8 L516.5,981.7 L516.9,981.6 L517.3,981.6 L517.7,981.6 L518.0,981.6 L518.4,981.7 L518.8,981.8 L519.2,982.0 L519.5,982.2 L519.9,982.4 L520.3,982.7 L520.7,982.9 L521.1,983.2 L521.4,983.5 L521.8,983.7 L522.2,984.0 L522.6,984.2 L522.9,984.4 L523.3,984.5 L523.7,984.6 L524.1,984.7 L524.5,984.7 L524.8,984.7 L525.2,984.6 L525.6,984.6 L526.0,984.4 L526.3,984.3 L526.7,984.2 L527.1,984.0 L527.5,983.9 L527.9,983.7 L528.2,983.6 L528.6,983.5 L529.0,983.5 L529.4,983.5 L529.7,983.5 L530.1,983.6 L530.5,983.7 L530.9,983.8 L531.2,984.0 L531.6,984.2 L532.0,984.5 L532.4,984.7 L532.8,985.0 L533.1,985.2 L533.5,985.5 L533.9,985.7 L534.3,985.9 L534.6,986.1 L535.0,986.2 L535.4,986.3 L535.8,986.4 L536.2,986.4 L536.5,986.3 L536.9,986.3 L537.3,986.2 L537.7,986.1 L538.0,985.9 L538.4,985.8 L538.8,985.6 L539.2,985.4 L539.5,985.3 L539.9,985.2 L540.3,985.1 L540.7,985.0 L541.1,985.0 L541.4,985.0 L541.8,985.1 L542.2,985.2 L542.6,985.3 L542.9,985.5 L543.3,985.7 L543.7,985.9 L544.1,986.1 L544.5,986.4 L544.8,986.6 L545.2,986.9 L545.6,987.1 L546.0,987.3 L546.3,987.4 L546.7,987.6 L547.1,987.6 L547.5,987.7 L547.9,987.7 L548.2,987.7 L548.6,987.6 L549.0,987.5 L549.4,987.3 L549.7,987.2 L550.1,987.0 L550.5,986.9 L550.9,986.7 L551.2,986.5 L551.6,986.4 L552.0,986.3 L552.4,986.2 L552.8,986.2 L553.1,986.2 L553.5,986.3 L553.9,986.4 L554.3,986.5 L554.6,986.6 L555.0,986.8 L555.4,987.0 L555.8,987.3 L556.2,987.5 L556.5,987.8 L556.9,988.0 L557.3,988.2 L557.7,988.4 L558.0,988.5 L558.4,988.6 L558.8,988.7 L559.2,988.8 L559.5,988.8 L559.9,988.7 L560.3,988.6 L560.7,988.5 L561.1,988.4 L561.4,988.2 L561.8,988.0 L562.2,987.9 L562.6,987.7 L562.9,987.5 L563.3,987.4 L563.7,987.3 L564.1,987.2 L564.5,987.2 L564.8,987.1 L565.2,987.2 L565.6,987.3 L566.0,987.4 L566.3,987.5 L566.7,987.7 L567.1,987.9 L567.5,988.1 L567.9,988.4 L568.2,988.6 L568.6,988.8 L569.0,989.0 L569.4,989.2 L569.7,989.4 L570.1,989.5 L570.5,989.5 L570.9,989.6 L571.2,989.6 L571.6,989.5 L572.0,989.4 L572.4,989.3 L572.8,989.2 L573.1,989.0 L573.5,988.8 L573.9,988.6 L574.3,988.4 L574.6,988.3 L575.0,988.1 L575.4,988.0 L575.8,987.9 L576.2,987.9 L576.5,987.9 L576.9,987.9 L577.3,988.0 L577.7,988.1 L578.0,988.3 L578.4,988.4 L578.8,988.6 L579.2,988.9 L579.5,989.1 L579.9,989.3 L580.3,989.5 L580.7,989.7 L581.1,989.9 L581.4,990.0 L581.8,990.1 L582.2,990.2 L582.6,990.2 L582.9,990.2 L583.3,990.2 L583.7,990.1 L584.1,990.0 L584.5,989.8 L584.8,989.6 L585.2,989.5 L585.6,989.3 L586.0,989.1 L586.3,988.9 L586.7,988.8 L587.1,988.6 L587.5,988.6 L587.8,988.5 L588.2,988.5 L588.6,988.5 L589.0,988.6 L589.4,988.7 L589.7,988.9 L590.1,989.0 L590.5,989.2 L590.9,989.4 L591.2,989.7 L591.6,989.9 L592.0,990.1 L592.4,990.3 L592.8,990.5 L593.1,990.6 L593.5,990.7 L593.9,990.8 L594.3,990.8 L594.6,990.8 L595.0,990.7 L595.4,990.6 L595.8,990.5 L596.2,990.4 L596.5,990.2 L596.9,990.0 L597.3,989.8 L597.7,989.6 L598.0,989.4 L598.4,989.3 L598.8,989.2 L599.2,989.1 L599.5,989.0 L599.9,989.0 L600.3,989.0 L600.7,989.1 L601.1,989.2 L601.4,989.4 L601.8,989.5 L602.2,989.7 L602.6,989.9 L602.9,990.2 L603.3,990.4 L603.7,990.6 L604.1,990.8 L604.5,990.9 L604.8,991.1 L605.2,991.2 L605.6,991.2 L606.0,991.3 L606.3,991.3 L606.7,991.2 L607.1,991.1 L607.5,991.0 L607.8,990.8 L608.2,990.6 L608.6,990.4 L609.0,990.3 L609.4,990.1 L609.7,989.9 L610.1,989.7 L610.5,989.6 L610.9,989.5 L611.2,989.5 L611.6,989.4 L612.0,989.5 L612.4,989.5 L612.8,989.6 L613.1,989.8 L613.5,990.0 L613.9,990.1 L614.3,990.4 L614.6,990.6 L615.0,990.8 L615.4,991.0 L615.8,991.2 L616.1,991.4 L616.5,991.5 L616.9,991.6 L617.3,991.7 L617.7,991.7 L618.0,991.7 L618.4,991.6 L618.8,991.5 L619.2,991.4 L619.5,991.2 L619.9,991.0 L620.3,990.8 L620.7,990.6 L621.1,990.5 L621.4,990.3 L621.8,990.1 L622.2,990.0 L622.6,989.9 L622.9,989.8 L623.3,989.8 L623.7,989.8 L624.1,989.9 L624.5,990.0 L624.8,990.2 L625.2,990.3 L625.6,990.5 L626.0,990.7 L626.3,990.9 L626.7,991.1 L627.1,991.4 L627.5,991.5 L627.8,991.7 L628.2,991.8 L628.6,991.9 L629.0,992.0 L629.4,992.0 L629.7,992.0 L630.1,991.9 L630.5,991.8 L630.9,991.7 L631.2,991.6 L631.6,991.4 L632.0,991.2 L632.4,991.0 L632.8,990.8 L633.1,990.6 L633.5,990.5 L633.9,990.3 L634.3,990.2 L634.6,990.2 L635.0,990.2 L635.4,990.2 L635.8,990.2 L636.1,990.3 L636.5,990.5 L636.9,990.7 L637.3,990.8 L637.7,991.0 L638.0,991.3 L638.4,991.5 L638.8,991.7 L639.2,991.9 L639.5,992.0 L639.9,992.2 L640.3,992.3 L640.7,992.3 L641.1,992.3 L641.4,992.3 L641.8,992.3 L642.2,992.2 L642.6,992.0 L642.9,991.9 L643.3,991.7 L643.7,991.5 L644.1,991.3 L644.5,991.1 L644.8,990.9 L645.2,990.8 L645.6,990.6 L646.0,990.5 L646.3,990.5 L646.7,990.5 L647.1,990.5 L647.5,990.5 L647.8,990.6 L648.2,990.8 L648.6,990.9 L649.0,991.1 L649.4,991.3 L649.7,991.6 L650.1,991.8 L650.5,992.0 L650.9,992.2 L651.2,992.3 L651.6,992.5 L652.0,992.6 L652.4,992.6 L652.8,992.6 L653.1,992.6 L653.5,992.5 L653.9,992.4 L654.3,992.3 L654.6,992.2 L655.0,992.0 L655.4,991.8 L655.8,991.6 L656.1,991.4 L656.5,991.2 L656.9,991.1 L657.3,990.9 L657.7,990.8 L658.0,990.8 L658.4,990.7 L658.8,990.8 L659.2,990.8 L659.5,990.9 L659.9,991.1 L660.3,991.2 L660.7,991.4 L661.1,991.6 L661.4,991.8 L661.8,992.0 L662.2,992.2 L662.6,992.4 L662.9,992.6 L663.3,992.7 L663.7,992.8 L664.1,992.9 L664.5,992.9 L664.8,992.9 L665.2,992.8 L665.6,992.7 L666.0,992.6 L666.3,992.4 L666.7,992.2 L667.1,992.1 L667.5,991.9 L667.8,991.7 L668.2,991.5 L668.6,991.3 L669.0,991.2 L669.4,991.1 L669.7,991.0 L670.1,991.0 L670.5,991.0 L670.9,991.1 L671.2,991.2 L671.6,991.3 L672.0,991.5 L672.4,991.7 L672.8,991.9 L673.1,992.1 L673.5,992.3 L673.9,992.5 L674.3,992.7 L674.6,992.9 L675.0,993.0 L675.4,993.1 L675.8,993.1 L676.1,993.2 L676.5,993.1 L676.9,993.1 L677.3,993.0 L677.7,992.8 L678.0,992.7 L678.4,992.5 L678.8,992.3 L679.2,992.1 L679.5,991.9 L679.9,991.7 L680.3,991.6 L680.7,991.4 L681.1,991.3 L681.4,991.3 L681.8,991.3 L682.2,991.3 L682.6,991.3 L682.9,991.4 L683.3,991.6 L683.7,991.7 L684.1,991.9 L684.4,992.1 L684.8,992.3 L685.2,992.6 L685.6,992.8 L686.0,992.9 L686.3,993.1 L686.7,993.2 L687.1,993.3 L687.5,993.4 L687.8,993.4 L688.2,993.4 L688.6,993.3" stroke="#ffa500" stroke-dasharray="9.1 3.9"/>
  <path d="M84.8,830.9 L85.2,833.0 L85.6,834.7 L86.0,836.2 L86.4,837.7 L86.7,839.0 L87.1,840.0 L87.5,840.9 L87.9,841.5 L88.2,841.9 L88.6,842.0 L89.0,841.9 L89.4,841.5 L89.8,840.9 L90.1,840.3 L90.5,839.5 L90.9,838.8 L91.3,838.1 L91.6,837.4 L92.0,836.8 L92.4,836.4 L92.8,836.0 L93.2,835.8 L93.5,835.7 L93.9,835.7 L94.3,835.7 L94.7,835.6 L95.0,835.5 L95.4,835.2 L95.8,834.9 L96.2,834.4 L96.5,833.8 L96.9,833.1 L97.3,832.2 L97.7,831.1 L98.1,830.0 L98.4,828.7 L98.8,827.3 L99.2,825.9 L99.6,824.5 L99.9,823.1 L100.3,821.8 L100.7,820.6 L101.1,819.6 L101.5,818.7 L101.8,818.0 L102.2,817.4 L102.6,816.9 L103.0,816.6 L103.3,816.3 L103.7,816.1 L104.1,816.0 L104.5,815.8 L104.8,815.5 L105.2,815.1 L105.6,814.7 L106.0,814.1 L106.4,813.4 L106.7,812.6 L107.1,811.6 L107.5,810.6 L107.9,809.6 L108.2,808.5 L108.6,807.5 L109.0,806.4 L109.4,805.5 L109.8,804.7 L110.1,803.9 L110.5,803.3 L110.9,802.8 L111.3,802.4 L111.6,802.1 L112.0,801.9 L112.4,801.6 L112.8,801.4 L113.2,801.2 L113.5,800.9 L113.9,800.5 L114.3,800.1 L114.7,799.5 L115.0,798.7 L115.4,797.9 L115.8,797.0 L116.2,796.0 L116.5,795.0 L116.9,793.9 L117.3,792.9 L117.7,791.9 L118.1,791.0 L118.4,790.3 L118.8,789.6 L119.2,789.1 L119.6,788.8 L119.9,788.6 L120.3,788.5 L120.7,788.6 L121.1,788.7 L121.5,788.9 L121.8,789.0 L122.2,789.2 L122.6,789.3 L123.0,789.3 L123.3,789.2 L123.7,788.9 L124.1,788.6 L124.5,788.1 L124.8,787.4 L125.2,786.7 L125.6,785.9 L126.0,785.0 L126.4,784.2 L126.7,783.3 L127.1,782.5 L127.5,781.7 L127.9,781.0 L128.2,780.5 L128.6,780.1 L129.0,779.9 L129.4,779.8 L129.8,779.9 L130.1,780.0 L130.5,780.3 L130.9,780.7 L131.3,781.1 L131.6,781.5 L132.0,781.9 L132.4,782.2 L132.8,782.3 L133.1,782.4 L133.5,782.3 L133.9,782.1 L134.3,781.8 L134.7,781.4 L135.0,781.0 L135.4,780.5 L135.8,780.1 L136.2,779.6 L136.5,779.3 L136.9,779.1 L137.3,779.1 L137.7,779.2 L138.1,779.4 L138.4,779.7 L138.8,780.2 L139.2,780.7 L139.6,781.1 L139.9,781.5 L140.3,781.8 L140.7,781.9 L141.1,781.9 L141.5,781.6 L141.8,781.2 L142.2,780.6 L142.6,779.9 L143.0,779.0 L143.3,778.0 L143.7,776.8 L144.1,775.4 L144.5,773.8 L144.8,772.2 L145.2,770.5 L145.6,768.8 L146.0,767.3 L146.4,766.0 L146.7,764.8 L147.1,764.0 L147.5,763.1 L147.9,762.4 L148.2,761.6 L148.6,761.0 L149.0,760.4 L149.4,759.8 L149.8,759.4 L150.1,759.1 L150.5,758.8 L150.9,758.5 L151.3,758.1 L151.6,757.5 L152.0,756.9 L152.4,756.3 L152.8,755.6 L153.1,755.0 L153.5,754.5 L153.9,754.1 L154.3,754.0 L154.7,754.2 L155.0,754.6 L155.4,755.2 L155.8,755.9 L156.2,756.9 L156.5,757.9 L156.9,759.0 L157.3,760.1 L157.7,761.3 L158.1,762.6 L158.4,763.8 L158.8,765.0 L159.2,766.1 L159.6,767.1 L159.9,767.9 L160.3,768.5 L160.7,769.0 L161.1,769.3 L161.5,769.4 L161.8,769.5 L162.2,769.5 L162.6,769.6 L163.0,769.7 L163.3,769.9 L163.7,770.1 L164.1,770.5 L164.5,770.9 L164.8,771.5 L165.2,772.1 L165.6,772.7 L166.0,773.4 L166.4,774.1 L166.7,774.8 L167.1,775.5 L167.5,776.2 L167.9,776.7 L168.2,777.1 L168.6,777.3 L169.0,777.4 L169.4,777.3 L169.8,777.0 L170.1,776.6 L170.5,776.1 L170.9,775.6 L171.3,774.9 L171.6,774.3 L172.0,773.7 L172.4,773.2 L172.8,772.8 L173.1,772.5 L173.5,772.3 L173.9,772.3 L174.3,772.4 L174.7,772.6 L175.0,772.9 L175.4,773.1 L175.8,773.3 L176.2,773.5 L176.5,773.6 L176.9,773.6 L177.3,773.6 L177.7,773.5 L178.1,773.3 L178.4,773.0 L178.8,772.7 L179.2,772.3 L179.6,771.9 L179.9,771.5 L180.3,771.1 L180.7,770.7 L181.1,770.4 L181.4,770.2 L181.8,770.1 L182.2,770.1 L182.6,770.2 L183.0,770.5 L183.3,770.9 L183.7,771.3 L184.1,771.7 L184.5,772.0 L184.8,772.2 L185.2,772.3 L185.6,772.2 L186.0,771.9 L186.4,771.5 L186.7,771.0 L187.1,770.3 L187.5,769.5 L187.9,768.6 L188.2,767.7 L188.6,766.6 L189.0,765.5 L189.4,764.4 L189.8,763.3 L190.1,762.3 L190.5,761.4 L190.9,760.6 L191.3,759.9 L191.6,759.4 L192.0,759.1 L192.4,758.9 L192.8,758.8 L193.1,758.8 L193.5,758.9 L193.9,759.0 L194.3,759.1 L194.7,759.2 L195.0,759.1 L195.4,758.9 L195.8,758.6 L196.2,758.2 L196.5,757.7 L196.9,757.0 L197.3,756.2 L197.7,755.4 L198.1,754.5 L198.4,753.7 L198.8,752.9 L199.2,752.1 L199.6,751.4 L199.9,750.9 L200.3,750.4 L200.7,750.1 L201.1,750.0 L201.4,749.9 L201.8,750.0 L202.2,750.1 L202.6,750.2 L203.0,750.3 L203.3,750.4 L203.7,750.3 L204.1,750.2 L204.5,749.9 L204.8,749.5 L205.2,749.0 L205.6,748.3 L206.0,747.5 L206.4,746.6 L206.7,745.6 L207.1,744.6 L207.5,743.6 L207.9,742.7 L208.2,741.8 L208.6,741.0 L209.0,740.3 L209.4,739.8 L209.8,739.4 L210.1,739.1 L210.5,738.9 L210.9,738.8 L211.3,738.8 L211.6,738.8 L212.0,738.8 L212.4,738.7 L212.8,738.5 L213.1,738.2 L213.5,737.8 L213.9,737.3 L214.3,736.6 L214.7,735.7 L215.0,734.8 L215.4,733.8 L215.8,732.7 L216.2,731.6 L216.5,730.5 L216.9,729.5 L217.3,728.5 L217.7,727.6 L218.1,726.9 L218.4,726.3 L218.8,725.8 L219.2,725.5 L219.6,725.3 L219.9,725.1 L220.3,725.0 L220.7,725.0 L221.1,724.8 L221.4,724.7 L221.8,724.4 L222.2,724.1 L222.6,723.6 L223.0,722.9 L223.3,722.2 L223.7,721.2 L224.1,720.2 L224.5,719.1 L224.8,718.0 L225.2,716.8 L225.6,715.6 L226.0,714.5 L226.4,713.5 L226.7,712.6 L227.1,711.8 L227.5,711.2 L227.9,710.7 L228.2,710.3 L228.6,710.0 L229.0,709.8 L229.4,709.6 L229.8,709.4 L230.1,709.2 L230.5,708.9 L230.9,708.5 L231.3,708.0 L231.6,707.3 L232.0,706.4 L232.4,705.4 L232.8,704.2 L233.1,703.0 L233.5,701.6 L233.9,700.1 L234.3,698.7 L234.7,697.2 L235.0,695.9 L235.4,694.6 L235.8,693.4 L236.2,692.4 L236.5,691.6 L236.9,690.8 L237.3,690.2 L237.7,689.7 L238.1,689.2 L238.4,688.8 L238.8,688.4 L239.2,688.0 L239.6,687.5 L239.9,687.0 L240.3,686.3 L240.7,685.5 L241.1,684.6 L241.4,683.6 L241.8,682.4 L242.2,681.2 L242.6,679.9 L243.0,678.6 L243.3,677.3 L243.7,676.0 L244.1,674.8 L244.5,673.7 L244.8,672.7 L245.2,671.8 L245.6,671.2 L246.0,670.6 L246.4,670.2 L246.7,669.9 L247.1,669.7 L247.5,669.5 L247.9,669.4 L248.2,669.2 L248.6,669.0 L249.0,668.7 L249.4,668.2 L249.7,667.7 L250.1,667.1 L250.5,666.3 L250.9,665.4 L251.3,664.4 L251.6,663.3 L252.0,662.2 L252.4,661.1 L252.8,660.1 L253.1,659.1 L253.5,658.2 L253.9,657.4 L254.3,656.7 L254.7,656.2 L255.0,655.7 L255.4,655.4 L255.8,655.1 L256.2,654.9 L256.5,654.6 L256.9,654.4 L257.3,654.0 L257.7,653.7 L258.1,653.2 L258.4,652.6 L258.8,651.9 L259.2,651.1 L259.6,650.2 L259.9,649.2 L260.3,648.2 L260.7,647.2 L261.1,646.2 L261.4,645.2 L261.8,644.2 L262.2,643.4 L262.6,642.6 L263.0,642.1 L263.3,641.7 L263.7,641.6 L264.1,641.5 L264.5,641.7 L264.8,641.9 L265.2,642.1 L265.6,642.5 L266.0,642.8 L266.4,643.1 L266.7,643.3 L267.1,643.4 L267.5,643.4 L267.9,643.3 L268.2,643.0 L268.6,642.6 L269.0,642.1 L269.4,641.5 L269.7,640.9 L270.1,640.2 L270.5,639.6 L270.9,639.0 L271.3,638.5 L271.6,638.1 L272.0,637.8 L272.4,637.7 L272.8,637.7 L273.1,637.8 L273.5,638.1 L273.9,638.5 L274.3,638.9 L274.7,639.3 L275.0,639.7 L275.4,640.1 L275.8,640.3 L276.2,640.5 L276.5,640.6 L276.9,640.5 L277.3,640.3 L277.7,639.9 L278.0,639.5 L278.4,638.9 L278.8,638.3 L279.2,637.7 L279.6,637.2 L279.9,636.6 L280.3,636.2 L280.7,635.9 L281.1,635.7 L281.4,635.7 L281.8,635.8 L282.2,636.1 L282.6,636.5 L283.0,636.9 L283.3,637.4 L283.7,638.0 L284.1,638.5 L284.5,638.9 L284.8,639.3 L285.2,639.6 L285.6,639.7 L286.0,639.7 L286.4,639.5 L286.7,639.2 L287.1,638.9 L287.5,638.4 L287.9,637.9 L288.2,637.4 L288.6,636.9 L289.0,636.6 L289.4,636.3 L289.7,636.2 L290.1,636.2 L290.5,636.4 L290.9,636.8 L291.3,637.3 L291.6,637.8 L292.0,638.5 L292.4,639.3 L292.8,640.0 L293.1,640.8 L293.5,641.6 L293.9,642.3 L294.3,643.0 L294.7,643.5 L295.0,643.9 L295.4,644.2 L295.8,644.3 L296.2,644.4 L296.5,644.4 L296.9,644.4 L297.3,644.4 L297.7,644.4 L298.0,644.5 L298.4,644.7 L298.8,645.0 L299.2,645.4 L299.6,646.0 L299.9,646.7 L300.3,647.5 L300.7,648.4 L301.1,649.4 L301.4,650.5 L301.8,651.5 L302.2,652.6 L302.6,653.6 L303.0,654.5 L303.3,655.3 L303.7,656.0 L304.1,656.5 L304.5,656.9 L304.8,657.2 L305.2,657.4 L305.6,657.6 L306.0,657.7 L306.4,657.9 L306.7,658.1 L307.1,658.3 L307.5,658.7 L307.9,659.2 L308.2,659.8 L308.6,660.6 L309.0,661.5 L309.4,662.5 L309.7,663.5 L310.1,664.6 L310.5,665.8 L310.9,666.9 L311.3,667.9 L311.6,668.9 L312.0,669.8 L312.4,670.5 L312.8,671.1 L313.1,671.5 L313.5,671.8 L313.9,672.0 L314.3,672.1 L314.7,672.1 L315.0,672.1 L315.4,672.1 L315.8,672.2 L316.2,672.3 L316.5,672.6 L316.9,673.0 L317.3,673.5 L317.7,674.2 L318.0,675.1 L318.4,676.0 L318.8,677.1 L319.2,678.2 L319.6,679.4 L319.9,680.5 L320.3,681.7 L320.7,682.7 L321.1,683.7 L321.4,684.5 L321.8,685.2 L322.2,685.8 L322.6,686.3 L323.0,686.6 L323.3,686.9 L323.7,687.1 L324.1,687.3 L324.5,687.5 L324.8,687.7 L325.2,688.1 L325.6,688.5 L326.0,689.1 L326.4,689.9 L326.7,690.8 L327.1,691.8 L327.5,693.0 L327.9,694.3 L328.2,695.6 L328.6,697.0 L329.0,698.4 L329.4,699.7 L329.7,701.0 L330.1,700.9 L330.5,701.8 L330.9,702.7 L331.3,703.6 L331.6,704.4 L332.0,705.3 L332.4,706.0 L332.8,706.8 L333.1,707.6 L333.5,708.4 L333.9,709.2 L334.3,710.0 L334.7,710.8 L335.0,711.7 L335.4,712.7 L335.8,713.7 L336.2,714.7 L336.5,715.8 L336.9,716.9 L337.3,718.1 L337.7,719.2 L338.0,720.4 L338.4,721.5 L338.8,722.6 L339.2,723.7 L339.6,724.8 L339.9,725.8 L340.3,726.8 L340.7,727.8 L341.1,728.7 L341.4,729.6 L341.8,730.5 L342.2,731.4 L342.6,732.4 L343.0,733.3 L343.3,734.3 L343.7,735.3 L344.1,736.4 L344.5,737.5 L344.8,738.7 L345.2,740.0 L345.6,741.2 L346.0,742.6 L346.3,743.9 L346.7,745.2 L347.1,746.6 L347.5,747.9 L347.9,749.2 L348.2,750.5 L348.6,751.7 L349.0,752.9 L349.4,754.0 L349.7,755.1 L350.1,756.1 L350.5,757.2 L350.9,758.1 L351.3,759.1 L351.6,760.1 L352.0,761.0 L352.4,762.0 L352.8,763.1 L353.1,764.1 L353.5,765.2 L353.9,766.4 L354.3,767.5 L354.7,768.7 L355.0,769.9 L355.4,771.2 L355.8,772.4 L356.2,773.6 L356.5,774.8 L356.9,776.0 L357.3,777.1 L357.7,778.2 L358.0,779.2 L358.4,780.2 L358.8,781.2 L359.2,782.2 L359.6,783.1 L359.9,784.0 L360.3,784.9 L360.7,785.9 L361.1,786.8 L361.4,787.8 L361.8,788.8 L362.2,789.9 L362.6,791.0 L363.0,792.1 L363.3,793.3 L363.7,794.5 L364.1,795.7 L364.5,797.0 L364.8,798.2 L365.2,799.4 L365.6,800.6 L366.0,801.8 L366.3,802.9 L366.7,804.0 L367.1,805.1 L367.5,806.1 L367.9,807.1 L368.2,808.0 L368.6,808.9 L369.0,809.8 L369.4,810.6 L369.7,811.5 L370.1,812.4 L370.5,813.3 L370.9,814.3 L371.3,815.3 L371.6,816.3 L372.0,817.4 L372.4,818.5 L372.8,819.6 L373.1,820.7 L373.5,821.9 L373.9,823.1 L374.3,824.2 L374.7,825.3 L375.0,826.5 L375.4,827.6 L375.8,828.6 L376.2,829.6 L376.5,830.6 L376.9,831.6 L377.3,832.5 L377.7,833.5 L378.0,834.4 L378.4,835.4 L378.8,836.4 L379.2,837.4 L379.6,838.5 L379.9,839.6 L380.3,840.7 L380.7,841.9 L381.1,843.1 L381.4,844.4 L381.8,845.7 L382.2,847.0 L382.6,848.3 L383.0,849.6 L383.3,850.9 L383.7,852.2 L384.1,853.4 L384.5,854.5 L384.8,855.6 L385.2,856.7 L385.6,857.7 L386.0,858.6 L386.3,859.6 L386.7,860.5 L387.1,861.4 L387.5,862.3 L387.9,863.2 L388.2,864.1 L388.6,865.0 L389.0,866.0 L389.4,867.0 L389.7,868.0 L390.1,869.1 L390.5,870.2 L390.9,871.3 L391.3,872.4 L391.6,873.5 L392.0,874.5 L392.4,875.5 L392.8,876.5 L393.1,877.5 L393.5,878.4 L393.9,879.3 L394.3,880.1 L394.6,880.8 L395.0,881.5 L395.4,882.2 L395.8,882.8 L396.2,883.5 L396.5,884.1 L396.9,884.8 L397.3,885.4 L397.7,886.1 L398.0,886.8 L398.4,887.6 L398.8,888.4 L399.2,889.2 L399.6,890.0 L399.9,890.9 L400.3,891.8 L400.7,892.7 L401.1,893.6 L401.4,894.5 L401.8,895.3 L402.2,896.1 L402.6,896.9 L403.0,897.6 L403.3,898.3 L403.7,898.9 L404.1,899.5 L404.5,900.1 L404.8,900.6 L405.2,901.1 L405.6,901.7 L406.0,902.2 L406.3,902.8 L406.7,903.3 L407.1,904.0 L407.5,904.6 L407.9,905.3 L408.2,906.0 L408.6,906.7 L409.0,907.4 L409.4,908.2 L409.7,908.9 L410.1,909.6 L410.5,910.3 L410.9,910.9 L411.3,911.5 L411.6,912.1 L412.0,912.6 L412.4,913.0 L412.8,913.4 L413.1,913.8 L413.5,914.1 L413.9,914.4 L414.3,914.7 L414.6,915.0 L415.0,915.3 L415.4,915.6 L415.8,916.0 L416.2,916.4 L416.5,916.9 L416.9,917.4 L417.3,917.9 L417.7,918.5 L418.0,919.1 L418.4,919.7 L418.8,920.3 L419.2,920.9 L419.6,921.6 L419.9,922.1 L420.3,922.7 L420.7,923.2 L421.1,923.7 L421.4,924.2 L421.8,924.6 L422.2,925.0 L422.6,925.4 L423.0,925.7 L423.3,926.1 L423.7,926.5 L424.1,926.9 L424.5,927.3 L424.8,927.7 L425.2,928.2 L425.6,928.8 L426.0,929.4 L426.3,930.0 L426.7,930.6 L427.1,931.3 L427.5,931.9 L427.9,932.6 L428.2,933.2 L428.6,933.8 L429.0,934.4 L429.4,935.0 L429.7,935.4 L430.1,935.9 L430.5,936.3 L430.9,936.6 L431.3,936.9 L431.6,937.2 L432.0,937.5 L432.4,937.7 L432.8,938.0 L433.1,938.3 L433.5,938.6 L433.9,939.0 L434.3,939.4 L434.6,939.8 L435.0,940.3 L435.4,940.8 L435.8,941.3 L436.2,941.9 L436.5,942.4 L436.9,943.0 L437.3,943.5 L437.7,944.0 L438.0,944.5 L438.4,944.9 L438.8,945.3 L439.2,945.7 L439.6,946.0 L439.9,946.2 L440.3,946.5 L440.7,946.7 L441.1,946.9 L441.4,947.1 L441.8,947.3 L442.2,947.6 L442.6,947.8 L442.9,948.1 L443.3,948.5 L443.7,948.9 L444.1,949.3 L444.5,949.8 L444.8,950.2 L445.2,950.7 L445.6,951.2 L446.0,951.7 L446.3,952.2 L446.7,952.6 L447.1,953.1 L447.5,953.4 L447.9,953.8 L448.2,954.0 L448.6,954.3 L449.0,954.5 L449.4,954.6 L449.7,954.7 L450.1,954.9 L450.5,955.0 L450.9,955.1 L451.3,955.3 L451.6,955.4 L452.0,955.6 L452.4,955.9 L452.8,956.2 L453.1,956.5 L453.5,956.8 L453.9,957.2 L454.3,957.6 L454.6,958.0 L455.0,958.4 L455.4,958.7 L455.8,959.1 L456.2,959.4 L456.5,959.7 L456.9,959.9 L457.3,960.1 L457.7,960.2 L458.0,960.3 L458.4,960.4 L458.8,960.5 L459.2,960.5 L459.6,960.6 L459.9,960.7 L460.3,960.8 L460.7,960.9 L461.1,961.1 L461.4,961.3 L461.8,961.6 L462.2,961.9 L462.6,962.2 L462.9,962.6 L463.3,963.0 L463.7,963.3 L464.1,963.7 L464.5,964.1 L464.8,964.4 L465.2,964.7 L465.6,964.9 L466.0,965.1 L466.3,965.3 L466.7,965.4 L467.1,965.5 L467.5,965.6 L467.9,965.6 L468.2,965.7 L468.6,965.7 L469.0,965.8 L469.4,965.9 L469.7,966.0 L470.1,966.2 L470.5,966.4 L470.9,966.7 L471.2,966.9 L471.6,967.3 L472.0,967.6 L472.4,968.0 L472.8,968.3 L473.1,968.7 L473.5,969.0 L473.9,969.3 L474.3,969.6 L474.6,969.8 L475.0,970.0 L475.4,970.2 L475.8,970.3 L476.2,970.4 L476.5,970.4 L476.9,970.4 L477.3,970.5 L477.7,970.5 L478.0,970.6 L478.4,970.6 L478.8,970.7 L479.2,970.9 L479.6,971.0 L479.9,971.3 L480.3,971.5 L480.7,971.8 L481.1,972.1 L481.4,972.4 L481.8,972.7 L482.2,973.0 L482.6,973.3 L482.9,973.5 L483.3,973.7 L483.7,973.9 L484.1,974.0 L484.5,974.1 L484.8,974.1 L485.2,974.1 L485.6,974.1 L486.0,974.1 L486.3,974.0 L486.7,974.0 L487.1,974.0 L487.5,974.0 L487.9,974.1 L488.2,974.2 L488.6,974.3 L489.0,974.5 L489.4,974.7 L489.7,975.0 L490.1,975.2 L490.5,975.5 L490.9,975.8 L491.2,976.0 L491.6,976.3 L492.0,976.5 L492.4,976.7 L492.8,976.8 L493.1,976.9 L493.5,977.0 L493.9,977.0 L494.3,977.0 L494.6,976.9 L495.0,976.9 L495.4,976.8 L495.8,976.8 L496.2,976.8 L496.5,976.8 L496.9,976.9 L497.3,977.0 L497.7,977.1 L498.0,977.3 L498.4,977.5 L498.8,977.7 L499.2,978.0 L499.6,978.3 L499.9,978.5 L500.3,978.8 L500.7,979.0 L501.1,979.2 L501.4,979.4 L501.8,979.5 L502.2,979.6 L502.6,979.6 L502.9,979.6 L503.3,979.6 L503.7,979.5 L504.1,979.5 L504.5,979.4 L504.8,979.4 L505.2,979.4 L505.6,979.4 L506.0,979.4 L506.3,979.5 L506.7,979.6 L507.1,979.8 L507.5,980.0 L507.9,980.2 L508.2,980.5 L508.6,980.7 L509.0,981.0 L509.4,981.2 L509.7,981.4 L510.1,981.6 L510.5,981.7 L510.9,981.8 L511.2,981.9 L511.6,981.9 L512.0,981.8 L512.4,981.8 L512.8,981.7 L513.1,981.6 L513.5,981.5 L513.9,981.5 L514.3,981.4 L514.6,981.4 L515.0,981.5 L515.4,981.5 L515.8,981.6 L516.2,981.8 L516.5,982.0 L516.9,982.2 L517.3,982.4 L517.7,982.6 L518.0,982.9 L518.4,983.1 L518.8,983.2 L519.2,983.4 L519.5,983.5 L519.9,983.6 L520.3,983.6 L520.7,983.6 L521.1,983.5 L521.4,983.5 L521.8,983.4 L522.2,983.3 L522.6,983.2 L522.9,983.1 L523.3,983.1 L523.7,983.0 L524.1,983.1 L524.5,983.1 L524.8,983.2 L525.2,983.4 L525.6,983.5 L526.0,983.7 L526.3,984.0 L526.7,984.2 L527.1,984.4 L527.5,984.6 L527.9,984.7 L528.2,984.9 L528.6,985.0 L529.0,985.0 L529.4,985.0 L529.7,985.0 L530.1,984.9 L530.5,984.8 L530.9,984.7 L531.2,984.6 L531.6,984.5 L532.0,984.5 L532.4,984.4 L532.8,984.4 L533.1,984.4 L533.5,984.5 L533.9,984.6 L534.3,984.7 L534.6,984.9 L535.0,985.0 L535.4,985.3 L535.8,985.5 L536.2,985.7 L536.5,985.8 L536.9,986.0 L537.3,986.1 L537.7,986.2 L538.0,986.2 L538.4,986.2 L538.8,986.2 L539.2,986.1 L539.5,986.0 L539.9,985.9 L540.3,985.8 L540.7,985.7 L541.1,985.6 L541.4,985.5 L541.8,985.5 L542.2,985.5 L542.6,985.6 L542.9,985.7 L543.3,985.8 L543.7,986.0 L544.1,986.1 L544.5,986.3 L544.8,986.5 L545.2,986.7 L545.6,986.9 L546.0,987.0 L546.3,987.1 L546.7,987.2 L547.1,987.2 L547.5,987.2 L547.9,987.2 L548.2,987.1 L548.6,987.0 L549.0,986.8 L549.4,986.7 L549.7,986.6 L550.1,986.5 L550.5,986.5 L550.9,986.4 L551.2,986.4 L551.6,986.5 L552.0,986.6 L552.4,986.7 L552.8,986.9 L553.1,987.1 L553.5,987.3 L553.9,987.5 L554.3,987.6 L554.6,987.8 L555.0,987.9 L555.4,988.0 L555.8,988.1 L556.2,988.1 L556.5,988.1 L556.9,988.0 L557.3,987.9 L557.7,987.8 L558.0,987.6 L558.4,987.5 L558.8,987.4 L559.2,987.3 L559.5,987.2 L559.9,987.2 L560.3,987.2 L560.7,987.3 L561.1,987.4 L561.4,987.5 L561.8,987.7 L562.2,987.8 L562.6,988.0 L562.9,988.2 L563.3,988.4 L563.7,988.5 L564.1,988.7 L564.5,988.7 L564.8,988.8 L565.2,988.8 L565.6,988.7 L566.0,988.6 L566.3,988.5 L566.7,988.4 L567.1,988.3 L567.5,988.1 L567.9,988.0 L568.2,987.9 L568.6,987.9 L569.0,987.8 L569.4,987.9 L569.7,987.9 L570.1,988.0 L570.5,988.1 L570.9,988.3 L571.2,988.5 L571.6,988.7 L572.0,988.8 L572.4,989.0 L572.8,989.1 L573.1,989.2 L573.5,989.3 L573.9,989.3 L574.3,989.3 L574.6,989.3 L575.0,989.2 L575.4,989.1 L575.8,988.9 L576.2,988.8 L576.5,988.7 L576.9,988.6 L577.3,988.5 L577.7,988.4 L578.0,988.4 L578.4,988.4 L578.8,988.5 L579.2,988.6 L579.5,988.7 L579.9,988.8 L580.3,989.0 L580.7,989.2 L581.1,989.4 L581.4,989.5 L581.8,989.7 L582.2,989.8 L582.6,989.8 L582.9,989.8 L583.3,989.8 L583.7,989.8 L584.1,989.7 L584.5,989.6 L584.8,989.4 L585.2,989.3 L585.6,989.1 L586.0,989.0 L586.3,988.9 L586.7,988.9 L587.1,988.9 L587.5,988.9 L587.8,988.9 L588.2,989.0 L588.6,989.2 L589.0,989.3 L589.4,989.5 L589.7,989.7 L590.1,989.9 L590.5,990.0 L590.9,990.1 L591.2,990.2 L591.6,990.3 L592.0,990.3 L592.4,990.3 L592.8,990.2 L593.1,990.1 L593.5,990.0 L593.9,989.8 L594.3,989.7 L594.6,989.5 L595.0,989.4 L595.4,989.3 L595.8,989.3 L596.2,989.3 L596.5,989.3 L596.9,989.4 L597.3,989.5 L597.7,989.6 L598.0,989.8 L598.4,989.9 L598.8,990.1 L599.2,990.3 L599.5,990.4 L599.9,990.5 L600.3,990.6 L600.7,990.7 L601.1,990.7 L601.4,990.6 L601.8,990.5 L602.2,990.4 L602.6,990.3 L602.9,990.2 L603.3,990.0 L603.7,989.9 L604.1,989.8 L604.5,989.7 L604.8,989.6 L605.2,989.6 L605.6,989.7 L606.0,989.7 L606.3,989.8 L606.7,990.0 L607.1,990.1 L607.5,990.3 L607.8,990.5 L608.2,990.6 L608.6,990.8 L609.0,990.9 L609.4,991.0 L609.7,991.0 L610.1,991.0 L610.5,990.9 L610.9,990.9 L611.2,990.8 L611.6,990.6 L612.0,990.5 L612.4,990.3 L612.8,990.2 L613.1,990.1 L613.5,990.0 L613.9,989.9 L614.3,989.9 L614.6,990.0 L615.0,990.1 L615.4,990.2 L615.8,990.3 L616.1,990.5 L616.5,990.6 L616.9,990.8 L617.3,991.0 L617.7,991.1 L618.0,991.2 L618.4,991.3 L618.8,991.3 L619.2,991.3 L619.5,991.2 L619.9,991.1 L620.3,991.0 L620.7,990.9 L621.1,990.7 L621.4,990.6 L621.8,990.5 L622.2,990.4 L622.6,990.3 L622.9,990.2 L623.3,990.2 L623.7,990.3 L624.1,990.3 L624.5,990.5 L624.8,990.6 L625.2,990.8 L625.6,990.9 L626.0,991.1 L626.3,991.3 L626.7,991.4 L627.1,991.5 L627.5,991.6 L627.8,991.6 L628.2,991.6 L628.6,991.5 L629.0,991.4 L629.4,991.3 L629.7,991.1 L630.1,991.0 L630.5,990.8 L630.9,990.7 L631.2,990.6 L631.6,990.5 L632.0,990.5 L632.4,990.5 L632.8,990.5 L633.1,990.6 L633.5,990.7 L633.9,990.9 L634.3,991.1 L634.6,991.2 L635.0,991.4 L635.4,991.5 L635.8,991.7 L636.1,991.8 L636.5,991.8 L636.9,991.8 L637.3,991.8 L637.7,991.7 L638.0,991.6 L638.4,991.5 L638.8,991.4 L639.2,991.2 L639.5,991.1 L639.9,990.9 L640.3,990.8 L640.7,990.8 L641.1,990.7 L641.4,990.7 L641.8,990.8 L642.2,990.9 L642.6,991.0 L642.9,991.2 L643.3,991.3 L643.7,991.5 L644.1,991.6 L644.5,991.8 L644.8,991.9 L645.2,992.0 L645.6,992.1 L646.0,992.1 L646.3,992.0 L646.7,992.0 L647.1,991.8 L647.5,991.7 L647.8,991.6 L648.2,991.4 L648.6,991.3 L649.0,991.1 L649.4,991.0 L649.7,991.0 L650.1,991.0 L650.5,991.0 L650.9,991.0 L651.2,991.1 L651.6,991.2 L652.0,991.4 L652.4,991.6 L652.8,991.7 L653.1,991.9 L653.5,992.0 L653.9,992.1 L654.3,992.2 L654.6,992.3 L655.0,992.3 L655.4,992.2 L655.8,992.2 L656.1,992.0 L656.5,991.9 L656.9,991.8 L657.3,991.6 L657.7,991.5 L658.0,991.3 L658.4,991.2 L658.8,991.2 L659.2,991.2 L659.5,991.2 L659.9,991.2 L660.3,991.3 L660.7,991.5 L661.1,991.6 L661.4,991.8 L661.8,992.0 L662.2,992.1 L662.6,992.3 L662.9,992.4 L663.3,992.4 L663.7,992.5 L664.1,992.5 L664.5,992.4 L664.8,992.3 L665.2,992.2 L665.6,992.1 L666.0,991.9 L666.3,991.8 L666.7,991.7 L667.1,991.5 L667.5,991.4 L667.8,991.4 L668.2,991.4 L668.6,991.4 L669.0,991.5 L669.4,991.6 L669.7,991.7 L670.1,991.9 L670.5,992.0 L670.9,992.2 L671.2,992.3 L671.6,992.5 L672.0,992.6 L672.4,992.7 L672.8,992.7 L673.1,992.7 L673.5,992.6 L673.9,992.5 L674.3,992.4 L674.6,992.3 L675.0,992.1 L675.4,992.0 L675.8,991.8 L676.1,991.7 L676.5,991.6 L676.9,991.6 L677.3,991.6 L677.7,991.6 L678.0,991.7 L678.4,991.8 L678.8,991.9 L679.2,992.1 L679.5,992.2 L679.9,992.4 L680.3,992.6 L680.7,992.7 L681.1,992.8 L681.4,992.9 L681.8,992.9 L682.2,992.9 L682.6,992.8 L682.9,992.7 L683.3,992.6 L683.7,992.4 L684.1,992.3 L684.4,992.1 L684.8,992.0 L685.2,991.9 L685.6,991.8 L686.0,991.8 L686.3,991.8 L686.7,991.8 L687.1,991.9 L687.5,992.0 L687.8,992.1 L688.2,992.3 L688.6,992.5" stroke="#0000ff" stroke-dasharray="9.1 3.9"/>
  <path d="M84.8,831.8 L85.2,833.4 L85.6,834.5 L86.0,835.6 L86.4,836.5 L86.7,837.4 L87.1,838.2 L87.5,838.9 L87.9,839.5 L88.2,840.0 L88.6,840.3 L89.0,840.6 L89.4,840.6 L89.8,840.6 L90.1,840.5 L90.5,840.3 L90.9,840.0 L91.3,839.6 L91.6,839.3 L92.0,838.8 L92.4,838.4 L92.8,837.9 L93.2,837.5 L93.5,837.0 L93.9,836.5 L94.3,836.0 L94.7,835.4 L95.0,834.7 L95.4,834.0 L95.8,833.3 L96.2,832.6 L96.5,831.8 L96.9,831.0 L97.3,830.3 L97.7,829.5 L98.1,828.7 L98.4,827.9 L98.8,827.0 L99.2,826.1 L99.6,825.2 L99.9,824.3 L100.3,823.4 L100.7,822.5 L101.1,821.6 L101.5,820.7 L101.8,819.8 L102.2,819.0 L102.6,818.1 L103.0,817.3 L103.3,816.6 L103.7,815.8 L104.1,815.1 L104.5,814.5 L104.8,813.9 L105.2,813.3 L105.6,812.7 L106.0,812.1 L106.4,811.5 L106.7,811.0 L107.1,810.5 L107.5,809.9 L107.9,809.4 L108.2,808.9 L108.6,808.3 L109.0,807.7 L109.4,807.2 L109.8,806.6 L110.1,806.0 L110.5,805.3 L110.9,804.6 L111.3,804.0 L111.6,803.2 L112.0,802.5 L112.4,801.8 L112.8,801.1 L113.2,800.3 L113.5,799.6 L113.9,798.9 L114.3,798.1 L114.7,797.4 L115.0,796.8 L115.4,796.1 L115.8,795.5 L116.2,794.9 L116.5,794.3 L116.9,793.8 L117.3,793.3 L117.7,792.8 L118.1,792.4 L118.4,792.0 L118.8,791.6 L119.2,791.2 L119.6,790.8 L119.9,790.4 L120.3,790.0 L120.7,789.7 L121.1,789.3 L121.5,788.9 L121.8,788.6 L122.2,788.2 L122.6,787.9 L123.0,787.6 L123.3,787.2 L123.7,786.9 L124.1,786.6 L124.5,786.3 L124.8,786.0 L125.2,785.6 L125.6,785.3 L126.0,785.0 L126.4,784.7 L126.7,784.3 L127.1,783.9 L127.5,783.4 L127.9,783.0 L128.2,782.5 L128.6,782.1 L129.0,781.6 L129.4,781.2 L129.8,780.9 L130.1,780.6 L130.5,780.3 L130.9,780.1 L131.3,780.1 L131.6,780.1 L132.0,780.1 L132.4,780.2 L132.8,780.3 L133.1,780.4 L133.5,780.6 L133.9,780.7 L134.3,780.9 L134.7,781.0 L135.0,781.1 L135.4,781.1 L135.8,781.1 L136.2,781.1 L136.5,781.1 L136.9,781.1 L137.3,781.1 L137.7,781.1 L138.1,781.1 L138.4,781.1 L138.8,781.1 L139.2,781.1 L139.6,781.1 L139.9,780.9 L140.3,780.7 L140.7,780.4 L141.1,780.0 L141.5,779.6 L141.8,779.2 L142.2,778.7 L142.6,778.2 L143.0,777.7 L143.3,777.1 L143.7,776.4 L144.1,775.6 L144.5,774.5 L144.8,773.3 L145.2,772.0 L145.6,770.6 L146.0,769.3 L146.4,768.0 L146.7,766.8 L147.1,765.6 L147.5,764.5 L147.9,763.2 L148.2,762.0 L148.6,760.8 L149.0,759.7 L149.4,758.7 L149.8,757.9 L150.1,757.2 L150.5,756.9 L150.9,756.5 L151.3,756.2 L151.6,755.9 L152.0,755.6 L152.4,755.4 L152.8,755.3 L153.1,755.2 L153.5,755.2 L153.9,755.3 L154.3,755.6 L154.7,756.0 L155.0,756.6 L155.4,757.2 L155.8,757.8 L156.2,758.5 L156.5,759.2 L156.9,759.8 L157.3,760.4 L157.7,761.1 L158.1,761.8 L158.4,762.6 L158.8,763.4 L159.2,764.2 L159.6,765.1 L159.9,765.9 L160.3,766.6 L160.7,767.4 L161.1,768.1 L161.5,768.7 L161.8,769.3 L162.2,769.8 L162.6,770.4 L163.0,771.0 L163.3,771.5 L163.7,772.0 L164.1,772.5 L164.5,772.9 L164.8,773.3 L165.2,773.6 L165.6,773.9 L166.0,774.1 L166.4,774.3 L166.7,774.5 L167.1,774.7 L167.5,774.9 L167.9,775.0 L168.2,775.2 L168.6,775.3 L169.0,775.4 L169.4,775.4 L169.8,775.5 L170.1,775.5 L170.5,775.5 L170.9,775.4 L171.3,775.3 L171.6,775.2 L172.0,775.0 L172.4,774.9 L172.8,774.7 L173.1,774.5 L173.5,774.3 L173.9,774.2 L174.3,774.0 L174.7,773.8 L175.0,773.5 L175.4,773.2 L175.8,772.9 L176.2,772.6 L176.5,772.3 L176.9,771.9 L177.3,771.7 L177.7,771.4 L178.1,771.3 L178.4,771.2 L178.8,771.2 L179.2,771.2 L179.6,771.3 L179.9,771.4 L180.3,771.5 L180.7,771.6 L181.1,771.7 L181.4,771.9 L181.8,772.0 L182.2,772.1 L182.6,772.2 L183.0,772.3 L183.3,772.3 L183.7,772.4 L184.1,772.3 L184.5,772.1 L184.8,771.7 L185.2,771.3 L185.6,770.8 L186.0,770.2 L186.4,769.6 L186.7,769.0 L187.1,768.3 L187.5,767.7 L187.9,767.2 L188.2,766.7 L188.6,766.1 L189.0,765.5 L189.4,765.0 L189.8,764.4 L190.1,763.7 L190.5,763.1 L190.9,762.5 L191.3,761.9 L191.6,761.4 L192.0,760.8 L192.4,760.3 L192.8,759.8 L193.1,759.3 L193.5,758.9 L193.9,758.5 L194.3,758.1 L194.7,757.7 L195.0,757.3 L195.4,757.0 L195.8,756.6 L196.2,756.3 L196.5,755.9 L196.9,755.6 L197.3,755.3 L197.7,754.9 L198.1,754.6 L198.4,754.3 L198.8,753.9 L199.2,753.6 L199.6,753.2 L199.9,752.9 L200.3,752.5 L200.7,752.1 L201.1,751.7 L201.4,751.3 L201.8,750.9 L202.2,750.5 L202.6,750.1 L203.0,749.7 L203.3,749.2 L203.7,748.8 L204.1,748.4 L204.5,748.0 L204.8,747.5 L205.2,747.1 L205.6,746.6 L206.0,746.2 L206.4,745.7 L206.7,745.3 L207.1,744.8 L207.5,744.3 L207.9,743.8 L208.2,743.3 L208.6,742.8 L209.0,742.3 L209.4,741.8 L209.8,741.3 L210.1,740.8 L210.5,740.2 L210.9,739.7 L211.3,739.1 L211.6,738.6 L212.0,738.0 L212.4,737.5 L212.8,736.9 L213.1,736.4 L213.5,735.8 L213.9,735.2 L214.3,734.7 L214.7,734.1 L215.0,733.5 L215.4,733.0 L215.8,732.4 L216.2,731.8 L216.5,731.2 L216.9,730.7 L217.3,730.1 L217.7,729.5 L218.1,728.9 L218.4,728.3 L218.8,727.7 L219.2,727.1 L219.6,726.5 L219.9,725.9 L220.3,725.3 L220.7,724.7 L221.1,724.1 L221.4,723.4 L221.8,722.8 L222.2,722.2 L222.6,721.6 L223.0,720.9 L223.3,720.3 L223.7,719.7 L224.1,719.0 L224.5,718.4 L224.8,717.7 L225.2,717.1 L225.6,716.5 L226.0,715.8 L226.4,715.2 L226.7,714.5 L227.1,713.9 L227.5,713.2 L227.9,712.5 L228.2,711.9 L228.6,711.2 L229.0,710.5 L229.4,709.8 L229.8,709.1 L230.1,708.3 L230.5,707.6 L230.9,706.8 L231.3,706.1 L231.6,705.3 L232.0,704.4 L232.4,703.6 L232.8,702.7 L233.1,701.8 L233.5,700.9 L233.9,700.0 L234.3,699.1 L234.7,698.1 L235.0,697.2 L235.4,696.3 L235.8,695.4 L236.2,694.5 L236.5,693.6 L236.9,692.6 L237.3,691.7 L237.7,690.8 L238.1,689.9 L238.4,688.9 L238.8,688.0 L239.2,687.1 L239.6,686.2 L239.9,685.2 L240.3,684.3 L240.7,683.5 L241.1,682.6 L241.4,681.8 L241.8,681.0 L242.2,680.1 L242.6,679.3 L243.0,678.5 L243.3,677.7 L243.7,676.9 L244.1,676.2 L244.5,675.4 L244.8,674.6 L245.2,673.9 L245.6,673.1 L246.0,672.4 L246.4,671.7 L246.7,671.0 L247.1,670.3 L247.5,669.6 L247.9,668.9 L248.2,668.2 L248.6,667.5 L249.0,666.9 L249.4,666.3 L249.7,665.7 L250.1,665.1 L250.5,664.5 L250.9,663.9 L251.3,663.4 L251.6,662.8 L252.0,662.2 L252.4,661.7 L252.8,661.1 L253.1,660.5 L253.5,660.0 L253.9,659.4 L254.3,658.7 L254.7,658.1 L255.0,657.5 L255.4,656.8 L255.8,656.1 L256.2,655.3 L256.5,654.6 L256.9,653.8 L257.3,653.0 L257.7,652.2 L258.1,651.4 L258.4,650.6 L258.8,649.9 L259.2,649.2 L259.6,648.5 L259.9,647.9 L260.3,647.3 L260.7,646.8 L261.1,646.3 L261.4,645.8 L261.8,645.3 L262.2,644.9 L262.6,644.5 L263.0,644.1 L263.3,643.8 L263.7,643.5 L264.1,643.2 L264.5,643.0 L264.8,642.8 L265.2,642.5 L265.6,642.3 L266.0,642.1 L266.4,641.9 L266.7,641.8 L267.1,641.6 L267.5,641.4 L267.9,641.2 L268.2,641.1 L268.6,640.9 L269.0,640.8 L269.4,640.6 L269.7,640.5 L270.1,640.4 L270.5,640.3 L270.9,640.1 L271.3,640.0 L271.6,639.9 L272.0,639.8 L272.4,639.7 L272.8,639.6 L273.1,639.5 L273.5,639.4 L273.9,639.3 L274.3,639.2 L274.7,639.1 L275.0,639.0 L275.4,638.9 L275.8,638.8 L276.2,638.7 L276.5,638.6 L276.9,638.5 L277.3,638.4 L277.7,638.3 L278.0,638.2 L278.4,638.1 L278.8,638.1 L279.2,638.0 L279.6,637.9 L279.9,637.9 L280.3,637.8 L280.7,637.8 L281.1,637.7 L281.4,637.7 L281.8,637.7 L282.2,637.7 L282.6,637.7 L283.0,637.7 L283.3,637.7 L283.7,637.7 L284.1,637.7 L284.5,637.7 L284.8,637.7 L285.2,637.7 L285.6,637.7 L286.0,637.7 L286.4,637.7 L286.7,637.7 L287.1,637.7 L287.5,637.7 L287.9,637.7 L288.2,637.7 L288.6,637.8 L289.0,637.9 L289.4,638.0 L289.7,638.1 L290.1,638.3 L290.5,638.4 L290.9,638.6 L291.3,638.8 L291.6,639.0 L292.0,639.2 L292.4,639.4 L292.8,639.7 L293.1,640.0 L293.5,640.3 L293.9,640.6 L294.3,641.0 L294.7,641.4 L295.0,641.9 L295.4,642.3 L295.8,642.8 L296.2,643.3 L296.5,643.8 L296.9,644.3 L297.3,644.8 L297.7,645.4 L298.0,645.9 L298.4,646.4 L298.8,646.9 L299.2,647.4 L299.6,648.0 L299.9,648.5 L300.3,649.0 L300.7,649.5 L301.1,650.0 L301.4,650.5 L301.8,651.1 L302.2,651.6 L302.6,652.2 L303.0,652.8 L303.3,653.4 L303.7,653.9 L304.1,654.5 L304.5,655.1 L304.8,655.7 L305.2,656.4 L305.6,657.0 L306.0,657.7 L306.4,658.4 L306.7,659.1 L307.1,659.8 L307.5,660.5 L307.9,661.2 L308.2,661.9 L308.6,662.6 L309.0,663.2 L309.4,663.9 L309.7,664.6 L310.1,665.2 L310.5,665.8 L310.9,666.3 L311.3,666.9 L311.6,667.4 L312.0,668.0 L312.4,668.5 L312.8,669.0 L313.1,669.6 L313.5,670.1 L313.9,670.6 L314.3,671.1 L314.7,671.6 L315.0,672.2 L315.4,672.7 L315.8,673.3 L316.2,673.8 L316.5,674.4 L316.9,675.0 L317.3,675.6 L317.7,676.2 L318.0,676.8 L318.4,677.4 L318.8,678.0 L319.2,678.6 L319.6,679.3 L319.9,679.9 L320.3,680.6 L320.7,681.2 L321.1,681.9 L321.4,682.5 L321.8,683.2 L322.2,683.9 L322.6,684.6 L323.0,685.3 L323.3,686.0 L323.7,686.7 L324.1,687.4 L324.5,688.1 L324.8,688.9 L325.2,689.6 L325.6,690.3 L326.0,691.1 L326.4,691.9 L326.7,692.7 L327.1,693.5 L327.5,694.3 L327.9,695.1 L328.2,696.0 L328.6,696.8 L329.0,697.7 L329.4,698.6 L329.7,699.4 L330.1,700.3 L330.5,701.2 L330.9,702.1 L331.3,703.0 L331.6,703.9 L332.0,704.9 L332.4,705.8 L332.8,706.7 L333.1,707.6 L333.5,708.6 L333.9,709.5 L334.3,710.5 L334.7,711.4 L335.0,712.3 L335.4,713.3 L335.8,714.3 L336.2,715.2 L336.5,716.2 L336.9,717.2 L337.3,718.2 L337.7,719.1 L338.0,720.1 L338.4,721.1 L338.8,722.2 L339.2,723.2 L339.6,724.2 L339.9,725.2 L340.3,726.3 L340.7,727.3 L341.1,728.3 L341.4,729.4 L341.8,730.5 L342.2,731.5 L342.6,732.6 L343.0,733.7 L343.3,734.8 L343.7,735.9 L344.1,737.0 L344.5,738.1 L344.8,739.3 L345.2,740.4 L345.6,741.6 L346.0,742.8 L346.3,744.0 L346.7,745.1 L347.1,746.3 L347.5,747.5 L347.9,748.7 L348.2,749.9 L348.6,751.1 L349.0,752.3 L349.4,753.5 L349.7,754.6 L350.1,755.8 L350.5,756.9 L350.9,758.1 L351.3,759.2 L351.6,760.3 L352.0,761.4 L352.4,762.5 L352.8,763.6 L353.1,764.7 L353.5,765.8 L353.9,766.9 L354.3,768.0 L354.7,769.1 L355.0,770.1 L355.4,771.2 L355.8,772.3 L356.2,773.3 L356.5,774.4 L356.9,775.4 L357.3,776.5 L357.7,777.6 L358.0,778.6 L358.4,779.7 L358.8,780.8 L359.2,781.8 L359.6,782.9 L359.9,784.0 L360.3,785.1 L360.7,786.1 L361.1,787.2 L361.4,788.3 L361.8,789.4 L362.2,790.5 L362.6,791.6 L363.0,792.6 L363.3,793.7 L363.7,794.8 L364.1,795.9 L364.5,797.0 L364.8,798.1 L365.2,799.1 L365.6,800.2 L366.0,801.3 L366.3,802.4 L366.7,803.4 L367.1,804.5 L367.5,805.6 L367.9,806.6 L368.2,807.7 L368.6,808.7 L369.0,809.8 L369.4,810.8 L369.7,811.8 L370.1,812.8 L370.5,813.9 L370.9,814.9 L371.3,815.9 L371.6,816.9 L372.0,817.9 L372.4,818.9 L372.8,819.9 L373.1,820.9 L373.5,821.9 L373.9,822.9 L374.3,823.9 L374.7,824.9 L375.0,825.9 L375.4,827.0 L375.8,828.0 L376.2,829.0 L376.5,830.1 L376.9,831.2 L377.3,832.2 L377.7,833.3 L378.0,834.4 L378.4,835.6 L378.8,836.7 L379.2,837.8 L379.6,839.0 L379.9,840.2 L380.3,841.3 L380.7,842.5 L381.1,843.7 L381.4,844.8 L381.8,846.0 L382.2,847.2 L382.6,848.3 L383.0,849.5 L383.3,850.6 L383.7,851.7 L384.1,852.8 L384.5,853.9 L384.8,855.0 L385.2,856.1 L385.6,857.2 L386.0,858.2 L386.3,859.3 L386.7,860.4 L387.1,861.4 L387.5,862.5 L387.9,863.5 L388.2,864.6 L388.6,865.6 L389.0,866.6 L389.4,867.6 L389.7,868.6 L390.1,869.6 L390.5,870.6 L390.9,871.5 L391.3,872.5 L391.6,873.4 L392.0,874.3 L392.4,875.2 L392.8,876.1 L393.1,876.9 L393.5,877.8 L393.9,878.7 L394.3,879.5 L394.6,880.3 L395.0,881.1 L395.4,882.0 L395.8,882.8 L396.2,883.6 L396.5,884.3 L396.9,885.1 L397.3,885.9 L397.7,886.7 L398.0,887.4 L398.4,888.2 L398.8,888.9 L399.2,889.7 L399.6,890.4 L399.9,891.2 L400.3,891.9 L400.7,892.6 L401.1,893.4 L401.4,894.1 L401.8,894.8 L402.2,895.6 L402.6,896.3 L403.0,897.0 L403.3,897.7 L403.7,898.4 L404.1,899.1 L404.5,899.8 L404.8,900.5 L405.2,901.2 L405.6,901.9 L406.0,902.6 L406.3,903.2 L406.7,903.9 L407.1,904.6 L407.5,905.2 L407.9,905.8 L408.2,906.4 L408.6,907.1 L409.0,907.6 L409.4,908.2 L409.7,908.8 L410.1,909.4 L410.5,909.9 L410.9,910.4 L411.3,911.0 L411.6,911.5 L412.0,912.0 L412.4,912.5 L412.8,912.9 L413.1,913.4 L413.5,913.9 L413.9,914.3 L414.3,914.8 L414.6,915.3 L415.0,915.7 L415.4,916.2 L415.8,916.6 L416.2,917.0 L416.5,917.5 L416.9,917.9 L417.3,918.4 L417.7,918.8 L418.0,919.3 L418.4,919.7 L418.8,920.2 L419.2,920.7 L419.6,921.1 L419.9,921.6 L420.3,922.1 L420.7,922.6 L421.1,923.1 L421.4,923.6 L421.8,924.1 L422.2,924.7 L422.6,925.2 L423.0,925.7 L423.3,926.2 L423.7,926.8 L424.1,927.3 L424.5,927.8 L424.8,928.3 L425.2,928.9 L425.6,929.4 L426.0,929.9 L426.3,930.4 L426.7,930.9 L427.1,931.4 L427.5,931.9 L427.9,932.4 L428.2,932.9 L428.6,933.4 L429.0,933.9 L429.4,934.4 L429.7,934.8 L430.1,935.3 L430.5,935.7 L430.9,936.2 L431.3,936.6 L431.6,937.0 L432.0,937.5 L432.4,937.9 L432.8,938.3 L433.1,938.8 L433.5,939.2 L433.9,939.6 L434.3,940.0 L434.6,940.4 L435.0,940.8 L435.4,941.2 L435.8,941.6 L436.2,942.0 L436.5,942.4 L436.9,942.8 L437.3,943.2 L437.7,943.6 L438.0,943.9 L438.4,944.3 L438.8,944.7 L439.2,945.1 L439.6,945.4 L439.9,945.8 L440.3,946.2 L440.7,946.5 L441.1,946.9 L441.4,947.3 L441.8,947.6 L442.2,948.0 L442.6,948.4 L442.9,948.7 L443.3,949.1 L443.7,949.5 L444.1,949.8 L444.5,950.2 L444.8,950.5 L445.2,950.8 L445.6,951.2 L446.0,951.5 L446.3,951.9 L446.7,952.2 L447.1,952.5 L447.5,952.8 L447.9,953.1 L448.2,953.5 L448.6,953.8 L449.0,954.1 L449.4,954.4 L449.7,954.6 L450.1,954.9 L450.5,955.2 L450.9,955.5 L451.3,955.7 L451.6,956.0 L452.0,956.2 L452.4,956.5 L452.8,956.7 L453.1,957.0 L453.5,957.2 L453.9,957.5 L454.3,957.7 L454.6,957.9 L455.0,958.2 L455.4,958.4 L455.8,958.6 L456.2,958.8 L456.5,959.1 L456.9,959.3 L457.3,959.5 L457.7,959.7 L458.0,959.9 L458.4,960.2 L458.8,960.4 L459.2,960.6 L459.6,960.8 L459.9,961.1 L460.3,961.3 L460.7,961.5 L461.1,961.7 L461.4,961.9 L461.8,962.2 L462.2,962.4 L462.6,962.6 L462.9,962.8 L463.3,963.0 L463.7,963.2 L464.1,963.5 L464.5,963.7 L464.8,963.9 L465.2,964.1 L465.6,964.3 L466.0,964.5 L466.3,964.7 L466.7,964.9 L467.1,965.2 L467.5,965.4 L467.9,965.6 L468.2,965.8 L468.6,966.0 L469.0,966.2 L469.4,966.4 L469.7,966.6 L470.1,966.8 L470.5,967.0 L470.9,967.2 L471.2,967.4 L471.6,967.6 L472.0,967.8 L472.4,968.0 L472.8,968.2 L473.1,968.4 L473.5,968.6 L473.9,968.8 L474.3,969.0 L474.6,969.2 L475.0,969.4 L475.4,969.6 L475.8,969.8 L476.2,970.0 L476.5,970.2 L476.9,970.4 L477.3,970.6 L477.7,970.8 L478.0,971.0 L478.4,971.1 L478.8,971.3 L479.2,971.5 L479.6,971.6 L479.9,971.8 L480.3,972.0 L480.7,972.1 L481.1,972.3 L481.4,972.4 L481.8,972.6 L482.2,972.7 L482.6,972.8 L482.9,973.0 L483.3,973.1 L483.7,973.3 L484.1,973.4 L484.5,973.5 L484.8,973.7 L485.2,973.8 L485.6,973.9 L486.0,974.1 L486.3,974.2 L486.7,974.3 L487.1,974.4 L487.5,974.6 L487.9,974.7 L488.2,974.8 L488.6,974.9 L489.0,975.0 L489.4,975.2 L489.7,975.3 L490.1,975.4 L490.5,975.5 L490.9,975.6 L491.2,975.7 L491.6,975.9 L492.0,976.0 L492.4,976.1 L492.8,976.2 L493.1,976.3 L493.5,976.4 L493.9,976.5 L494.3,976.7 L494.6,976.8 L495.0,976.9 L495.4,977.0 L495.8,977.1 L496.2,977.2 L496.5,977.3 L496.9,977.5 L497.3,977.6 L497.7,977.7 L498.0,977.8 L498.4,977.9 L498.8,978.0 L499.2,978.1 L499.6,978.2 L499.9,978.3 L500.3,978.5 L500.7,978.6 L501.1,978.7 L501.4,978.8 L501.8,978.9 L502.2,979.0 L502.6,979.1 L502.9,979.2 L503.3,979.3 L503.7,979.4 L504.1,979.5 L504.5,979.6 L504.8,979.7 L505.2,979.8 L505.6,979.9 L506.0,980.0 L506.3,980.1 L506.7,980.2 L507.1,980.3 L507.5,980.4 L507.9,980.5 L508.2,980.6 L508.6,980.7 L509.0,980.8 L509.4,980.9 L509.7,980.9 L510.1,981.0 L510.5,981.1 L510.9,981.2 L511.2,981.3 L511.6,981.4 L512.0,981.4 L512.4,981.5 L512.8,981.6 L513.1,981.7 L513.5,981.8 L513.9,981.8 L514.3,981.9 L514.6,982.0 L515.0,982.1 L515.4,982.1 L515.8,982.2 L516.2,982.3 L516.5,982.4 L516.9,982.4 L517.3,982.5 L517.7,982.6 L518.0,982.6 L518.4,982.7 L518.8,982.8 L519.2,982.8 L519.5,982.9 L519.9,983.0 L520.3,983.0 L520.7,983.1 L521.1,983.2 L521.4,983.2 L521.8,983.3 L522.2,983.4 L522.6,983.4 L522.9,983.5 L523.3,983.5 L523.7,983.6 L524.1,983.7 L524.5,983.7 L524.8,983.8 L525.2,983.8 L525.6,983.9 L526.0,984.0 L526.3,984.0 L526.7,984.1 L527.1,984.1 L527.5,984.2 L527.9,984.3 L528.2,984.3 L528.6,984.4 L529.0,984.4 L529.4,984.5 L529.7,984.5 L530.1,984.6 L530.5,984.6 L530.9,984.7 L531.2,984.7 L531.6,984.8 L532.0,984.8 L532.4,984.9 L532.8,984.9 L533.1,985.0 L533.5,985.0 L533.9,985.1 L534.3,985.1 L534.6,985.2 L535.0,985.2 L535.4,985.3 L535.8,985.3 L536.2,985.4 L536.5,985.4 L536.9,985.5 L537.3,985.5 L537.7,985.6 L538.0,985.6 L538.4,985.7 L538.8,985.7 L539.2,985.8 L539.5,985.8 L539.9,985.9 L540.3,985.9 L540.7,985.9 L541.1,986.0 L541.4,986.0 L541.8,986.1 L542.2,986.1 L542.6,986.2 L542.9,986.2 L543.3,986.2 L543.7,986.3 L544.1,986.3 L544.5,986.4 L544.8,986.4 L545.2,986.4 L545.6,986.5 L546.0,986.5 L546.3,986.6 L546.7,986.6 L547.1,986.6 L547.5,986.7 L547.9,986.7 L548.2,986.8 L548.6,986.8 L549.0,986.8 L549.4,986.9 L549.7,986.9 L550.1,986.9 L550.5,987.0 L550.9,987.0 L551.2,987.0 L551.6,987.1 L552.0,987.1 L552.4,987.2 L552.8,987.2 L553.1,987.2 L553.5,987.3 L553.9,987.3 L554.3,987.3 L554.6,987.4 L555.0,987.4 L555.4,987.4 L555.8,987.5 L556.2,987.5 L556.5,987.5 L556.9,987.6 L557.3,987.6 L557.7,987.6 L558.0,987.7 L558.4,987.7 L558.8,987.7 L559.2,987.8 L559.5,987.8 L559.9,987.8 L560.3,987.8 L560.7,987.9 L561.1,987.9 L561.4,987.9 L561.8,988.0 L562.2,988.0 L562.6,988.0 L562.9,988.0 L563.3,988.1 L563.7,988.1 L564.1,988.1 L564.5,988.1 L564.8,988.2 L565.2,988.2 L565.6,988.2 L566.0,988.2 L566.3,988.3 L566.7,988.3 L567.1,988.3 L567.5,988.3 L567.9,988.4 L568.2,988.4 L568.6,988.4 L569.0,988.4 L569.4,988.5 L569.7,988.5 L570.1,988.5 L570.5,988.5 L570.9,988.6 L571.2,988.6 L571.6,988.6 L572.0,988.6 L572.4,988.7 L572.8,988.7 L573.1,988.7 L573.5,988.7 L573.9,988.7 L574.3,988.8 L574.6,988.8 L575.0,988.8 L575.4,988.8 L575.8,988.9 L576.2,988.9 L576.5,988.9 L576.9,988.9 L577.3,988.9 L577.7,989.0 L578.0,989.0 L578.4,989.0 L578.8,989.0 L579.2,989.0 L579.5,989.1 L579.9,989.1 L580.3,989.1 L580.7,989.1 L581.1,989.1 L581.4,989.2 L581.8,989.2 L582.2,989.2 L582.6,989.2 L582.9,989.2 L583.3,989.3 L583.7,989.3 L584.1,989.3 L584.5,989.3 L584.8,989.3 L585.2,989.4 L585.6,989.4 L586.0,989.4 L586.3,989.4 L586.7,989.4 L587.1,989.5 L587.5,989.5 L587.8,989.5 L588.2,989.5 L588.6,989.5 L589.0,989.5 L589.4,989.6 L589.7,989.6 L590.1,989.6 L590.5,989.6 L590.9,989.6 L591.2,989.7 L591.6,989.7 L592.0,989.7 L592.4,989.7 L592.8,989.7 L593.1,989.7 L593.5,989.8 L593.9,989.8 L594.3,989.8 L594.6,989.8 L595.0,989.8 L595.4,989.8 L595.8,989.9 L596.2,989.9 L596.5,989.9 L596.9,989.9 L597.3,989.9 L597.7,989.9 L598.0,989.9 L598.4,990.0 L598.8,990.0 L599.2,990.0 L599.5,990.0 L599.9,990.0 L600.3,990.0 L600.7,990.1 L601.1,990.1 L601.4,990.1 L601.8,990.1 L602.2,990.1 L602.6,990.1 L602.9,990.1 L603.3,990.2 L603.7,990.2 L604.1,990.2 L604.5,990.2 L604.8,990.2 L605.2,990.2 L605.6,990.2 L606.0,990.3 L606.3,990.3 L606.7,990.3 L607.1,990.3 L607.5,990.3 L607.8,990.3 L608.2,990.3 L608.6,990.4 L609.0,990.4 L609.4,990.4 L609.7,990.4 L610.1,990.4 L610.5,990.4 L610.9,990.4 L611.2,990.4 L611.6,990.5 L612.0,990.5 L612.4,990.5 L612.8,990.5 L613.1,990.5 L613.5,990.5 L613.9,990.5 L614.3,990.5 L614.6,990.6 L615.0,990.6 L615.4,990.6 L615.8,990.6 L616.1,990.6 L616.5,990.6 L616.9,990.6 L617.3,990.6 L617.7,990.7 L618.0,990.7 L618.4,990.7 L618.8,990.7 L619.2,990.7 L619.5,990.7 L619.9,990.7 L620.3,990.7 L620.7,990.8 L621.1,990.8 L621.4,990.8 L621.8,990.8 L622.2,990.8 L622.6,990.8 L622.9,990.8 L623.3,990.8 L623.7,990.8 L624.1,990.9 L624.5,990.9 L624.8,990.9 L625.2,990.9 L625.6,990.9 L626.0,990.9 L626.3,990.9 L626.7,990.9 L627.1,990.9 L627.5,991.0 L627.8,991.0 L628.2,991.0 L628.6,991.0 L629.0,991.0 L629.4,991.0 L629.7,991.0 L630.1,991.0 L630.5,991.0 L630.9,991.1 L631.2,991.1 L631.6,991.1 L632.0,991.1 L632.4,991.1 L632.8,991.1 L633.1,991.1 L633.5,991.1 L633.9,991.1 L634.3,991.2 L634.6,991.2 L635.0,991.2 L635.4,991.2 L635.8,991.2 L636.1,991.2 L636.5,991.2 L636.9,991.2 L637.3,991.2 L637.7,991.2 L638.0,991.3 L638.4,991.3 L638.8,991.3 L639.2,991.3 L639.5,991.3 L639.9,991.3 L640.3,991.3 L640.7,991.3 L641.1,991.3 L641.4,991.3 L641.8,991.4 L642.2,991.4 L642.6,991.4 L642.9,991.4 L643.3,991.4 L643.7,991.4 L644.1,991.4 L644.5,991.4 L644.8,991.4 L645.2,991.4 L645.6,991.4 L646.0,991.5 L646.3,991.5 L646.7,991.5 L647.1,991.5 L647.5,991.5 L647.8,991.5 L648.2,991.5 L648.6,991.5 L649.0,991.5 L649.4,991.5 L649.7,991.5 L650.1,991.6 L650.5,991.6 L650.9,991.6 L651.2,991.6 L651.6,991.6 L652.0,991.6 L652.4,991.6 L652.8,991.6 L653.1,991.6 L653.5,991.6 L653.9,991.6 L654.3,991.7 L654.6,991.7 L655.0,991.7 L655.4,991.7 L655.8,991.7 L656.1,991.7 L656.5,991.7 L656.9,991.7 L657.3,991.7 L657.7,991.7 L658.0,991.7 L658.4,991.8 L658.8,991.8 L659.2,991.8 L659.5,991.8 L659.9,991.8 L660.3,991.8 L660.7,991.8 L661.1,991.8 L661.4,991.8 L661.8,991.8 L662.2,991.8 L662.6,991.8 L662.9,991.9 L663.3,991.9 L663.7,991.9 L664.1,991.9 L664.5,991.9 L664.8,991.9 L665.2,991.9 L665.6,991.9 L666.0,991.9 L666.3,991.9 L666.7,991.9 L667.1,992.0 L667.5,992.0 L667.8,992.0 L668.2,992.0 L668.6,992.0 L669.0,992.0 L669.4,992.0 L669.7,992.0 L670.1,992.0 L670.5,992.0 L670.9,992.0 L671.2,992.0 L671.6,992.1 L672.0,992.1 L672.4,992.1 L672.8,992.1 L673.1,992.1 L673.5,992.1 L673.9,992.1 L674.3,992.1 L674.6,992.1 L675.0,992.1 L675.4,992.1 L675.8,992.1 L676.1,992.2 L676.5,992.2 L676.9,992.2 L677.3,992.2 L677.7,992.2 L678.0,992.2 L678.4,992.2 L678.8,992.2 L679.2,992.2 L679.5,992.2 L679.9,992.2 L680.3,992.2 L680.7,992.3 L681.1,992.3 L681.4,992.3 L681.8,992.3 L682.2,992.3 L682.6,992.3 L682.9,992.3 L683.3,992.3 L683.7,992.3 L684.1,992.3 L684.4,992.3 L684.8,992.3 L685.2,992.3 L685.6,992.4 L686.0,992.4 L686.3,992.4 L686.7,992.4 L687.1,992.4 L687.5,992.4 L687.8,992.4 L688.2,992.4 L688.6,992.4" stroke="#ff0000" stroke-dasharray="9.1 3.9" stroke-dashoffset="6"/>
</g>
<rect x="143.3" y="598.4" width="33.8" height="36.1" rx="5.5" fill="#fff" stroke="#333" stroke-width="2"/>
<text x="160.2" y="623.2" class="tk" text-anchor="middle">H</text>
<g stroke-width="2.8" stroke-dasharray="9.5 3.7" fill="none">
  <line x1="524.9" y1="625.2" x2="547.8" y2="625.2" stroke="#008000"/>
  <line x1="524.9" y1="660.2" x2="547.8" y2="660.2" stroke="#ffa500"/>
  <line x1="524.9" y1="695.3" x2="547.8" y2="695.3" stroke="#0000ff"/>
  <line x1="524.9" y1="730.4" x2="547.8" y2="730.4" stroke="#ff0000"/>
</g>
<text x="555.7" y="634.3" class="tk" textLength="101" lengthAdjust="spacingAndGlyphs">1000 iter.</text>
<text x="555.7" y="669.3" class="tk" textLength="101" lengthAdjust="spacingAndGlyphs">4000 iter.</text>
<text x="555.7" y="704.4" class="tk" textLength="101" lengthAdjust="spacingAndGlyphs">8000 iter.</text>
<text x="555.7" y="739.5" class="tk" textLength="113" lengthAdjust="spacingAndGlyphs">12000 iter.</text>
<text x="460" y="860.3" class="tk" font-style="italic">q</text>
<text x="478.5" y="860.3" class="tk">≃</text>
<text x="504.3" y="860.3" class="tk" textLength="57" lengthAdjust="spacingAndGlyphs">1.376</text>
<text x="570.5" y="860.3" class="tk" textLength="19" lengthAdjust="spacingAndGlyphs">Å</text>
<text x="590.5" y="849.5" class="tk" style="font-size:18px" textLength="23" lengthAdjust="spacingAndGlyphs">−1</text>


<line x1="76.2" y1="1550.0" x2="84.8" y2="1550.0" class="ax"/>
<text x="67" y="1558.6" class="tk" text-anchor="end">0.0</text>
<line x1="76.2" y1="1474.4" x2="84.8" y2="1474.4" class="ax"/>
<text x="67" y="1483.0" class="tk" text-anchor="end">0.2</text>
<line x1="76.2" y1="1398.9" x2="84.8" y2="1398.9" class="ax"/>
<text x="67" y="1407.5" class="tk" text-anchor="end">0.4</text>
<line x1="76.2" y1="1323.3" x2="84.8" y2="1323.3" class="ax"/>
<text x="67" y="1331.9" class="tk" text-anchor="end">0.6</text>
<line x1="76.2" y1="1247.8" x2="84.8" y2="1247.8" class="ax"/>
<text x="67" y="1256.4" class="tk" text-anchor="end">0.8</text>
<line x1="76.2" y1="1172.2" x2="84.8" y2="1172.2" class="ax"/>
<text x="67" y="1180.8" class="tk" text-anchor="end">1.0</text>
<line x1="84.8" y1="1570.1" x2="84.8" y2="1578.7" class="ax"/>
<text x="84.8" y="1605.7" class="tk" text-anchor="middle">0</text>
<line x1="235.8" y1="1570.1" x2="235.8" y2="1578.7" class="ax"/>
<text x="235.8" y="1605.7" class="tk" text-anchor="middle">20</text>
<line x1="386.7" y1="1570.1" x2="386.7" y2="1578.7" class="ax"/>
<text x="386.7" y="1605.7" class="tk" text-anchor="middle">40</text>
<line x1="537.7" y1="1570.1" x2="537.7" y2="1578.7" class="ax"/>
<text x="537.7" y="1605.7" class="tk" text-anchor="middle">60</text>
<line x1="688.6" y1="1570.1" x2="688.6" y2="1578.7" class="ax"/>
<text x="688.6" y="1605.7" class="tk" text-anchor="middle">80</text>
<rect x="84.85" y="1129.90" width="603.75" height="440.20" fill="none" class="ax"/>
<text x="385" y="1639.1" class="tk" text-anchor="middle"><tspan font-style="italic">ω</tspan>[eV]</text>
<text transform="translate(18.8,1350.0) rotate(-90)" class="tk" style="font-size:26.5px" text-anchor="middle" textLength="73" lengthAdjust="spacingAndGlyphs"><tspan font-style="italic">S</tspan>(<tspan font-style="italic">q</tspan>,<tspan font-style="italic">ω</tspan>)</text>
<g clip-path="url(#clipc)" fill="none" stroke-width="2.6" stroke-linejoin="round">
  <path d="M84.8,1367.5 L85.2,1369.3 L85.6,1370.6 L86.0,1371.7 L86.4,1372.8 L86.7,1373.8 L87.1,1374.7 L87.5,1375.5 L87.9,1376.1 L88.2,1376.7 L88.6,1377.1 L89.0,1377.3 L89.4,1377.4 L89.8,1377.4 L90.1,1377.2 L90.5,1377.0 L90.9,1376.7 L91.3,1376.3 L91.6,1375.9 L92.0,1375.4 L92.4,1374.9 L92.8,1374.4 L93.2,1373.9 L93.5,1373.3 L93.9,1372.8 L94.3,1372.2 L94.7,1371.5 L95.0,1370.8 L95.4,1370.0 L95.8,1369.2 L96.2,1368.4 L96.5,1367.5 L96.9,1366.7 L97.3,1365.9 L97.7,1365.0 L98.1,1364.1 L98.4,1363.1 L98.8,1362.2 L99.2,1361.2 L99.6,1360.2 L99.9,1359.2 L100.3,1358.2 L100.7,1357.1 L101.1,1356.1 L101.5,1355.1 L101.8,1354.2 L102.2,1353.2 L102.6,1352.3 L103.0,1351.4 L103.3,1350.5 L103.7,1349.7 L104.1,1348.9 L104.5,1348.2 L104.8,1347.5 L105.2,1346.8 L105.6,1346.1 L106.0,1345.5 L106.4,1344.9 L106.7,1344.3 L107.1,1343.7 L107.5,1343.1 L107.9,1342.5 L108.2,1341.9 L108.6,1341.3 L109.0,1340.6 L109.4,1340.0 L109.8,1339.3 L110.1,1338.7 L110.5,1337.9 L110.9,1337.2 L111.3,1336.4 L111.6,1335.6 L112.0,1334.8 L112.4,1334.0 L112.8,1333.2 L113.2,1332.3 L113.5,1331.5 L113.9,1330.7 L114.3,1329.9 L114.7,1329.1 L115.0,1328.4 L115.4,1327.6 L115.8,1326.9 L116.2,1326.3 L116.5,1325.6 L116.9,1325.1 L117.3,1324.5 L117.7,1324.0 L118.1,1323.5 L118.4,1323.0 L118.8,1322.6 L119.2,1322.1 L119.6,1321.7 L119.9,1321.3 L120.3,1320.9 L120.7,1320.4 L121.1,1320.0 L121.5,1319.6 L121.8,1319.2 L122.2,1318.8 L122.6,1318.5 L123.0,1318.1 L123.3,1317.7 L123.7,1317.4 L124.1,1317.0 L124.5,1316.7 L124.8,1316.3 L125.2,1315.9 L125.6,1315.6 L126.0,1315.2 L126.4,1314.8 L126.7,1314.4 L127.1,1314.0 L127.5,1313.5 L127.9,1313.0 L128.2,1312.5 L128.6,1312.0 L129.0,1311.5 L129.4,1311.0 L129.8,1310.6 L130.1,1310.3 L130.5,1310.0 L130.9,1309.8 L131.3,1309.7 L131.6,1309.7 L132.0,1309.8 L132.4,1309.9 L132.8,1310.0 L133.1,1310.1 L133.5,1310.3 L133.9,1310.4 L134.3,1310.6 L134.7,1310.7 L135.0,1310.8 L135.4,1310.9 L135.8,1310.9 L136.2,1310.9 L136.5,1310.9 L136.9,1310.9 L137.3,1310.9 L137.7,1310.9 L138.1,1310.9 L138.4,1310.9 L138.8,1310.9 L139.2,1310.9 L139.6,1310.8 L139.9,1310.7 L140.3,1310.4 L140.7,1310.1 L141.1,1309.7 L141.5,1309.2 L141.8,1308.7 L142.2,1308.2 L142.6,1307.6 L143.0,1307.0 L143.3,1306.4 L143.7,1305.7 L144.1,1304.7 L144.5,1303.5 L144.8,1302.1 L145.2,1300.7 L145.6,1299.2 L146.0,1297.7 L146.4,1296.2 L146.7,1294.8 L147.1,1293.6 L147.5,1292.3 L147.9,1290.9 L148.2,1289.5 L148.6,1288.2 L149.0,1286.9 L149.4,1285.8 L149.8,1284.9 L150.1,1284.2 L150.5,1283.8 L150.9,1283.4 L151.3,1283.0 L151.6,1282.7 L152.0,1282.4 L152.4,1282.2 L152.8,1282.0 L153.1,1281.9 L153.5,1281.9 L153.9,1282.1 L154.3,1282.4 L154.7,1282.9 L155.0,1283.5 L155.4,1284.1 L155.8,1284.9 L156.2,1285.6 L156.5,1286.4 L156.9,1287.1 L157.3,1287.8 L157.7,1288.5 L158.1,1289.3 L158.4,1290.2 L158.8,1291.1 L159.2,1292.0 L159.6,1292.9 L159.9,1293.9 L160.3,1294.7 L160.7,1295.5 L161.1,1296.3 L161.5,1297.0 L161.8,1297.6 L162.2,1298.3 L162.6,1298.9 L163.0,1299.6 L163.3,1300.2 L163.7,1300.7 L164.1,1301.3 L164.5,1301.8 L164.8,1302.2 L165.2,1302.5 L165.6,1302.8 L166.0,1303.1 L166.4,1303.3 L166.7,1303.5 L167.1,1303.7 L167.5,1303.9 L167.9,1304.1 L168.2,1304.2 L168.6,1304.4 L169.0,1304.5 L169.4,1304.6 L169.8,1304.6 L170.1,1304.6 L170.5,1304.6 L170.9,1304.5 L171.3,1304.4 L171.6,1304.2 L172.0,1304.1 L172.4,1303.9 L172.8,1303.7 L173.1,1303.5 L173.5,1303.3 L173.9,1303.1 L174.3,1302.9 L174.7,1302.7 L175.0,1302.4 L175.4,1302.1 L175.8,1301.7 L176.2,1301.3 L176.5,1301.0 L176.9,1300.6 L177.3,1300.3 L177.7,1300.1 L178.1,1299.9 L178.4,1299.8 L178.8,1299.8 L179.2,1299.8 L179.6,1299.9 L179.9,1300.0 L180.3,1300.1 L180.7,1300.3 L181.1,1300.4 L181.4,1300.6 L181.8,1300.7 L182.2,1300.8 L182.6,1300.9 L183.0,1301.0 L183.3,1301.1 L183.7,1301.1 L184.1,1301.0 L184.5,1300.8 L184.8,1300.4 L185.2,1299.9 L185.6,1299.3 L186.0,1298.7 L186.4,1298.0 L186.7,1297.3 L187.1,1296.6 L187.5,1295.9 L187.9,1295.3 L188.2,1294.7 L188.6,1294.1 L189.0,1293.5 L189.4,1292.8 L189.8,1292.2 L190.1,1291.5 L190.5,1290.8 L190.9,1290.1 L191.3,1289.5 L191.6,1288.8 L192.0,1288.2 L192.4,1287.6 L192.8,1287.1 L193.1,1286.5 L193.5,1286.1 L193.9,1285.6 L194.3,1285.1 L194.7,1284.7 L195.0,1284.3 L195.4,1283.9 L195.8,1283.5 L196.2,1283.1 L196.5,1282.8 L196.9,1282.4 L197.3,1282.0 L197.7,1281.7 L198.1,1281.3 L198.4,1280.9 L198.8,1280.5 L199.2,1280.1 L199.6,1279.7 L199.9,1279.3 L200.3,1278.9 L200.7,1278.4 L201.1,1278.0 L201.4,1277.6 L201.8,1277.1 L202.2,1276.6 L202.6,1276.2 L203.0,1275.7 L203.3,1275.3 L203.7,1274.8 L204.1,1274.3 L204.5,1273.8 L204.8,1273.3 L205.2,1272.9 L205.6,1272.4 L206.0,1271.8 L206.4,1271.3 L206.7,1270.8 L207.1,1270.3 L207.5,1269.8 L207.9,1269.2 L208.2,1268.7 L208.6,1268.1 L209.0,1267.5 L209.4,1267.0 L209.8,1266.4 L210.1,1265.8 L210.5,1265.2 L210.9,1264.6 L211.3,1264.0 L211.6,1263.4 L212.0,1262.8 L212.4,1262.1 L212.8,1261.5 L213.1,1260.9 L213.5,1260.3 L213.9,1259.6 L214.3,1259.0 L214.7,1258.4 L215.0,1257.7 L215.4,1257.1 L215.8,1256.5 L216.2,1255.8 L216.5,1255.2 L216.9,1254.5 L217.3,1253.9 L217.7,1253.2 L218.1,1252.5 L218.4,1251.9 L218.8,1251.2 L219.2,1250.5 L219.6,1249.9 L219.9,1249.2 L220.3,1248.5 L220.7,1247.8 L221.1,1247.1 L221.4,1246.4 L221.8,1245.7 L222.2,1245.0 L222.6,1244.3 L223.0,1243.6 L223.3,1242.9 L223.7,1242.2 L224.1,1241.5 L224.5,1240.8 L224.8,1240.1 L225.2,1239.3 L225.6,1238.6 L226.0,1237.9 L226.4,1237.2 L226.7,1236.5 L227.1,1235.7 L227.5,1235.0 L227.9,1234.3 L228.2,1233.5 L228.6,1232.7 L229.0,1232.0 L229.4,1231.2 L229.8,1230.4 L230.1,1229.6 L230.5,1228.7 L230.9,1227.9 L231.3,1227.0 L231.6,1226.1 L232.0,1225.2 L232.4,1224.3 L232.8,1223.3 L233.1,1222.3 L233.5,1221.3 L233.9,1220.2 L234.3,1219.2 L234.7,1218.2 L235.0,1217.1 L235.4,1216.1 L235.8,1215.1 L236.2,1214.1 L236.5,1213.1 L236.9,1212.0 L237.3,1211.0 L237.7,1210.0 L238.1,1208.9 L238.4,1207.9 L238.8,1206.8 L239.2,1205.8 L239.6,1204.8 L239.9,1203.8 L240.3,1202.8 L240.7,1201.8 L241.1,1200.8 L241.4,1199.9 L241.8,1199.0 L242.2,1198.1 L242.6,1197.1 L243.0,1196.3 L243.3,1195.4 L243.7,1194.5 L244.1,1193.6 L244.5,1192.8 L244.8,1191.9 L245.2,1191.1 L245.6,1190.2 L246.0,1189.4 L246.4,1188.6 L246.7,1187.8 L247.1,1187.0 L247.5,1186.2 L247.9,1185.5 L248.2,1184.7 L248.6,1184.0 L249.0,1183.3 L249.4,1182.6 L249.7,1181.9 L250.1,1181.2 L250.5,1180.6 L250.9,1180.0 L251.3,1179.3 L251.6,1178.7 L252.0,1178.1 L252.4,1177.4 L252.8,1176.8 L253.1,1176.1 L253.5,1175.5 L253.9,1174.8 L254.3,1174.2 L254.7,1173.5 L255.0,1172.7 L255.4,1172.0 L255.8,1171.2 L256.2,1170.3 L256.5,1169.5 L256.9,1168.6 L257.3,1167.7 L257.7,1166.8 L258.1,1165.9 L258.4,1165.1 L258.8,1164.2 L259.2,1163.4 L259.6,1162.7 L259.9,1162.0 L260.3,1161.4 L260.7,1160.8 L261.1,1160.2 L261.4,1159.7 L261.8,1159.1 L262.2,1158.6 L262.6,1158.2 L263.0,1157.8 L263.3,1157.4 L263.7,1157.1 L264.1,1156.8 L264.5,1156.5 L264.8,1156.3 L265.2,1156.0 L265.6,1155.8 L266.0,1155.6 L266.4,1155.4 L266.7,1155.2 L267.1,1155.0 L267.5,1154.8 L267.9,1154.6 L268.2,1154.4 L268.6,1154.2 L269.0,1154.1 L269.4,1153.9 L269.7,1153.8 L270.1,1153.6 L270.5,1153.5 L270.9,1153.4 L271.3,1153.2 L271.6,1153.1 L272.0,1153.0 L272.4,1152.9 L272.8,1152.8 L273.1,1152.6 L273.5,1152.5 L273.9,1152.4 L274.3,1152.3 L274.7,1152.2 L275.0,1152.0 L275.4,1151.9 L275.8,1151.8 L276.2,1151.7 L276.5,1151.6 L276.9,1151.5 L277.3,1151.4 L277.7,1151.3 L278.0,1151.2 L278.4,1151.1 L278.8,1151.0 L279.2,1151.0 L279.6,1150.9 L279.9,1150.8 L280.3,1150.8 L280.7,1150.7 L281.1,1150.7 L281.4,1150.6 L281.8,1150.6 L282.2,1150.6 L282.6,1150.6 L283.0,1150.6 L283.3,1150.6 L283.7,1150.6 L284.1,1150.6 L284.5,1150.6 L284.8,1150.6 L285.2,1150.6 L285.6,1150.6 L286.0,1150.6 L286.4,1150.6 L286.7,1150.6 L287.1,1150.6 L287.5,1150.6 L287.9,1150.6 L288.2,1150.6 L288.6,1150.7 L289.0,1150.8 L289.4,1150.9 L289.7,1151.1 L290.1,1151.3 L290.5,1151.5 L290.9,1151.7 L291.3,1151.9 L291.6,1152.1 L292.0,1152.3 L292.4,1152.5 L292.8,1152.8 L293.1,1153.2 L293.5,1153.5 L293.9,1153.9 L294.3,1154.4 L294.7,1154.8 L295.0,1155.3 L295.4,1155.8 L295.8,1156.4 L296.2,1156.9 L296.5,1157.5 L296.9,1158.0 L297.3,1158.6 L297.7,1159.2 L298.0,1159.8 L298.4,1160.4 L298.8,1161.0 L299.2,1161.5 L299.6,1162.1 L299.9,1162.6 L300.3,1163.2 L300.7,1163.8 L301.1,1164.4 L301.4,1165.0 L301.8,1165.6 L302.2,1166.2 L302.6,1166.8 L303.0,1167.5 L303.3,1168.1 L303.7,1168.8 L304.1,1169.4 L304.5,1170.1 L304.8,1170.8 L305.2,1171.5 L305.6,1172.2 L306.0,1173.0 L306.4,1173.7 L306.7,1174.5 L307.1,1175.3 L307.5,1176.1 L307.9,1176.9 L308.2,1177.7 L308.6,1178.4 L309.0,1179.2 L309.4,1179.9 L309.7,1180.6 L310.1,1181.3 L310.5,1182.0 L310.9,1182.6 L311.3,1183.3 L311.6,1183.9 L312.0,1184.5 L312.4,1185.1 L312.8,1185.7 L313.1,1186.2 L313.5,1186.8 L313.9,1187.4 L314.3,1188.0 L314.7,1188.6 L315.0,1189.2 L315.4,1189.8 L315.8,1190.4 L316.2,1191.0 L316.5,1191.6 L316.9,1192.3 L317.3,1192.9 L317.7,1193.6 L318.0,1194.3 L318.4,1195.0 L318.8,1195.7 L319.2,1196.4 L319.6,1197.1 L319.9,1197.8 L320.3,1198.5 L320.7,1199.3 L321.1,1200.0 L321.4,1200.7 L321.8,1201.5 L322.2,1202.2 L322.6,1203.0 L323.0,1203.8 L323.3,1204.6 L323.7,1205.4 L324.1,1206.2 L324.5,1207.0 L324.8,1207.8 L325.2,1208.6 L325.6,1209.5 L326.0,1210.3 L326.4,1211.2 L326.7,1212.1 L327.1,1213.0 L327.5,1213.9 L327.9,1214.8 L328.2,1215.7 L328.6,1216.7 L329.0,1217.7 L329.4,1218.6 L329.7,1219.6 L330.1,1220.6 L330.5,1221.6 L330.9,1222.6 L331.3,1223.6 L331.6,1224.7 L332.0,1225.7 L332.4,1226.7 L332.8,1227.8 L333.1,1228.8 L333.5,1229.8 L333.9,1230.9 L334.3,1231.9 L334.7,1233.0 L335.0,1234.0 L335.4,1235.1 L335.8,1236.2 L336.2,1237.3 L336.5,1238.3 L336.9,1239.4 L337.3,1240.5 L337.7,1241.6 L338.0,1242.8 L338.4,1243.9 L338.8,1245.0 L339.2,1246.1 L339.6,1247.3 L339.9,1248.4 L340.3,1249.6 L340.7,1250.7 L341.1,1251.9 L341.4,1253.1 L341.8,1254.3 L342.2,1255.5 L342.6,1256.7 L343.0,1257.9 L343.3,1259.1 L343.7,1260.3 L344.1,1261.6 L344.5,1262.8 L344.8,1264.1 L345.2,1265.4 L345.6,1266.7 L346.0,1268.0 L346.3,1269.4 L346.7,1270.7 L347.1,1272.0 L347.5,1273.4 L347.9,1274.7 L348.2,1276.0 L348.6,1277.3 L349.0,1278.7 L349.4,1280.0 L349.7,1281.3 L350.1,1282.6 L350.5,1283.9 L350.9,1285.2 L351.3,1286.4 L351.6,1287.7 L352.0,1288.9 L352.4,1290.1 L352.8,1291.4 L353.1,1292.6 L353.5,1293.8 L353.9,1295.0 L354.3,1296.2 L354.7,1297.4 L355.0,1298.6 L355.4,1299.8 L355.8,1301.0 L356.2,1302.2 L356.5,1303.4 L356.9,1304.6 L357.3,1305.7 L357.7,1306.9 L358.0,1308.1 L358.4,1309.3 L358.8,1310.5 L359.2,1311.7 L359.6,1312.9 L359.9,1314.1 L360.3,1315.3 L360.7,1316.5 L361.1,1317.7 L361.4,1318.9 L361.8,1320.1 L362.2,1321.3 L362.6,1322.5 L363.0,1323.8 L363.3,1325.0 L363.7,1326.2 L364.1,1327.4 L364.5,1328.6 L364.8,1329.8 L365.2,1331.0 L365.6,1332.2 L366.0,1333.4 L366.3,1334.6 L366.7,1335.8 L367.1,1337.0 L367.5,1338.2 L367.9,1339.4 L368.2,1340.6 L368.6,1341.7 L369.0,1342.9 L369.4,1344.1 L369.7,1345.2 L370.1,1346.3 L370.5,1347.5 L370.9,1348.6 L371.3,1349.7 L371.6,1350.8 L372.0,1352.0 L372.4,1353.1 L372.8,1354.2 L373.1,1355.3 L373.5,1356.4 L373.9,1357.6 L374.3,1358.7 L374.7,1359.8 L375.0,1361.0 L375.4,1362.1 L375.8,1363.3 L376.2,1364.4 L376.5,1365.6 L376.9,1366.8 L377.3,1368.0 L377.7,1369.2 L378.0,1370.5 L378.4,1371.7 L378.8,1373.0 L379.2,1374.3 L379.6,1375.6 L379.9,1376.9 L380.3,1378.2 L380.7,1379.5 L381.1,1380.8 L381.4,1382.1 L381.8,1383.4 L382.2,1384.7 L382.6,1386.0 L383.0,1387.3 L383.3,1388.5 L383.7,1389.8 L384.1,1391.0 L384.5,1392.3 L384.8,1393.5 L385.2,1394.7 L385.6,1395.9 L386.0,1397.1 L386.3,1398.3 L386.7,1399.5 L387.1,1400.6 L387.5,1401.8 L387.9,1403.0 L388.2,1404.1 L388.6,1405.3 L389.0,1406.4 L389.4,1407.6 L389.7,1408.7 L390.1,1409.8 L390.5,1410.9 L390.9,1411.9 L391.3,1413.0 L391.6,1414.0 L392.0,1415.0 L392.4,1416.0 L392.8,1417.0 L393.1,1418.0 L393.5,1418.9 L393.9,1419.9 L394.3,1420.8 L394.6,1421.7 L395.0,1422.7 L395.4,1423.6 L395.8,1424.5 L396.2,1425.4 L396.5,1426.2 L396.9,1427.1 L397.3,1428.0 L397.7,1428.8 L398.0,1429.7 L398.4,1430.5 L398.8,1431.4 L399.2,1432.2 L399.6,1433.0 L399.9,1433.9 L400.3,1434.7 L400.7,1435.5 L401.1,1436.3 L401.4,1437.1 L401.8,1438.0 L402.2,1438.8 L402.6,1439.6 L403.0,1440.4 L403.3,1441.2 L403.7,1442.0 L404.1,1442.8 L404.5,1443.6 L404.8,1444.3 L405.2,1445.1 L405.6,1445.9 L406.0,1446.6 L406.3,1447.4 L406.7,1448.1 L407.1,1448.8 L407.5,1449.5 L407.9,1450.2 L408.2,1450.9 L408.6,1451.6 L409.0,1452.3 L409.4,1452.9 L409.7,1453.6 L410.1,1454.2 L410.5,1454.8 L410.9,1455.4 L411.3,1456.0 L411.6,1456.6 L412.0,1457.1 L412.4,1457.7 L412.8,1458.2 L413.1,1458.7 L413.5,1459.2 L413.9,1459.8 L414.3,1460.3 L414.6,1460.8 L415.0,1461.3 L415.4,1461.8 L415.8,1462.3 L416.2,1462.8 L416.5,1463.3 L416.9,1463.8 L417.3,1464.3 L417.7,1464.8 L418.0,1465.3 L418.4,1465.8 L418.8,1466.3 L419.2,1466.8 L419.6,1467.4 L419.9,1467.9 L420.3,1468.4 L420.7,1469.0 L421.1,1469.6 L421.4,1470.1 L421.8,1470.7 L422.2,1471.3 L422.6,1471.9 L423.0,1472.5 L423.3,1473.0 L423.7,1473.6 L424.1,1474.2 L424.5,1474.8 L424.8,1475.4 L425.2,1476.0 L425.6,1476.6 L426.0,1477.1 L426.3,1477.7 L426.7,1478.3 L427.1,1478.9 L427.5,1479.4 L427.9,1480.0 L428.2,1480.5 L428.6,1481.1 L429.0,1481.6 L429.4,1482.1 L429.7,1482.7 L430.1,1483.2 L430.5,1483.7 L430.9,1484.2 L431.3,1484.6 L431.6,1485.1 L432.0,1485.6 L432.4,1486.1 L432.8,1486.6 L433.1,1487.0 L433.5,1487.5 L433.9,1488.0 L434.3,1488.4 L434.6,1488.9 L435.0,1489.3 L435.4,1489.8 L435.8,1490.2 L436.2,1490.7 L436.5,1491.1 L436.9,1491.5 L437.3,1492.0 L437.7,1492.4 L438.0,1492.8 L438.4,1493.3 L438.8,1493.7 L439.2,1494.1 L439.6,1494.5 L439.9,1494.9 L440.3,1495.3 L440.7,1495.7 L441.1,1496.2 L441.4,1496.6 L441.8,1497.0 L442.2,1497.4 L442.6,1497.8 L442.9,1498.2 L443.3,1498.6 L443.7,1499.0 L444.1,1499.4 L444.5,1499.8 L444.8,1500.2 L445.2,1500.6 L445.6,1500.9 L446.0,1501.3 L446.3,1501.7 L446.7,1502.0 L447.1,1502.4 L447.5,1502.8 L447.9,1503.1 L448.2,1503.5 L448.6,1503.8 L449.0,1504.1 L449.4,1504.5 L449.7,1504.8 L450.1,1505.1 L450.5,1505.4 L450.9,1505.7 L451.3,1506.0 L451.6,1506.3 L452.0,1506.6 L452.4,1506.9 L452.8,1507.1 L453.1,1507.4 L453.5,1507.7 L453.9,1507.9 L454.3,1508.2 L454.6,1508.5 L455.0,1508.7 L455.4,1509.0 L455.8,1509.2 L456.2,1509.5 L456.5,1509.7 L456.9,1510.0 L457.3,1510.2 L457.7,1510.5 L458.0,1510.7 L458.4,1511.0 L458.8,1511.2 L459.2,1511.5 L459.6,1511.7 L459.9,1512.0 L460.3,1512.2 L460.7,1512.5 L461.1,1512.7 L461.4,1512.9 L461.8,1513.2 L462.2,1513.4 L462.6,1513.7 L462.9,1513.9 L463.3,1514.2 L463.7,1514.4 L464.1,1514.6 L464.5,1514.9 L464.8,1515.1 L465.2,1515.4 L465.6,1515.6 L466.0,1515.8 L466.3,1516.1 L466.7,1516.3 L467.1,1516.5 L467.5,1516.8 L467.9,1517.0 L468.2,1517.2 L468.6,1517.5 L469.0,1517.7 L469.4,1517.9 L469.7,1518.2 L470.1,1518.4 L470.5,1518.6 L470.9,1518.8 L471.2,1519.1 L471.6,1519.3 L472.0,1519.5 L472.4,1519.7 L472.8,1520.0 L473.1,1520.2 L473.5,1520.4 L473.9,1520.6 L474.3,1520.9 L474.6,1521.1 L475.0,1521.3 L475.4,1521.5 L475.8,1521.8 L476.2,1522.0 L476.5,1522.2 L476.9,1522.4 L477.3,1522.6 L477.7,1522.8 L478.0,1523.0 L478.4,1523.2 L478.8,1523.4 L479.2,1523.6 L479.6,1523.8 L479.9,1524.0 L480.3,1524.1 L480.7,1524.3 L481.1,1524.5 L481.4,1524.6 L481.8,1524.8 L482.2,1525.0 L482.6,1525.1 L482.9,1525.3 L483.3,1525.4 L483.7,1525.6 L484.1,1525.7 L484.5,1525.9 L484.8,1526.0 L485.2,1526.2 L485.6,1526.3 L486.0,1526.5 L486.3,1526.6 L486.7,1526.8 L487.1,1526.9 L487.5,1527.0 L487.9,1527.2 L488.2,1527.3 L488.6,1527.4 L489.0,1527.6 L489.4,1527.7 L489.7,1527.8 L490.1,1528.0 L490.5,1528.1 L490.9,1528.2 L491.2,1528.4 L491.6,1528.5 L492.0,1528.6 L492.4,1528.8 L492.8,1528.9 L493.1,1529.0 L493.5,1529.1 L493.9,1529.3 L494.3,1529.4 L494.6,1529.5 L495.0,1529.6 L495.4,1529.8 L495.8,1529.9 L496.2,1530.0 L496.5,1530.2 L496.9,1530.3 L497.3,1530.4 L497.7,1530.5 L498.0,1530.7 L498.4,1530.8 L498.8,1530.9 L499.2,1531.0 L499.6,1531.2 L499.9,1531.3 L500.3,1531.4 L500.7,1531.5 L501.1,1531.6 L501.4,1531.8 L501.8,1531.9 L502.2,1532.0 L502.6,1532.1 L502.9,1532.2 L503.3,1532.4 L503.7,1532.5 L504.1,1532.6 L504.5,1532.7 L504.8,1532.8 L505.2,1532.9 L505.6,1533.0 L506.0,1533.2 L506.3,1533.3 L506.7,1533.4 L507.1,1533.5 L507.5,1533.6 L507.9,1533.7 L508.2,1533.8 L508.6,1533.9 L509.0,1534.0 L509.4,1534.1 L509.7,1534.2 L510.1,1534.3 L510.5,1534.4 L510.9,1534.5 L511.2,1534.6 L511.6,1534.7 L512.0,1534.7 L512.4,1534.8 L512.8,1534.9 L513.1,1535.0 L513.5,1535.1 L513.9,1535.2 L514.3,1535.3 L514.6,1535.3 L515.0,1535.4 L515.4,1535.5 L515.8,1535.6 L516.2,1535.7 L516.5,1535.8 L516.9,1535.8 L517.3,1535.9 L517.7,1536.0 L518.0,1536.1 L518.4,1536.1 L518.8,1536.2 L519.2,1536.3 L519.5,1536.4 L519.9,1536.4 L520.3,1536.5 L520.7,1536.6 L521.1,1536.7 L521.4,1536.7 L521.8,1536.8 L522.2,1536.9 L522.6,1537.0 L522.9,1537.0 L523.3,1537.1 L523.7,1537.2 L524.1,1537.2 L524.5,1537.3 L524.8,1537.4 L525.2,1537.4 L525.6,1537.5 L526.0,1537.6 L526.3,1537.6 L526.7,1537.7 L527.1,1537.8 L527.5,1537.8 L527.9,1537.9 L528.2,1537.9 L528.6,1538.0 L529.0,1538.1 L529.4,1538.1 L529.7,1538.2 L530.1,1538.2 L530.5,1538.3 L530.9,1538.4 L531.2,1538.4 L531.6,1538.5 L532.0,1538.5 L532.4,1538.6 L532.8,1538.7 L533.1,1538.7 L533.5,1538.8 L533.9,1538.8 L534.3,1538.9 L534.6,1538.9 L535.0,1539.0 L535.4,1539.0 L535.8,1539.1 L536.2,1539.2 L536.5,1539.2 L536.9,1539.3 L537.3,1539.3 L537.7,1539.4 L538.0,1539.4 L538.4,1539.5 L538.8,1539.5 L539.2,1539.6 L539.5,1539.6 L539.9,1539.7 L540.3,1539.7 L540.7,1539.8 L541.1,1539.8 L541.4,1539.9 L541.8,1539.9 L542.2,1540.0 L542.6,1540.0 L542.9,1540.1 L543.3,1540.1 L543.7,1540.1 L544.1,1540.2 L544.5,1540.2 L544.8,1540.3 L545.2,1540.3 L545.6,1540.4 L546.0,1540.4 L546.3,1540.5 L546.7,1540.5 L547.1,1540.5 L547.5,1540.6 L547.9,1540.6 L548.2,1540.7 L548.6,1540.7 L549.0,1540.8 L549.4,1540.8 L549.7,1540.8 L550.1,1540.9 L550.5,1540.9 L550.9,1541.0 L551.2,1541.0 L551.6,1541.0 L552.0,1541.1 L552.4,1541.1 L552.8,1541.2 L553.1,1541.2 L553.5,1541.2 L553.9,1541.3 L554.3,1541.3 L554.6,1541.4 L555.0,1541.4 L555.4,1541.4 L555.8,1541.5 L556.2,1541.5 L556.5,1541.5 L556.9,1541.6 L557.3,1541.6 L557.7,1541.7 L558.0,1541.7 L558.4,1541.7 L558.8,1541.8 L559.2,1541.8 L559.5,1541.8 L559.9,1541.9 L560.3,1541.9 L560.7,1541.9 L561.1,1542.0 L561.4,1542.0 L561.8,1542.0 L562.2,1542.0 L562.6,1542.1 L562.9,1542.1 L563.3,1542.1 L563.7,1542.2 L564.1,1542.2 L564.5,1542.2 L564.8,1542.2 L565.2,1542.3 L565.6,1542.3 L566.0,1542.3 L566.3,1542.4 L566.7,1542.4 L567.1,1542.4 L567.5,1542.4 L567.9,1542.5 L568.2,1542.5 L568.6,1542.5 L569.0,1542.6 L569.4,1542.6 L569.7,1542.6 L570.1,1542.6 L570.5,1542.7 L570.9,1542.7 L571.2,1542.7 L571.6,1542.7 L572.0,1542.8 L572.4,1542.8 L572.8,1542.8 L573.1,1542.8 L573.5,1542.9 L573.9,1542.9 L574.3,1542.9 L574.6,1542.9 L575.0,1543.0 L575.4,1543.0 L575.8,1543.0 L576.2,1543.0 L576.5,1543.1 L576.9,1543.1 L577.3,1543.1 L577.7,1543.1 L578.0,1543.2 L578.4,1543.2 L578.8,1543.2 L579.2,1543.2 L579.5,1543.3 L579.9,1543.3 L580.3,1543.3 L580.7,1543.3 L581.1,1543.3 L581.4,1543.4 L581.8,1543.4 L582.2,1543.4 L582.6,1543.4 L582.9,1543.5 L583.3,1543.5 L583.7,1543.5 L584.1,1543.5 L584.5,1543.5 L584.8,1543.6 L585.2,1543.6 L585.6,1543.6 L586.0,1543.6 L586.3,1543.7 L586.7,1543.7 L587.1,1543.7 L587.5,1543.7 L587.8,1543.7 L588.2,1543.8 L588.6,1543.8 L589.0,1543.8 L589.4,1543.8 L589.7,1543.8 L590.1,1543.9 L590.5,1543.9 L590.9,1543.9 L591.2,1543.9 L591.6,1543.9 L592.0,1544.0 L592.4,1544.0 L592.8,1544.0 L593.1,1544.0 L593.5,1544.0 L593.9,1544.0 L594.3,1544.1 L594.6,1544.1 L595.0,1544.1 L595.4,1544.1 L595.8,1544.1 L596.2,1544.2 L596.5,1544.2 L596.9,1544.2 L597.3,1544.2 L597.7,1544.2 L598.0,1544.2 L598.4,1544.3 L598.8,1544.3 L599.2,1544.3 L599.5,1544.3 L599.9,1544.3 L600.3,1544.3 L600.7,1544.4 L601.1,1544.4 L601.4,1544.4 L601.8,1544.4 L602.2,1544.4 L602.6,1544.4 L602.9,1544.5 L603.3,1544.5 L603.7,1544.5 L604.1,1544.5 L604.5,1544.5 L604.8,1544.5 L605.2,1544.6 L605.6,1544.6 L606.0,1544.6 L606.3,1544.6 L606.7,1544.6 L607.1,1544.6 L607.5,1544.7 L607.8,1544.7 L608.2,1544.7 L608.6,1544.7 L609.0,1544.7 L609.4,1544.7 L609.7,1544.7 L610.1,1544.8 L610.5,1544.8 L610.9,1544.8 L611.2,1544.8 L611.6,1544.8 L612.0,1544.8 L612.4,1544.8 L612.8,1544.9 L613.1,1544.9 L613.5,1544.9 L613.9,1544.9 L614.3,1544.9 L614.6,1544.9 L615.0,1544.9 L615.4,1545.0 L615.8,1545.0 L616.1,1545.0 L616.5,1545.0 L616.9,1545.0 L617.3,1545.0 L617.7,1545.0 L618.0,1545.1 L618.4,1545.1 L618.8,1545.1 L619.2,1545.1 L619.5,1545.1 L619.9,1545.1 L620.3,1545.1 L620.7,1545.1 L621.1,1545.2 L621.4,1545.2 L621.8,1545.2 L622.2,1545.2 L622.6,1545.2 L622.9,1545.2 L623.3,1545.2 L623.7,1545.2 L624.1,1545.3 L624.5,1545.3 L624.8,1545.3 L625.2,1545.3 L625.6,1545.3 L626.0,1545.3 L626.3,1545.3 L626.7,1545.3 L627.1,1545.4 L627.5,1545.4 L627.8,1545.4 L628.2,1545.4 L628.6,1545.4 L629.0,1545.4 L629.4,1545.4 L629.7,1545.4 L630.1,1545.5 L630.5,1545.5 L630.9,1545.5 L631.2,1545.5 L631.6,1545.5 L632.0,1545.5 L632.4,1545.5 L632.8,1545.5 L633.1,1545.6 L633.5,1545.6 L633.9,1545.6 L634.3,1545.6 L634.6,1545.6 L635.0,1545.6 L635.4,1545.6 L635.8,1545.6 L636.1,1545.6 L636.5,1545.7 L636.9,1545.7 L637.3,1545.7 L637.7,1545.7 L638.0,1545.7 L638.4,1545.7 L638.8,1545.7 L639.2,1545.7 L639.5,1545.7 L639.9,1545.8 L640.3,1545.8 L640.7,1545.8 L641.1,1545.8 L641.4,1545.8 L641.8,1545.8 L642.2,1545.8 L642.6,1545.8 L642.9,1545.8 L643.3,1545.9 L643.7,1545.9 L644.1,1545.9 L644.5,1545.9 L644.8,1545.9 L645.2,1545.9 L645.6,1545.9 L646.0,1545.9 L646.3,1545.9 L646.7,1545.9 L647.1,1546.0 L647.5,1546.0 L647.8,1546.0 L648.2,1546.0 L648.6,1546.0 L649.0,1546.0 L649.4,1546.0 L649.7,1546.0 L650.1,1546.0 L650.5,1546.1 L650.9,1546.1 L651.2,1546.1 L651.6,1546.1 L652.0,1546.1 L652.4,1546.1 L652.8,1546.1 L653.1,1546.1 L653.5,1546.1 L653.9,1546.1 L654.3,1546.2 L654.6,1546.2 L655.0,1546.2 L655.4,1546.2 L655.8,1546.2 L656.1,1546.2 L656.5,1546.2 L656.9,1546.2 L657.3,1546.2 L657.7,1546.2 L658.0,1546.2 L658.4,1546.3 L658.8,1546.3 L659.2,1546.3 L659.5,1546.3 L659.9,1546.3 L660.3,1546.3 L660.7,1546.3 L661.1,1546.3 L661.4,1546.3 L661.8,1546.3 L662.2,1546.4 L662.6,1546.4 L662.9,1546.4 L663.3,1546.4 L663.7,1546.4 L664.1,1546.4 L664.5,1546.4 L664.8,1546.4 L665.2,1546.4 L665.6,1546.4 L666.0,1546.5 L666.3,1546.5 L666.7,1546.5 L667.1,1546.5 L667.5,1546.5 L667.8,1546.5 L668.2,1546.5 L668.6,1546.5 L669.0,1546.5 L669.4,1546.5 L669.7,1546.5 L670.1,1546.6 L670.5,1546.6 L670.9,1546.6 L671.2,1546.6 L671.6,1546.6 L672.0,1546.6 L672.4,1546.6 L672.8,1546.6 L673.1,1546.6 L673.5,1546.6 L673.9,1546.7 L674.3,1546.7 L674.6,1546.7 L675.0,1546.7 L675.4,1546.7 L675.8,1546.7 L676.1,1546.7 L676.5,1546.7 L676.9,1546.7 L677.3,1546.7 L677.7,1546.7 L678.0,1546.8 L678.4,1546.8 L678.8,1546.8 L679.2,1546.8 L679.5,1546.8 L679.9,1546.8 L680.3,1546.8 L680.7,1546.8 L681.1,1546.8 L681.4,1546.8 L681.8,1546.8 L682.2,1546.9 L682.6,1546.9 L682.9,1546.9 L683.3,1546.9 L683.7,1546.9 L684.1,1546.9 L684.4,1546.9 L684.8,1546.9 L685.2,1546.9 L685.6,1546.9 L686.0,1546.9 L686.3,1546.9 L686.7,1547.0 L687.1,1547.0 L687.5,1547.0 L687.8,1547.0 L688.2,1547.0 L688.6,1547.0" stroke="#000000"/>
  <path d="M84.8,1367.5 L85.2,1369.3 L85.6,1370.6 L86.0,1371.7 L86.4,1372.8 L86.7,1373.8 L87.1,1374.7 L87.5,1375.5 L87.9,1376.1 L88.2,1376.7 L88.6,1377.1 L89.0,1377.3 L89.4,1377.4 L89.8,1377.4 L90.1,1377.2 L90.5,1377.0 L90.9,1376.7 L91.3,1376.3 L91.6,1375.9 L92.0,1375.4 L92.4,1374.9 L92.8,1374.4 L93.2,1373.9 L93.5,1373.3 L93.9,1372.8 L94.3,1372.2 L94.7,1371.5 L95.0,1370.8 L95.4,1370.0 L95.8,1369.2 L96.2,1368.4 L96.5,1367.5 L96.9,1366.7 L97.3,1365.9 L97.7,1365.0 L98.1,1364.1 L98.4,1363.1 L98.8,1362.2 L99.2,1361.2 L99.6,1360.2 L99.9,1359.2 L100.3,1358.2 L100.7,1357.1 L101.1,1356.1 L101.5,1355.1 L101.8,1354.2 L102.2,1353.2 L102.6,1352.3 L103.0,1351.4 L103.3,1350.5 L103.7,1349.7 L104.1,1348.9 L104.5,1348.2 L104.8,1347.5 L105.2,1346.8 L105.6,1346.1 L106.0,1345.5 L106.4,1344.9 L106.7,1344.3 L107.1,1343.7 L107.5,1343.1 L107.9,1342.5 L108.2,1341.9 L108.6,1341.3 L109.0,1340.6 L109.4,1340.0 L109.8,1339.3 L110.1,1338.7 L110.5,1337.9 L110.9,1337.2 L111.3,1336.4 L111.6,1335.6 L112.0,1334.8 L112.4,1334.0 L112.8,1333.2 L113.2,1332.3 L113.5,1331.5 L113.9,1330.7 L114.3,1329.9 L114.7,1329.1 L115.0,1328.4 L115.4,1327.6 L115.8,1326.9 L116.2,1326.3 L116.5,1325.6 L116.9,1325.1 L117.3,1324.5 L117.7,1324.0 L118.1,1323.5 L118.4,1323.0 L118.8,1322.6 L119.2,1322.1 L119.6,1321.7 L119.9,1321.3 L120.3,1320.9 L120.7,1320.4 L121.1,1320.0 L121.5,1319.6 L121.8,1319.2 L122.2,1318.8 L122.6,1318.5 L123.0,1318.1 L123.3,1317.7 L123.7,1317.4 L124.1,1317.0 L124.5,1316.7 L124.8,1316.3 L125.2,1315.9 L125.6,1315.6 L126.0,1315.2 L126.4,1314.8 L126.7,1314.4 L127.1,1314.0 L127.5,1313.5 L127.9,1313.0 L128.2,1312.5 L128.6,1312.0 L129.0,1311.5 L129.4,1311.0 L129.8,1310.6 L130.1,1310.3 L130.5,1310.0 L130.9,1309.8 L131.3,1309.7 L131.6,1309.7 L132.0,1309.8 L132.4,1309.9 L132.8,1310.0 L133.1,1310.1 L133.5,1310.3 L133.9,1310.4 L134.3,1310.6 L134.7,1310.7 L135.0,1310.8 L135.4,1310.9 L135.8,1310.9 L136.2,1310.9 L136.5,1310.9 L136.9,1310.9 L137.3,1310.9 L137.7,1310.9 L138.1,1310.9 L138.4,1310.9 L138.8,1310.9 L139.2,1310.9 L139.6,1310.8 L139.9,1310.7 L140.3,1310.4 L140.7,1310.1 L141.1,1309.7 L141.5,1309.2 L141.8,1308.7 L142.2,1308.2 L142.6,1307.6 L143.0,1307.0 L143.3,1306.4 L143.7,1305.7 L144.1,1304.7 L144.5,1303.5 L144.8,1302.1 L145.2,1300.7 L145.6,1299.2 L146.0,1297.7 L146.4,1296.2 L146.7,1294.8 L147.1,1293.6 L147.5,1292.3 L147.9,1290.9 L148.2,1289.5 L148.6,1288.2 L149.0,1286.9 L149.4,1285.8 L149.8,1284.9 L150.1,1284.2 L150.5,1283.8 L150.9,1283.4 L151.3,1283.0 L151.6,1282.7 L152.0,1282.4 L152.4,1282.2 L152.8,1282.0 L153.1,1281.9 L153.5,1281.9 L153.9,1282.1 L154.3,1282.4 L154.7,1282.9 L155.0,1283.5 L155.4,1284.1 L155.8,1284.9 L156.2,1285.6 L156.5,1286.4 L156.9,1287.1 L157.3,1287.8 L157.7,1288.5 L158.1,1289.3 L158.4,1290.2 L158.8,1291.1 L159.2,1292.0 L159.6,1292.9 L159.9,1293.9 L160.3,1294.7 L160.7,1295.5 L161.1,1296.3 L161.5,1297.0 L161.8,1297.6 L162.2,1298.3 L162.6,1298.9 L163.0,1299.6 L163.3,1300.2 L163.7,1300.7 L164.1,1301.3 L164.5,1301.8 L164.8,1302.2 L165.2,1302.5 L165.6,1302.8 L166.0,1303.1 L166.4,1303.3 L166.7,1303.5 L167.1,1303.7 L167.5,1303.9 L167.9,1304.1 L168.2,1304.2 L168.6,1304.4 L169.0,1304.5 L169.4,1304.6 L169.8,1304.6 L170.1,1304.6 L170.5,1304.6 L170.9,1304.5 L171.3,1304.4 L171.6,1304.2 L172.0,1304.1 L172.4,1303.9 L172.8,1303.7 L173.1,1303.5 L173.5,1303.3 L173.9,1303.1 L174.3,1302.9 L174.7,1302.7 L175.0,1302.4 L175.4,1302.1 L175.8,1301.7 L176.2,1301.3 L176.5,1301.0 L176.9,1300.6 L177.3,1300.3 L177.7,1300.1 L178.1,1299.9 L178.4,1299.8 L178.8,1299.8 L179.2,1299.8 L179.6,1299.9 L179.9,1300.0 L180.3,1300.1 L180.7,1300.3 L181.1,1300.4 L181.4,1300.6 L181.8,1300.7 L182.2,1300.8 L182.6,1300.9 L183.0,1301.0 L183.3,1301.1 L183.7,1301.1 L184.1,1301.0 L184.5,1300.8 L184.8,1300.4 L185.2,1299.9 L185.6,1299.3 L186.0,1298.7 L186.4,1298.0 L186.7,1297.3 L187.1,1296.6 L187.5,1295.9 L187.9,1295.3 L188.2,1294.7 L188.6,1294.1 L189.0,1293.5 L189.4,1292.8 L189.8,1292.2 L190.1,1291.5 L190.5,1290.8 L190.9,1290.1 L191.3,1289.5 L191.6,1288.8 L192.0,1288.2 L192.4,1287.6 L192.8,1287.1 L193.1,1286.5 L193.5,1286.1 L193.9,1285.6 L194.3,1285.1 L194.7,1284.7 L195.0,1284.3 L195.4,1283.9 L195.8,1283.5 L196.2,1283.1 L196.5,1282.8 L196.9,1282.4 L197.3,1282.0 L197.7,1281.7 L198.1,1281.3 L198.4,1280.9 L198.8,1280.5 L199.2,1280.1 L199.6,1279.7 L199.9,1279.3 L200.3,1278.9 L200.7,1278.4 L201.1,1278.0 L201.4,1277.6 L201.8,1277.1 L202.2,1276.6 L202.6,1276.2 L203.0,1275.7 L203.3,1275.3 L203.7,1274.8 L204.1,1274.3 L204.5,1273.8 L204.8,1273.3 L205.2,1272.9 L205.6,1272.4 L206.0,1271.8 L206.4,1271.3 L206.7,1270.8 L207.1,1270.3 L207.5,1269.8 L207.9,1269.2 L208.2,1268.7 L208.6,1268.1 L209.0,1267.5 L209.4,1267.0 L209.8,1266.4 L210.1,1265.8 L210.5,1265.2 L210.9,1264.6 L211.3,1264.0 L211.6,1263.4 L212.0,1262.8 L212.4,1262.1 L212.8,1261.5 L213.1,1260.9 L213.5,1260.3 L213.9,1259.6 L214.3,1259.0 L214.7,1258.4 L215.0,1257.7 L215.4,1257.1 L215.8,1256.5 L216.2,1255.8 L216.5,1255.2 L216.9,1254.5 L217.3,1253.9 L217.7,1253.2 L218.1,1252.5 L218.4,1251.9 L218.8,1251.2 L219.2,1250.5 L219.6,1249.9 L219.9,1249.2 L220.3,1248.5 L220.7,1247.8 L221.1,1247.1 L221.4,1246.4 L221.8,1245.7 L222.2,1245.0 L222.6,1244.3 L223.0,1243.6 L223.3,1242.9 L223.7,1242.2 L224.1,1241.5 L224.5,1240.8 L224.8,1240.1 L225.2,1239.3 L225.6,1238.6 L226.0,1237.9 L226.4,1237.2 L226.7,1236.5 L227.1,1235.7 L227.5,1235.0 L227.9,1234.3 L228.2,1233.5 L228.6,1232.7 L229.0,1232.0 L229.4,1231.2 L229.8,1230.4 L230.1,1229.6 L230.5,1228.7 L230.9,1227.9 L231.3,1227.0 L231.6,1226.1 L232.0,1225.2 L232.4,1224.3 L232.8,1223.3 L233.1,1222.3 L233.5,1221.3 L233.9,1220.2 L234.3,1219.2 L234.7,1218.2 L235.0,1217.1 L235.4,1216.1 L235.8,1215.1 L236.2,1214.1 L236.5,1213.1 L236.9,1212.0 L237.3,1211.0 L237.7,1210.0 L238.1,1208.9 L238.4,1207.9 L238.8,1206.8 L239.2,1205.8 L239.6,1204.8 L239.9,1203.8 L240.3,1202.8 L240.7,1201.8 L241.1,1200.8 L241.4,1199.9 L241.8,1199.0 L242.2,1198.1 L242.6,1197.1 L243.0,1196.3 L243.3,1195.4 L243.7,1194.5 L244.1,1193.6 L244.5,1192.8 L244.8,1191.9 L245.2,1191.1 L245.6,1190.2 L246.0,1189.4 L246.4,1188.6 L246.7,1187.8 L247.1,1187.0 L247.5,1186.2 L247.9,1185.5 L248.2,1184.7 L248.6,1184.0 L249.0,1183.3 L249.4,1182.6 L249.7,1181.9 L250.1,1181.2 L250.5,1180.6 L250.9,1180.0 L251.3,1179.3 L251.6,1178.7 L252.0,1178.1 L252.4,1177.4 L252.8,1176.8 L253.1,1176.1 L253.5,1175.5 L253.9,1174.8 L254.3,1174.2 L254.7,1173.5 L255.0,1172.7 L255.4,1172.0 L255.8,1171.2 L256.2,1170.3 L256.5,1169.5 L256.9,1168.6 L257.3,1167.7 L257.7,1166.8 L258.1,1165.9 L258.4,1165.1 L258.8,1164.2 L259.2,1163.4 L259.6,1162.7 L259.9,1162.0 L260.3,1161.4 L260.7,1160.8 L261.1,1160.2 L261.4,1159.7 L261.8,1159.1 L262.2,1158.6 L262.6,1158.2 L263.0,1157.8 L263.3,1157.4 L263.7,1157.1 L264.1,1156.8 L264.5,1156.5 L264.8,1156.3 L265.2,1156.0 L265.6,1155.8 L266.0,1155.6 L266.4,1155.4 L266.7,1155.2 L267.1,1155.0 L267.5,1154.8 L267.9,1154.6 L268.2,1154.4 L268.6,1154.2 L269.0,1154.1 L269.4,1153.9 L269.7,1153.8 L270.1,1153.6 L270.5,1153.5 L270.9,1153.4 L271.3,1153.2 L271.6,1153.1 L272.0,1153.0 L272.4,1152.9 L272.8,1152.8 L273.1,1152.6 L273.5,1152.5 L273.9,1152.4 L274.3,1152.3 L274.7,1152.2 L275.0,1152.0 L275.4,1151.9 L275.8,1151.8 L276.2,1151.7 L276.5,1151.6 L276.9,1151.5 L277.3,1151.4 L277.7,1151.3 L278.0,1151.2 L278.4,1151.1 L278.8,1151.0 L279.2,1151.0 L279.6,1150.9 L279.9,1150.8 L280.3,1150.8 L280.7,1150.7 L281.1,1150.7 L281.4,1150.6 L281.8,1150.6 L282.2,1150.6 L282.6,1150.6 L283.0,1150.6 L283.3,1150.6 L283.7,1150.6 L284.1,1150.6 L284.5,1150.6 L284.8,1150.6 L285.2,1150.6 L285.6,1150.6 L286.0,1150.6 L286.4,1150.6 L286.7,1150.6 L287.1,1150.6 L287.5,1150.6 L287.9,1150.6 L288.2,1150.6 L288.6,1150.7 L289.0,1150.8 L289.4,1150.9 L289.7,1151.1 L290.1,1151.3 L290.5,1151.5 L290.9,1151.7 L291.3,1151.9 L291.6,1152.1 L292.0,1152.3 L292.4,1152.5 L292.8,1152.8 L293.1,1153.2 L293.5,1153.5 L293.9,1153.9 L294.3,1154.4 L294.7,1154.8 L295.0,1155.3 L295.4,1155.8 L295.8,1156.4 L296.2,1156.9 L296.5,1157.5 L296.9,1158.0 L297.3,1158.6 L297.7,1159.2 L298.0,1159.8 L298.4,1160.4 L298.8,1161.0 L299.2,1161.5 L299.6,1162.1 L299.9,1162.6 L300.3,1163.2 L300.7,1163.8 L301.1,1164.4 L301.4,1165.0 L301.8,1165.6 L302.2,1166.2 L302.6,1166.8 L303.0,1167.5 L303.3,1168.1 L303.7,1168.8 L304.1,1169.4 L304.5,1170.1 L304.8,1170.8 L305.2,1171.5 L305.6,1172.2 L306.0,1173.0 L306.4,1173.7 L306.7,1174.5 L307.1,1175.3 L307.5,1176.1 L307.9,1176.9 L308.2,1177.7 L308.6,1178.4 L309.0,1179.2 L309.4,1179.9 L309.7,1180.6 L310.1,1181.3 L310.5,1182.0 L310.9,1182.6 L311.3,1183.3 L311.6,1183.9 L312.0,1184.5 L312.4,1185.1 L312.8,1185.7 L313.1,1186.2 L313.5,1186.8 L313.9,1187.4 L314.3,1188.0 L314.7,1188.6 L315.0,1189.2 L315.4,1189.8 L315.8,1190.4 L316.2,1191.0 L316.5,1191.6 L316.9,1192.3 L317.3,1192.9 L317.7,1193.6 L318.0,1194.3 L318.4,1195.0 L318.8,1195.7 L319.2,1196.4 L319.6,1197.1 L319.9,1197.8 L320.3,1198.5 L320.7,1199.3 L321.1,1200.0 L321.4,1200.7 L321.8,1201.5 L322.2,1202.2 L322.6,1203.0 L323.0,1203.8 L323.3,1204.6 L323.7,1205.4 L324.1,1206.2 L324.5,1207.0 L324.8,1207.8 L325.2,1208.6 L325.6,1209.5 L326.0,1210.3 L326.4,1211.2 L326.7,1212.1 L327.1,1213.0 L327.5,1213.9 L327.9,1214.8 L328.2,1215.7 L328.6,1216.7 L329.0,1217.7 L329.4,1218.6 L329.7,1219.6 L330.1,1220.6 L330.5,1221.6 L330.9,1222.6 L331.3,1223.6 L331.6,1224.7 L332.0,1225.7 L332.4,1226.7 L332.8,1227.8 L333.1,1228.8 L333.5,1229.8 L333.9,1230.9 L334.3,1231.9 L334.7,1233.0 L335.0,1234.0 L335.4,1235.1 L335.8,1236.2 L336.2,1237.3 L336.5,1238.3 L336.9,1239.4 L337.3,1240.5 L337.7,1241.6 L338.0,1242.8 L338.4,1243.9 L338.8,1245.0 L339.2,1246.1 L339.6,1247.3 L339.9,1248.4 L340.3,1249.6 L340.7,1250.7 L341.1,1251.9 L341.4,1253.1 L341.8,1254.3 L342.2,1255.5 L342.6,1256.7 L343.0,1257.9 L343.3,1259.1 L343.7,1260.3 L344.1,1261.6 L344.5,1262.8 L344.8,1264.1 L345.2,1265.4 L345.6,1266.7 L346.0,1268.0 L346.3,1269.4 L346.7,1270.7 L347.1,1272.0 L347.5,1273.4 L347.9,1274.7 L348.2,1276.0 L348.6,1277.3 L349.0,1278.7 L349.4,1280.0 L349.7,1281.3 L350.1,1282.6 L350.5,1283.9 L350.9,1285.2 L351.3,1286.4 L351.6,1287.7 L352.0,1288.9 L352.4,1290.1 L352.8,1291.4 L353.1,1292.6 L353.5,1293.8 L353.9,1295.0 L354.3,1296.2 L354.7,1297.4 L355.0,1298.6 L355.4,1299.8 L355.8,1301.0 L356.2,1302.2 L356.5,1303.4 L356.9,1304.6 L357.3,1305.7 L357.7,1306.9 L358.0,1308.1 L358.4,1309.3 L358.8,1310.5 L359.2,1311.7 L359.6,1312.9 L359.9,1314.1 L360.3,1315.3 L360.7,1316.5 L361.1,1317.7 L361.4,1318.9 L361.8,1320.1 L362.2,1321.3 L362.6,1322.5 L363.0,1323.8 L363.3,1325.0 L363.7,1326.2 L364.1,1327.4 L364.5,1328.6 L364.8,1329.8 L365.2,1331.0 L365.6,1332.2 L366.0,1333.4 L366.3,1334.6 L366.7,1335.8 L367.1,1337.0 L367.5,1338.2 L367.9,1339.4 L368.2,1340.6 L368.6,1341.7 L369.0,1342.9 L369.4,1344.1 L369.7,1345.2 L370.1,1346.3 L370.5,1347.5 L370.9,1348.6 L371.3,1349.7 L371.6,1350.8 L372.0,1352.0 L372.4,1353.1 L372.8,1354.2 L373.1,1355.3 L373.5,1356.4 L373.9,1357.6 L374.3,1358.7 L374.7,1359.8 L375.0,1361.0 L375.4,1362.1 L375.8,1363.3 L376.2,1364.4 L376.5,1365.6 L376.9,1366.8 L377.3,1368.0 L377.7,1369.2 L378.0,1370.5 L378.4,1371.7 L378.8,1373.0 L379.2,1374.3 L379.6,1375.6 L379.9,1376.9 L380.3,1378.2 L380.7,1379.5 L381.1,1380.8 L381.4,1382.1 L381.8,1383.4 L382.2,1384.7 L382.6,1386.0 L383.0,1387.3 L383.3,1388.5 L383.7,1389.8 L384.1,1391.0 L384.5,1392.3 L384.8,1393.5 L385.2,1394.7 L385.6,1395.9 L386.0,1397.1 L386.3,1398.3 L386.7,1399.5 L387.1,1400.6 L387.5,1401.8 L387.9,1403.0 L388.2,1404.1 L388.6,1405.3 L389.0,1406.4 L389.4,1407.6 L389.7,1408.7 L390.1,1409.8 L390.5,1410.9 L390.9,1411.9 L391.3,1413.0 L391.6,1414.0 L392.0,1415.0 L392.4,1416.0 L392.8,1417.0 L393.1,1418.0 L393.5,1418.9 L393.9,1419.9 L394.3,1420.8 L394.6,1421.7 L395.0,1422.7 L395.4,1423.6 L395.8,1424.5 L396.2,1425.4 L396.5,1426.2 L396.9,1427.1 L397.3,1428.0 L397.7,1428.8 L398.0,1429.7 L398.4,1430.5 L398.8,1431.4 L399.2,1432.2 L399.6,1433.0 L399.9,1433.9 L400.3,1434.7 L400.7,1435.5 L401.1,1436.3 L401.4,1437.1 L401.8,1438.0 L402.2,1438.8 L402.6,1439.6 L403.0,1440.4 L403.3,1441.2 L403.7,1442.0 L404.1,1442.8 L404.5,1443.6 L404.8,1444.3 L405.2,1445.1 L405.6,1445.9 L406.0,1446.6 L406.3,1447.4 L406.7,1448.1 L407.1,1448.8 L407.5,1449.5 L407.9,1450.2 L408.2,1450.9 L408.6,1451.6 L409.0,1452.3 L409.4,1452.9 L409.7,1453.6 L410.1,1454.2 L410.5,1454.8 L410.9,1455.4 L411.3,1456.0 L411.6,1456.6 L412.0,1457.1 L412.4,1457.7 L412.8,1458.2 L413.1,1458.7 L413.5,1459.2 L413.9,1459.8 L414.3,1460.3 L414.6,1460.8 L415.0,1461.3 L415.4,1461.8 L415.8,1462.3 L416.2,1462.8 L416.5,1463.3 L416.9,1463.8 L417.3,1464.3 L417.7,1464.8 L418.0,1465.3 L418.4,1465.8 L418.8,1466.3 L419.2,1466.8 L419.6,1467.4 L419.9,1467.9 L420.3,1468.4 L420.7,1469.0 L421.1,1469.6 L421.4,1470.1 L421.8,1470.7 L422.2,1471.3 L422.6,1471.9 L423.0,1472.5 L423.3,1473.0 L423.7,1473.6 L424.1,1474.2 L424.5,1474.8 L424.8,1475.4 L425.2,1476.0 L425.6,1476.6 L426.0,1477.1 L426.3,1477.7 L426.7,1478.3 L427.1,1478.9 L427.5,1479.4 L427.9,1480.0 L428.2,1480.5 L428.6,1481.1 L429.0,1481.6 L429.4,1482.1 L429.7,1482.7 L430.1,1483.2 L430.5,1483.7 L430.9,1484.2 L431.3,1484.6 L431.6,1485.1 L432.0,1485.6 L432.4,1486.1 L432.8,1486.6 L433.1,1487.0 L433.5,1487.5 L433.9,1488.0 L434.3,1488.4 L434.6,1488.9 L435.0,1489.3 L435.4,1489.8 L435.8,1490.2 L436.2,1490.7 L436.5,1491.1 L436.9,1491.5 L437.3,1492.0 L437.7,1492.4 L438.0,1492.8 L438.4,1493.3 L438.8,1493.7 L439.2,1494.1 L439.6,1494.5 L439.9,1494.9 L440.3,1495.3 L440.7,1495.7 L441.1,1496.2 L441.4,1496.6 L441.8,1497.0 L442.2,1497.4 L442.6,1497.8 L442.9,1498.2 L443.3,1498.6 L443.7,1499.0 L444.1,1499.4 L444.5,1499.8 L444.8,1500.2 L445.2,1500.6 L445.6,1500.9 L446.0,1501.3 L446.3,1501.7 L446.7,1502.0 L447.1,1502.4 L447.5,1502.8 L447.9,1503.1 L448.2,1503.5 L448.6,1503.8 L449.0,1504.1 L449.4,1504.5 L449.7,1504.8 L450.1,1505.1 L450.5,1505.4 L450.9,1505.7 L451.3,1506.0 L451.6,1506.3 L452.0,1506.6 L452.4,1506.9 L452.8,1507.1 L453.1,1507.4 L453.5,1507.7 L453.9,1507.9 L454.3,1508.2 L454.6,1508.5 L455.0,1508.7 L455.4,1509.0 L455.8,1509.2 L456.2,1509.5 L456.5,1509.7 L456.9,1510.0 L457.3,1510.2 L457.7,1510.5 L458.0,1510.7 L458.4,1511.0 L458.8,1511.2 L459.2,1511.5 L459.6,1511.7 L459.9,1512.0 L460.3,1512.2 L460.7,1512.5 L461.1,1512.7 L461.4,1512.9 L461.8,1513.2 L462.2,1513.4 L462.6,1513.7 L462.9,1513.9 L463.3,1514.2 L463.7,1514.4 L464.1,1514.6 L464.5,1514.9 L464.8,1515.1 L465.2,1515.4 L465.6,1515.6 L466.0,1515.8 L466.3,1516.1 L466.7,1516.3 L467.1,1516.5 L467.5,1516.8 L467.9,1517.0 L468.2,1517.2 L468.6,1517.5 L469.0,1517.7 L469.4,1517.9 L469.7,1518.2 L470.1,1518.4 L470.5,1518.6 L470.9,1518.8 L471.2,1519.1 L471.6,1519.3 L472.0,1519.5 L472.4,1519.7 L472.8,1520.0 L473.1,1520.2 L473.5,1520.4 L473.9,1520.6 L474.3,1520.9 L474.6,1521.1 L475.0,1521.3 L475.4,1521.5 L475.8,1521.8 L476.2,1522.0 L476.5,1522.2 L476.9,1522.4 L477.3,1522.6 L477.7,1522.8 L478.0,1523.0 L478.4,1523.2 L478.8,1523.4 L479.2,1523.6 L479.6,1523.8 L479.9,1524.0 L480.3,1524.1 L480.7,1524.3 L481.1,1524.5 L481.4,1524.6 L481.8,1524.8 L482.2,1525.0 L482.6,1525.1 L482.9,1525.3 L483.3,1525.4 L483.7,1525.6 L484.1,1525.7 L484.5,1525.9 L484.8,1526.0 L485.2,1526.2 L485.6,1526.3 L486.0,1526.5 L486.3,1526.6 L486.7,1526.8 L487.1,1526.9 L487.5,1527.0 L487.9,1527.2 L488.2,1527.3 L488.6,1527.4 L489.0,1527.6 L489.4,1527.7 L489.7,1527.8 L490.1,1528.0 L490.5,1528.1 L490.9,1528.2 L491.2,1528.4 L491.6,1528.5 L492.0,1528.6 L492.4,1528.8 L492.8,1528.9 L493.1,1529.0 L493.5,1529.1 L493.9,1529.3 L494.3,1529.4 L494.6,1529.5 L495.0,1529.6 L495.4,1529.8 L495.8,1529.9 L496.2,1530.0 L496.5,1530.2 L496.9,1530.3 L497.3,1530.4 L497.7,1530.5 L498.0,1530.7 L498.4,1530.8 L498.8,1530.9 L499.2,1531.0 L499.6,1531.2 L499.9,1531.3 L500.3,1531.4 L500.7,1531.5 L501.1,1531.6 L501.4,1531.8 L501.8,1531.9 L502.2,1532.0 L502.6,1532.1 L502.9,1532.2 L503.3,1532.4 L503.7,1532.5 L504.1,1532.6 L504.5,1532.7 L504.8,1532.8 L505.2,1532.9 L505.6,1533.0 L506.0,1533.2 L506.3,1533.3 L506.7,1533.4 L507.1,1533.5 L507.5,1533.6 L507.9,1533.7 L508.2,1533.8 L508.6,1533.9 L509.0,1534.0 L509.4,1534.1 L509.7,1534.2 L510.1,1534.3 L510.5,1534.4 L510.9,1534.5 L511.2,1534.6 L511.6,1534.7 L512.0,1534.7 L512.4,1534.8 L512.8,1534.9 L513.1,1535.0 L513.5,1535.1 L513.9,1535.2 L514.3,1535.3 L514.6,1535.3 L515.0,1535.4 L515.4,1535.5 L515.8,1535.6 L516.2,1535.7 L516.5,1535.8 L516.9,1535.8 L517.3,1535.9 L517.7,1536.0 L518.0,1536.1 L518.4,1536.1 L518.8,1536.2 L519.2,1536.3 L519.5,1536.4 L519.9,1536.4 L520.3,1536.5 L520.7,1536.6 L521.1,1536.7 L521.4,1536.7 L521.8,1536.8 L522.2,1536.9 L522.6,1537.0 L522.9,1537.0 L523.3,1537.1 L523.7,1537.2 L524.1,1537.2 L524.5,1537.3 L524.8,1537.4 L525.2,1537.4 L525.6,1537.5 L526.0,1537.6 L526.3,1537.6 L526.7,1537.7 L527.1,1537.8 L527.5,1537.8 L527.9,1537.9 L528.2,1537.9 L528.6,1538.0 L529.0,1538.1 L529.4,1538.1 L529.7,1538.2 L530.1,1538.2 L530.5,1538.3 L530.9,1538.4 L531.2,1538.4 L531.6,1538.5 L532.0,1538.5 L532.4,1538.6 L532.8,1538.7 L533.1,1538.7 L533.5,1538.8 L533.9,1538.8 L534.3,1538.9 L534.6,1538.9 L535.0,1539.0 L535.4,1539.0 L535.8,1539.1 L536.2,1539.2 L536.5,1539.2 L536.9,1539.3 L537.3,1539.3 L537.7,1539.4 L538.0,1539.4 L538.4,1539.5 L538.8,1539.5 L539.2,1539.6 L539.5,1539.6 L539.9,1539.7 L540.3,1539.7 L540.7,1539.8 L541.1,1539.8 L541.4,1539.9 L541.8,1539.9 L542.2,1540.0 L542.6,1540.0 L542.9,1540.1 L543.3,1540.1 L543.7,1540.1 L544.1,1540.2 L544.5,1540.2 L544.8,1540.3 L545.2,1540.3 L545.6,1540.4 L546.0,1540.4 L546.3,1540.5 L546.7,1540.5 L547.1,1540.5 L547.5,1540.6 L547.9,1540.6 L548.2,1540.7 L548.6,1540.7 L549.0,1540.8 L549.4,1540.8 L549.7,1540.8 L550.1,1540.9 L550.5,1540.9 L550.9,1541.0 L551.2,1541.0 L551.6,1541.0 L552.0,1541.1 L552.4,1541.1 L552.8,1541.2 L553.1,1541.2 L553.5,1541.2 L553.9,1541.3 L554.3,1541.3 L554.6,1541.4 L555.0,1541.4 L555.4,1541.4 L555.8,1541.5 L556.2,1541.5 L556.5,1541.5 L556.9,1541.6 L557.3,1541.6 L557.7,1541.7 L558.0,1541.7 L558.4,1541.7 L558.8,1541.8 L559.2,1541.8 L559.5,1541.8 L559.9,1541.9 L560.3,1541.9 L560.7,1541.9 L561.1,1542.0 L561.4,1542.0 L561.8,1542.0 L562.2,1542.0 L562.6,1542.1 L562.9,1542.1 L563.3,1542.1 L563.7,1542.2 L564.1,1542.2 L564.5,1542.2 L564.8,1542.2 L565.2,1542.3 L565.6,1542.3 L566.0,1542.3 L566.3,1542.4 L566.7,1542.4 L567.1,1542.4 L567.5,1542.4 L567.9,1542.5 L568.2,1542.5 L568.6,1542.5 L569.0,1542.6 L569.4,1542.6 L569.7,1542.6 L570.1,1542.6 L570.5,1542.7 L570.9,1542.7 L571.2,1542.7 L571.6,1542.7 L572.0,1542.8 L572.4,1542.8 L572.8,1542.8 L573.1,1542.8 L573.5,1542.9 L573.9,1542.9 L574.3,1542.9 L574.6,1542.9 L575.0,1543.0 L575.4,1543.0 L575.8,1543.0 L576.2,1543.0 L576.5,1543.1 L576.9,1543.1 L577.3,1543.1 L577.7,1543.1 L578.0,1543.2 L578.4,1543.2 L578.8,1543.2 L579.2,1543.2 L579.5,1543.3 L579.9,1543.3 L580.3,1543.3 L580.7,1543.3 L581.1,1543.3 L581.4,1543.4 L581.8,1543.4 L582.2,1543.4 L582.6,1543.4 L582.9,1543.5 L583.3,1543.5 L583.7,1543.5 L584.1,1543.5 L584.5,1543.5 L584.8,1543.6 L585.2,1543.6 L585.6,1543.6 L586.0,1543.6 L586.3,1543.7 L586.7,1543.7 L587.1,1543.7 L587.5,1543.7 L587.8,1543.7 L588.2,1543.8 L588.6,1543.8 L589.0,1543.8 L589.4,1543.8 L589.7,1543.8 L590.1,1543.9 L590.5,1543.9 L590.9,1543.9 L591.2,1543.9 L591.6,1543.9 L592.0,1544.0 L592.4,1544.0 L592.8,1544.0 L593.1,1544.0 L593.5,1544.0 L593.9,1544.0 L594.3,1544.1 L594.6,1544.1 L595.0,1544.1 L595.4,1544.1 L595.8,1544.1 L596.2,1544.2 L596.5,1544.2 L596.9,1544.2 L597.3,1544.2 L597.7,1544.2 L598.0,1544.2 L598.4,1544.3 L598.8,1544.3 L599.2,1544.3 L599.5,1544.3 L599.9,1544.3 L600.3,1544.3 L600.7,1544.4 L601.1,1544.4 L601.4,1544.4 L601.8,1544.4 L602.2,1544.4 L602.6,1544.4 L602.9,1544.5 L603.3,1544.5 L603.7,1544.5 L604.1,1544.5 L604.5,1544.5 L604.8,1544.5 L605.2,1544.6 L605.6,1544.6 L606.0,1544.6 L606.3,1544.6 L606.7,1544.6 L607.1,1544.6 L607.5,1544.7 L607.8,1544.7 L608.2,1544.7 L608.6,1544.7 L609.0,1544.7 L609.4,1544.7 L609.7,1544.7 L610.1,1544.8 L610.5,1544.8 L610.9,1544.8 L611.2,1544.8 L611.6,1544.8 L612.0,1544.8 L612.4,1544.8 L612.8,1544.9 L613.1,1544.9 L613.5,1544.9 L613.9,1544.9 L614.3,1544.9 L614.6,1544.9 L615.0,1544.9 L615.4,1545.0 L615.8,1545.0 L616.1,1545.0 L616.5,1545.0 L616.9,1545.0 L617.3,1545.0 L617.7,1545.0 L618.0,1545.1 L618.4,1545.1 L618.8,1545.1 L619.2,1545.1 L619.5,1545.1 L619.9,1545.1 L620.3,1545.1 L620.7,1545.1 L621.1,1545.2 L621.4,1545.2 L621.8,1545.2 L622.2,1545.2 L622.6,1545.2 L622.9,1545.2 L623.3,1545.2 L623.7,1545.2 L624.1,1545.3 L624.5,1545.3 L624.8,1545.3 L625.2,1545.3 L625.6,1545.3 L626.0,1545.3 L626.3,1545.3 L626.7,1545.3 L627.1,1545.4 L627.5,1545.4 L627.8,1545.4 L628.2,1545.4 L628.6,1545.4 L629.0,1545.4 L629.4,1545.4 L629.7,1545.4 L630.1,1545.5 L630.5,1545.5 L630.9,1545.5 L631.2,1545.5 L631.6,1545.5 L632.0,1545.5 L632.4,1545.5 L632.8,1545.5 L633.1,1545.6 L633.5,1545.6 L633.9,1545.6 L634.3,1545.6 L634.6,1545.6 L635.0,1545.6 L635.4,1545.6 L635.8,1545.6 L636.1,1545.6 L636.5,1545.7 L636.9,1545.7 L637.3,1545.7 L637.7,1545.7 L638.0,1545.7 L638.4,1545.7 L638.8,1545.7 L639.2,1545.7 L639.5,1545.7 L639.9,1545.8 L640.3,1545.8 L640.7,1545.8 L641.1,1545.8 L641.4,1545.8 L641.8,1545.8 L642.2,1545.8 L642.6,1545.8 L642.9,1545.8 L643.3,1545.9 L643.7,1545.9 L644.1,1545.9 L644.5,1545.9 L644.8,1545.9 L645.2,1545.9 L645.6,1545.9 L646.0,1545.9 L646.3,1545.9 L646.7,1545.9 L647.1,1546.0 L647.5,1546.0 L647.8,1546.0 L648.2,1546.0 L648.6,1546.0 L649.0,1546.0 L649.4,1546.0 L649.7,1546.0 L650.1,1546.0 L650.5,1546.1 L650.9,1546.1 L651.2,1546.1 L651.6,1546.1 L652.0,1546.1 L652.4,1546.1 L652.8,1546.1 L653.1,1546.1 L653.5,1546.1 L653.9,1546.1 L654.3,1546.2 L654.6,1546.2 L655.0,1546.2 L655.4,1546.2 L655.8,1546.2 L656.1,1546.2 L656.5,1546.2 L656.9,1546.2 L657.3,1546.2 L657.7,1546.2 L658.0,1546.2 L658.4,1546.3 L658.8,1546.3 L659.2,1546.3 L659.5,1546.3 L659.9,1546.3 L660.3,1546.3 L660.7,1546.3 L661.1,1546.3 L661.4,1546.3 L661.8,1546.3 L662.2,1546.4 L662.6,1546.4 L662.9,1546.4 L663.3,1546.4 L663.7,1546.4 L664.1,1546.4 L664.5,1546.4 L664.8,1546.4 L665.2,1546.4 L665.6,1546.4 L666.0,1546.5 L666.3,1546.5 L666.7,1546.5 L667.1,1546.5 L667.5,1546.5 L667.8,1546.5 L668.2,1546.5 L668.6,1546.5 L669.0,1546.5 L669.4,1546.5 L669.7,1546.5 L670.1,1546.6 L670.5,1546.6 L670.9,1546.6 L671.2,1546.6 L671.6,1546.6 L672.0,1546.6 L672.4,1546.6 L672.8,1546.6 L673.1,1546.6 L673.5,1546.6 L673.9,1546.7 L674.3,1546.7 L674.6,1546.7 L675.0,1546.7 L675.4,1546.7 L675.8,1546.7 L676.1,1546.7 L676.5,1546.7 L676.9,1546.7 L677.3,1546.7 L677.7,1546.7 L678.0,1546.8 L678.4,1546.8 L678.8,1546.8 L679.2,1546.8 L679.5,1546.8 L679.9,1546.8 L680.3,1546.8 L680.7,1546.8 L681.1,1546.8 L681.4,1546.8 L681.8,1546.8 L682.2,1546.9 L682.6,1546.9 L682.9,1546.9 L683.3,1546.9 L683.7,1546.9 L684.1,1546.9 L684.4,1546.9 L684.8,1546.9 L685.2,1546.9 L685.6,1546.9 L686.0,1546.9 L686.3,1546.9 L686.7,1547.0 L687.1,1547.0 L687.5,1547.0 L687.8,1547.0 L688.2,1547.0 L688.6,1547.0" stroke="#ff0000" stroke-dasharray="9 4"/>
  <path d="M84.8,1367.5 L85.2,1369.3 L85.6,1370.6 L86.0,1371.7 L86.4,1372.8 L86.7,1373.8 L87.1,1374.7 L87.5,1375.5 L87.9,1376.1 L88.2,1376.7 L88.6,1377.1 L89.0,1377.3 L89.4,1377.4 L89.8,1377.4 L90.1,1377.2 L90.5,1377.0 L90.9,1376.7 L91.3,1376.3 L91.6,1375.9 L92.0,1375.4 L92.4,1374.9 L92.8,1374.4 L93.2,1373.9 L93.5,1373.3 L93.9,1372.8 L94.3,1372.2 L94.7,1371.5 L95.0,1370.8 L95.4,1370.0 L95.8,1369.2 L96.2,1368.4 L96.5,1367.5 L96.9,1366.7 L97.3,1365.9 L97.7,1365.0 L98.1,1364.1 L98.4,1363.1 L98.8,1362.2 L99.2,1361.2 L99.6,1360.2 L99.9,1359.2 L100.3,1358.2 L100.7,1357.1 L101.1,1356.1 L101.5,1355.1 L101.8,1354.2 L102.2,1353.2 L102.6,1352.3 L103.0,1351.4 L103.3,1350.5 L103.7,1349.7 L104.1,1348.9 L104.5,1348.2 L104.8,1347.5 L105.2,1346.8 L105.6,1346.1 L106.0,1345.5 L106.4,1344.9 L106.7,1344.3 L107.1,1343.7 L107.5,1343.1 L107.9,1342.5 L108.2,1341.9 L108.6,1341.3 L109.0,1340.6 L109.4,1340.0 L109.8,1339.3 L110.1,1338.7 L110.5,1337.9 L110.9,1337.2 L111.3,1336.4 L111.6,1335.6 L112.0,1334.8 L112.4,1334.0 L112.8,1333.2 L113.2,1332.3 L113.5,1331.5 L113.9,1330.7 L114.3,1329.9 L114.7,1329.1 L115.0,1328.4 L115.4,1327.6 L115.8,1326.9 L116.2,1326.3 L116.5,1325.6 L116.9,1325.1 L117.3,1324.5 L117.7,1324.0 L118.1,1323.5 L118.4,1323.0 L118.8,1322.6 L119.2,1322.1 L119.6,1321.7 L119.9,1321.3 L120.3,1320.9 L120.7,1320.4 L121.1,1320.0 L121.5,1319.6 L121.8,1319.2 L122.2,1318.8 L122.6,1318.5 L123.0,1318.1 L123.3,1317.7 L123.7,1317.4 L124.1,1317.0 L124.5,1316.7 L124.8,1316.3 L125.2,1315.9 L125.6,1315.6 L126.0,1315.2 L126.4,1314.8 L126.7,1314.4 L127.1,1314.0 L127.5,1313.5 L127.9,1313.0 L128.2,1312.5 L128.6,1312.0 L129.0,1311.5 L129.4,1311.0 L129.8,1310.6 L130.1,1310.3 L130.5,1310.0 L130.9,1309.8 L131.3,1309.7 L131.6,1309.7 L132.0,1309.8 L132.4,1309.9 L132.8,1310.0 L133.1,1310.1 L133.5,1310.3 L133.9,1310.4 L134.3,1310.6 L134.7,1310.7 L135.0,1310.8 L135.4,1310.9 L135.8,1310.9 L136.2,1310.9 L136.5,1310.9 L136.9,1310.9 L137.3,1310.9 L137.7,1310.9 L138.1,1310.9 L138.4,1310.9 L138.8,1310.9 L139.2,1310.9 L139.6,1310.8 L139.9,1310.7 L140.3,1310.4 L140.7,1310.1 L141.1,1309.7 L141.5,1309.2 L141.8,1308.7 L142.2,1308.2 L142.6,1307.6 L143.0,1307.0 L143.3,1306.4 L143.7,1305.7 L144.1,1304.7 L144.5,1303.5 L144.8,1302.1 L145.2,1300.7 L145.6,1299.2 L146.0,1297.7 L146.4,1296.2 L146.7,1294.8 L147.1,1293.6 L147.5,1292.3 L147.9,1290.9 L148.2,1289.5 L148.6,1288.2 L149.0,1286.9 L149.4,1285.8 L149.8,1284.9 L150.1,1284.2 L150.5,1283.8 L150.9,1283.4 L151.3,1283.0 L151.6,1282.7 L152.0,1282.4 L152.4,1282.2 L152.8,1282.0 L153.1,1281.9 L153.5,1281.9 L153.9,1282.1 L154.3,1282.4 L154.7,1282.9 L155.0,1283.5 L155.4,1284.1 L155.8,1284.9 L156.2,1285.6 L156.5,1286.4 L156.9,1287.1 L157.3,1287.8 L157.7,1288.5 L158.1,1289.3 L158.4,1290.2 L158.8,1291.1 L159.2,1292.0 L159.6,1292.9 L159.9,1293.9 L160.3,1294.7 L160.7,1295.5 L161.1,1296.3 L161.5,1297.0 L161.8,1297.6 L162.2,1298.3 L162.6,1298.9 L163.0,1299.6 L163.3,1300.2 L163.7,1300.7 L164.1,1301.3 L164.5,1301.8 L164.8,1302.2 L165.2,1302.5 L165.6,1302.8 L166.0,1303.1 L166.4,1303.3 L166.7,1303.5 L167.1,1303.7 L167.5,1303.9 L167.9,1304.1 L168.2,1304.2 L168.6,1304.4 L169.0,1304.5 L169.4,1304.6 L169.8,1304.6 L170.1,1304.6 L170.5,1304.6 L170.9,1304.5 L171.3,1304.4 L171.6,1304.2 L172.0,1304.1 L172.4,1303.9 L172.8,1303.7 L173.1,1303.5 L173.5,1303.3 L173.9,1303.1 L174.3,1302.9 L174.7,1302.7 L175.0,1302.4 L175.4,1302.1 L175.8,1301.7 L176.2,1301.3 L176.5,1301.0 L176.9,1300.6 L177.3,1300.3 L177.7,1300.1 L178.1,1299.9 L178.4,1299.8 L178.8,1299.8 L179.2,1299.8 L179.6,1299.9 L179.9,1300.0 L180.3,1300.1 L180.7,1300.3 L181.1,1300.4 L181.4,1300.6 L181.8,1300.7 L182.2,1300.8 L182.6,1300.9 L183.0,1301.0 L183.3,1301.1 L183.7,1301.1 L184.1,1301.0 L184.5,1300.8 L184.8,1300.4 L185.2,1299.9 L185.6,1299.3 L186.0,1298.7 L186.4,1298.0 L186.7,1297.3 L187.1,1296.6 L187.5,1295.9 L187.9,1295.3 L188.2,1294.7 L188.6,1294.1 L189.0,1293.5 L189.4,1292.8 L189.8,1292.2 L190.1,1291.5 L190.5,1290.8 L190.9,1290.1 L191.3,1289.5 L191.6,1288.8 L192.0,1288.2 L192.4,1287.6 L192.8,1287.1 L193.1,1286.5 L193.5,1286.1 L193.9,1285.6 L194.3,1285.1 L194.7,1284.7 L195.0,1284.3 L195.4,1283.9 L195.8,1283.5 L196.2,1283.1 L196.5,1282.8 L196.9,1282.4 L197.3,1282.0 L197.7,1281.7 L198.1,1281.3 L198.4,1280.9 L198.8,1280.5 L199.2,1280.1 L199.6,1279.7 L199.9,1279.3 L200.3,1278.9 L200.7,1278.4 L201.1,1278.0 L201.4,1277.6 L201.8,1277.1 L202.2,1276.6 L202.6,1276.2 L203.0,1275.7 L203.3,1275.3 L203.7,1274.8 L204.1,1274.3 L204.5,1273.8 L204.8,1273.3 L205.2,1272.9 L205.6,1272.4 L206.0,1271.8 L206.4,1271.3 L206.7,1270.8 L207.1,1270.3 L207.5,1269.8 L207.9,1269.2 L208.2,1268.7 L208.6,1268.1 L209.0,1267.5 L209.4,1267.0 L209.8,1266.4 L210.1,1265.8 L210.5,1265.2 L210.9,1264.6 L211.3,1264.0 L211.6,1263.4 L212.0,1262.8 L212.4,1262.1 L212.8,1261.5 L213.1,1260.9 L213.5,1260.3 L213.9,1259.6 L214.3,1259.0 L214.7,1258.4 L215.0,1257.7 L215.4,1257.1 L215.8,1256.5 L216.2,1255.8 L216.5,1255.2 L216.9,1254.5 L217.3,1253.9 L217.7,1253.2 L218.1,1252.5 L218.4,1251.9 L218.8,1251.2 L219.2,1250.5 L219.6,1249.9 L219.9,1249.2 L220.3,1248.5 L220.7,1247.8 L221.1,1247.1 L221.4,1246.4 L221.8,1245.7 L222.2,1245.0 L222.6,1244.3 L223.0,1243.6 L223.3,1242.9 L223.7,1242.2 L224.1,1241.5 L224.5,1240.8 L224.8,1240.1 L225.2,1239.3 L225.6,1238.6 L226.0,1237.9 L226.4,1237.2 L226.7,1236.5 L227.1,1235.7 L227.5,1235.0 L227.9,1234.3 L228.2,1233.5 L228.6,1232.7 L229.0,1232.0 L229.4,1231.2 L229.8,1230.4 L230.1,1229.6 L230.5,1228.7 L230.9,1227.9 L231.3,1227.0 L231.6,1226.1 L232.0,1225.2 L232.4,1224.3 L232.8,1223.3 L233.1,1222.3 L233.5,1221.3 L233.9,1220.2 L234.3,1219.2 L234.7,1218.2 L235.0,1217.1 L235.4,1216.1 L235.8,1215.1 L236.2,1214.1 L236.5,1213.1 L236.9,1212.0 L237.3,1211.0 L237.7,1210.0 L238.1,1208.9 L238.4,1207.9 L238.8,1206.8 L239.2,1205.8 L239.6,1204.8 L239.9,1203.8 L240.3,1202.8 L240.7,1201.8 L241.1,1200.8 L241.4,1199.9 L241.8,1199.0 L242.2,1198.1 L242.6,1197.1 L243.0,1196.3 L243.3,1195.4 L243.7,1194.5 L244.1,1193.6 L244.5,1192.8 L244.8,1191.9 L245.2,1191.1 L245.6,1190.2 L246.0,1189.4 L246.4,1188.6 L246.7,1187.8 L247.1,1187.0 L247.5,1186.2 L247.9,1185.5 L248.2,1184.7 L248.6,1184.0 L249.0,1183.3 L249.4,1182.6 L249.7,1181.9 L250.1,1181.2 L250.5,1180.6 L250.9,1180.0 L251.3,1179.3 L251.6,1178.7 L252.0,1178.1 L252.4,1177.4 L252.8,1176.8 L253.1,1176.1 L253.5,1175.5 L253.9,1174.8 L254.3,1174.2 L254.7,1173.5 L255.0,1172.7 L255.4,1172.0 L255.8,1171.2 L256.2,1170.3 L256.5,1169.5 L256.9,1168.6 L257.3,1167.7 L257.7,1166.8 L258.1,1165.9 L258.4,1165.1 L258.8,1164.2 L259.2,1163.4 L259.6,1162.7 L259.9,1162.0 L260.3,1161.4 L260.7,1160.8 L261.1,1160.2 L261.4,1159.7 L261.8,1159.1 L262.2,1158.6 L262.6,1158.2 L263.0,1157.8 L263.3,1157.4 L263.7,1157.1 L264.1,1156.8 L264.5,1156.5 L264.8,1156.3 L265.2,1156.0 L265.6,1155.8 L266.0,1155.6 L266.4,1155.4 L266.7,1155.2 L267.1,1155.0 L267.5,1154.8 L267.9,1154.6 L268.2,1154.4 L268.6,1154.2 L269.0,1154.1 L269.4,1153.9 L269.7,1153.8 L270.1,1153.6 L270.5,1153.5 L270.9,1153.4 L271.3,1153.2 L271.6,1153.1 L272.0,1153.0 L272.4,1152.9 L272.8,1152.8 L273.1,1152.6 L273.5,1152.5 L273.9,1152.4 L274.3,1152.3 L274.7,1152.2 L275.0,1152.0 L275.4,1151.9 L275.8,1151.8 L276.2,1151.7 L276.5,1151.6 L276.9,1151.5 L277.3,1151.4 L277.7,1151.3 L278.0,1151.2 L278.4,1151.1 L278.8,1151.0 L279.2,1151.0 L279.6,1150.9 L279.9,1150.8 L280.3,1150.8 L280.7,1150.7 L281.1,1150.7 L281.4,1150.6 L281.8,1150.6 L282.2,1150.6 L282.6,1150.6 L283.0,1150.6 L283.3,1150.6 L283.7,1150.6 L284.1,1150.6 L284.5,1150.6 L284.8,1150.6 L285.2,1150.6 L285.6,1150.6 L286.0,1150.6 L286.4,1150.6 L286.7,1150.6 L287.1,1150.6 L287.5,1150.6 L287.9,1150.6 L288.2,1150.6 L288.6,1150.7 L289.0,1150.8 L289.4,1150.9 L289.7,1151.1 L290.1,1151.3 L290.5,1151.5 L290.9,1151.7 L291.3,1151.9 L291.6,1152.1 L292.0,1152.3 L292.4,1152.5 L292.8,1152.8 L293.1,1153.2 L293.5,1153.5 L293.9,1153.9 L294.3,1154.4 L294.7,1154.8 L295.0,1155.3 L295.4,1155.8 L295.8,1156.4 L296.2,1156.9 L296.5,1157.5 L296.9,1158.0 L297.3,1158.6 L297.7,1159.2 L298.0,1159.8 L298.4,1160.4 L298.8,1161.0 L299.2,1161.5 L299.6,1162.1 L299.9,1162.6 L300.3,1163.2 L300.7,1163.8 L301.1,1164.4 L301.4,1165.0 L301.8,1165.6 L302.2,1166.2 L302.6,1166.8 L303.0,1167.5 L303.3,1168.1 L303.7,1168.8 L304.1,1169.4 L304.5,1170.1 L304.8,1170.8 L305.2,1171.5 L305.6,1172.2 L306.0,1173.0 L306.4,1173.7 L306.7,1174.5 L307.1,1175.3 L307.5,1176.1 L307.9,1176.9 L308.2,1177.7 L308.6,1178.4 L309.0,1179.2 L309.4,1179.9 L309.7,1180.6 L310.1,1181.3 L310.5,1182.0 L310.9,1182.6 L311.3,1183.3 L311.6,1183.9 L312.0,1184.5 L312.4,1185.1 L312.8,1185.7 L313.1,1186.2 L313.5,1186.8 L313.9,1187.4 L314.3,1188.0 L314.7,1188.6 L315.0,1189.2 L315.4,1189.8 L315.8,1190.4 L316.2,1191.0 L316.5,1191.6 L316.9,1192.3 L317.3,1192.9 L317.7,1193.6 L318.0,1194.3 L318.4,1195.0 L318.8,1195.7 L319.2,1196.4 L319.6,1197.1 L319.9,1197.8 L320.3,1198.5 L320.7,1199.3 L321.1,1200.0 L321.4,1200.7 L321.8,1201.5 L322.2,1202.2 L322.6,1203.0 L323.0,1203.8 L323.3,1204.6 L323.7,1205.4 L324.1,1206.2 L324.5,1207.0 L324.8,1207.8 L325.2,1208.6 L325.6,1209.5 L326.0,1210.3 L326.4,1211.2 L326.7,1212.1 L327.1,1213.0 L327.5,1213.9 L327.9,1214.8 L328.2,1215.7 L328.6,1216.7 L329.0,1217.7 L329.4,1218.6 L329.7,1219.6 L330.1,1220.6 L330.5,1221.6 L330.9,1222.6 L331.3,1223.6 L331.6,1224.7 L332.0,1225.7 L332.4,1226.7 L332.8,1227.8 L333.1,1228.8 L333.5,1229.8 L333.9,1230.9 L334.3,1231.9 L334.7,1233.0 L335.0,1234.0 L335.4,1235.1 L335.8,1236.2 L336.2,1237.3 L336.5,1238.3 L336.9,1239.4 L337.3,1240.5 L337.7,1241.6 L338.0,1242.8 L338.4,1243.9 L338.8,1245.0 L339.2,1246.1 L339.6,1247.3 L339.9,1248.4 L340.3,1249.6 L340.7,1250.7 L341.1,1251.9 L341.4,1253.1 L341.8,1254.3 L342.2,1255.5 L342.6,1256.7 L343.0,1257.9 L343.3,1259.1 L343.7,1260.3 L344.1,1261.6 L344.5,1262.8 L344.8,1264.1 L345.2,1265.4 L345.6,1266.7 L346.0,1268.0 L346.3,1269.4 L346.7,1270.7 L347.1,1272.0 L347.5,1273.4 L347.9,1274.7 L348.2,1276.0 L348.6,1277.3 L349.0,1278.7 L349.4,1280.0 L349.7,1281.3 L350.1,1282.6 L350.5,1283.9 L350.9,1285.2 L351.3,1286.4 L351.6,1287.7 L352.0,1288.9 L352.4,1290.1 L352.8,1291.4 L353.1,1292.6 L353.5,1293.8 L353.9,1295.0 L354.3,1296.2 L354.7,1297.4 L355.0,1298.6 L355.4,1299.8 L355.8,1301.0 L356.2,1302.2 L356.5,1303.4 L356.9,1304.6 L357.3,1305.7 L357.7,1306.9 L358.0,1308.1 L358.4,1309.3 L358.8,1310.5 L359.2,1311.7 L359.6,1312.9 L359.9,1314.1 L360.3,1315.3 L360.7,1316.5 L361.1,1317.7 L361.4,1318.9 L361.8,1320.1 L362.2,1321.3 L362.6,1322.5 L363.0,1323.8 L363.3,1325.0 L363.7,1326.2 L364.1,1327.4 L364.5,1328.6 L364.8,1329.8 L365.2,1331.0 L365.6,1332.2 L366.0,1333.4 L366.3,1334.6 L366.7,1335.8 L367.1,1337.0 L367.5,1338.2 L367.9,1339.4 L368.2,1340.6 L368.6,1341.7 L369.0,1342.9 L369.4,1344.1 L369.7,1345.2 L370.1,1346.3 L370.5,1347.5 L370.9,1348.6 L371.3,1349.7 L371.6,1350.8 L372.0,1352.0 L372.4,1353.1 L372.8,1354.2 L373.1,1355.3 L373.5,1356.4 L373.9,1357.6 L374.3,1358.7 L374.7,1359.8 L375.0,1361.0 L375.4,1362.1 L375.8,1363.3 L376.2,1364.4 L376.5,1365.6 L376.9,1366.8 L377.3,1368.0 L377.7,1369.2 L378.0,1370.5 L378.4,1371.7 L378.8,1373.0 L379.2,1374.3 L379.6,1375.6 L379.9,1376.9 L380.3,1378.2 L380.7,1379.5 L381.1,1380.8 L381.4,1382.1 L381.8,1383.4 L382.2,1384.7 L382.6,1386.0 L383.0,1387.3 L383.3,1388.5 L383.7,1389.8 L384.1,1391.0 L384.5,1392.3 L384.8,1393.5 L385.2,1394.7 L385.6,1395.9 L386.0,1397.1 L386.3,1398.3 L386.7,1399.5 L387.1,1400.6 L387.5,1401.8 L387.9,1403.0 L388.2,1404.1 L388.6,1405.3 L389.0,1406.4 L389.4,1407.6 L389.7,1408.7 L390.1,1409.8 L390.5,1410.9 L390.9,1411.9 L391.3,1413.0 L391.6,1414.0 L392.0,1415.0 L392.4,1416.0 L392.8,1417.0 L393.1,1418.0 L393.5,1418.9 L393.9,1419.9 L394.3,1420.8 L394.6,1421.7 L395.0,1422.7 L395.4,1423.6 L395.8,1424.5 L396.2,1425.4 L396.5,1426.2 L396.9,1427.1 L397.3,1428.0 L397.7,1428.8 L398.0,1429.7 L398.4,1430.5 L398.8,1431.4 L399.2,1432.2 L399.6,1433.0 L399.9,1433.9 L400.3,1434.7 L400.7,1435.5 L401.1,1436.3 L401.4,1437.1 L401.8,1438.0 L402.2,1438.8 L402.6,1439.6 L403.0,1440.4 L403.3,1441.2 L403.7,1442.0 L404.1,1442.8 L404.5,1443.6 L404.8,1444.3 L405.2,1445.1 L405.6,1445.9 L406.0,1446.6 L406.3,1447.4 L406.7,1448.1 L407.1,1448.8 L407.5,1449.5 L407.9,1450.2 L408.2,1450.9 L408.6,1451.6 L409.0,1452.3 L409.4,1452.9 L409.7,1453.6 L410.1,1454.2 L410.5,1454.8 L410.9,1455.4 L411.3,1456.0 L411.6,1456.6 L412.0,1457.1 L412.4,1457.7 L412.8,1458.2 L413.1,1458.7 L413.5,1459.2 L413.9,1459.8 L414.3,1460.3 L414.6,1460.8 L415.0,1461.3 L415.4,1461.8 L415.8,1462.3 L416.2,1462.8 L416.5,1463.3 L416.9,1463.8 L417.3,1464.3 L417.7,1464.8 L418.0,1465.3 L418.4,1465.8 L418.8,1466.3 L419.2,1466.8 L419.6,1467.4 L419.9,1467.9 L420.3,1468.4 L420.7,1469.0 L421.1,1469.6 L421.4,1470.1 L421.8,1470.7 L422.2,1471.3 L422.6,1471.9 L423.0,1472.5 L423.3,1473.0 L423.7,1473.6 L424.1,1474.2 L424.5,1474.8 L424.8,1475.4 L425.2,1476.0 L425.6,1476.6 L426.0,1477.1 L426.3,1477.7 L426.7,1478.3 L427.1,1478.9 L427.5,1479.4 L427.9,1480.0 L428.2,1480.5 L428.6,1481.1 L429.0,1481.6 L429.4,1482.1 L429.7,1482.7 L430.1,1483.2 L430.5,1483.7 L430.9,1484.2 L431.3,1484.6 L431.6,1485.1 L432.0,1485.6 L432.4,1486.1 L432.8,1486.6 L433.1,1487.0 L433.5,1487.5 L433.9,1488.0 L434.3,1488.4 L434.6,1488.9 L435.0,1489.3 L435.4,1489.8 L435.8,1490.2 L436.2,1490.7 L436.5,1491.1 L436.9,1491.5 L437.3,1492.0 L437.7,1492.4 L438.0,1492.8 L438.4,1493.3 L438.8,1493.7 L439.2,1494.1 L439.6,1494.5 L439.9,1494.9 L440.3,1495.3 L440.7,1495.7 L441.1,1496.2 L441.4,1496.6 L441.8,1497.0 L442.2,1497.4 L442.6,1497.8 L442.9,1498.2 L443.3,1498.6 L443.7,1499.0 L444.1,1499.4 L444.5,1499.8 L444.8,1500.2 L445.2,1500.6 L445.6,1500.9 L446.0,1501.3 L446.3,1501.7 L446.7,1502.0 L447.1,1502.4 L447.5,1502.8 L447.9,1503.1 L448.2,1503.5 L448.6,1503.8 L449.0,1504.1 L449.4,1504.5 L449.7,1504.8 L450.1,1505.1 L450.5,1505.4 L450.9,1505.7 L451.3,1506.0 L451.6,1506.3 L452.0,1506.6 L452.4,1506.9 L452.8,1507.1 L453.1,1507.4 L453.5,1507.7 L453.9,1507.9 L454.3,1508.2 L454.6,1508.5 L455.0,1508.7 L455.4,1509.0 L455.8,1509.2 L456.2,1509.5 L456.5,1509.7 L456.9,1510.0 L457.3,1510.2 L457.7,1510.5 L458.0,1510.7 L458.4,1511.0 L458.8,1511.2 L459.2,1511.5 L459.6,1511.7 L459.9,1512.0 L460.3,1512.2 L460.7,1512.5 L461.1,1512.7 L461.4,1512.9 L461.8,1513.2 L462.2,1513.4 L462.6,1513.7 L462.9,1513.9 L463.3,1514.2 L463.7,1514.4 L464.1,1514.6 L464.5,1514.9 L464.8,1515.1 L465.2,1515.4 L465.6,1515.6 L466.0,1515.8 L466.3,1516.1 L466.7,1516.3 L467.1,1516.5 L467.5,1516.8 L467.9,1517.0 L468.2,1517.2 L468.6,1517.5 L469.0,1517.7 L469.4,1517.9 L469.7,1518.2 L470.1,1518.4 L470.5,1518.6 L470.9,1518.8 L471.2,1519.1 L471.6,1519.3 L472.0,1519.5 L472.4,1519.7 L472.8,1520.0 L473.1,1520.2 L473.5,1520.4 L473.9,1520.6 L474.3,1520.9 L474.6,1521.1 L475.0,1521.3 L475.4,1521.5 L475.8,1521.8 L476.2,1522.0 L476.5,1522.2 L476.9,1522.4 L477.3,1522.6 L477.7,1522.8 L478.0,1523.0 L478.4,1523.2 L478.8,1523.4 L479.2,1523.6 L479.6,1523.8 L479.9,1524.0 L480.3,1524.1 L480.7,1524.3 L481.1,1524.5 L481.4,1524.6 L481.8,1524.8 L482.2,1525.0 L482.6,1525.1 L482.9,1525.3 L483.3,1525.4 L483.7,1525.6 L484.1,1525.7 L484.5,1525.9 L484.8,1526.0 L485.2,1526.2 L485.6,1526.3 L486.0,1526.5 L486.3,1526.6 L486.7,1526.8 L487.1,1526.9 L487.5,1527.0 L487.9,1527.2 L488.2,1527.3 L488.6,1527.4 L489.0,1527.6 L489.4,1527.7 L489.7,1527.8 L490.1,1528.0 L490.5,1528.1 L490.9,1528.2 L491.2,1528.4 L491.6,1528.5 L492.0,1528.6 L492.4,1528.8 L492.8,1528.9 L493.1,1529.0 L493.5,1529.1 L493.9,1529.3 L494.3,1529.4 L494.6,1529.5 L495.0,1529.6 L495.4,1529.8 L495.8,1529.9 L496.2,1530.0 L496.5,1530.2 L496.9,1530.3 L497.3,1530.4 L497.7,1530.5 L498.0,1530.7 L498.4,1530.8 L498.8,1530.9 L499.2,1531.0 L499.6,1531.2 L499.9,1531.3 L500.3,1531.4 L500.7,1531.5 L501.1,1531.6 L501.4,1531.8 L501.8,1531.9 L502.2,1532.0 L502.6,1532.1 L502.9,1532.2 L503.3,1532.4 L503.7,1532.5 L504.1,1532.6 L504.5,1532.7 L504.8,1532.8 L505.2,1532.9 L505.6,1533.0 L506.0,1533.2 L506.3,1533.3 L506.7,1533.4 L507.1,1533.5 L507.5,1533.6 L507.9,1533.7 L508.2,1533.8 L508.6,1533.9 L509.0,1534.0 L509.4,1534.1 L509.7,1534.2 L510.1,1534.3 L510.5,1534.4 L510.9,1534.5 L511.2,1534.6 L511.6,1534.7 L512.0,1534.7 L512.4,1534.8 L512.8,1534.9 L513.1,1535.0 L513.5,1535.1 L513.9,1535.2 L514.3,1535.3 L514.6,1535.3 L515.0,1535.4 L515.4,1535.5 L515.8,1535.6 L516.2,1535.7 L516.5,1535.8 L516.9,1535.8 L517.3,1535.9 L517.7,1536.0 L518.0,1536.1 L518.4,1536.1 L518.8,1536.2 L519.2,1536.3 L519.5,1536.4 L519.9,1536.4 L520.3,1536.5 L520.7,1536.6 L521.1,1536.7 L521.4,1536.7 L521.8,1536.8 L522.2,1536.9 L522.6,1537.0 L522.9,1537.0 L523.3,1537.1 L523.7,1537.2 L524.1,1537.2 L524.5,1537.3 L524.8,1537.4 L525.2,1537.4 L525.6,1537.5 L526.0,1537.6 L526.3,1537.6 L526.7,1537.7 L527.1,1537.8 L527.5,1537.8 L527.9,1537.9 L528.2,1537.9 L528.6,1538.0 L529.0,1538.1 L529.4,1538.1 L529.7,1538.2 L530.1,1538.2 L530.5,1538.3 L530.9,1538.4 L531.2,1538.4 L531.6,1538.5 L532.0,1538.5 L532.4,1538.6 L532.8,1538.7 L533.1,1538.7 L533.5,1538.8 L533.9,1538.8 L534.3,1538.9 L534.6,1538.9 L535.0,1539.0 L535.4,1539.0 L535.8,1539.1 L536.2,1539.2 L536.5,1539.2 L536.9,1539.3 L537.3,1539.3 L537.7,1539.4 L538.0,1539.4 L538.4,1539.5 L538.8,1539.5 L539.2,1539.6 L539.5,1539.6 L539.9,1539.7 L540.3,1539.7 L540.7,1539.8 L541.1,1539.8 L541.4,1539.9 L541.8,1539.9 L542.2,1540.0 L542.6,1540.0 L542.9,1540.1 L543.3,1540.1 L543.7,1540.1 L544.1,1540.2 L544.5,1540.2 L544.8,1540.3 L545.2,1540.3 L545.6,1540.4 L546.0,1540.4 L546.3,1540.5 L546.7,1540.5 L547.1,1540.5 L547.5,1540.6 L547.9,1540.6 L548.2,1540.7 L548.6,1540.7 L549.0,1540.8 L549.4,1540.8 L549.7,1540.8 L550.1,1540.9 L550.5,1540.9 L550.9,1541.0 L551.2,1541.0 L551.6,1541.0 L552.0,1541.1 L552.4,1541.1 L552.8,1541.2 L553.1,1541.2 L553.5,1541.2 L553.9,1541.3 L554.3,1541.3 L554.6,1541.4 L555.0,1541.4 L555.4,1541.4 L555.8,1541.5 L556.2,1541.5 L556.5,1541.5 L556.9,1541.6 L557.3,1541.6 L557.7,1541.7 L558.0,1541.7 L558.4,1541.7 L558.8,1541.8 L559.2,1541.8 L559.5,1541.8 L559.9,1541.9 L560.3,1541.9 L560.7,1541.9 L561.1,1542.0 L561.4,1542.0 L561.8,1542.0 L562.2,1542.0 L562.6,1542.1 L562.9,1542.1 L563.3,1542.1 L563.7,1542.2 L564.1,1542.2 L564.5,1542.2 L564.8,1542.2 L565.2,1542.3 L565.6,1542.3 L566.0,1542.3 L566.3,1542.4 L566.7,1542.4 L567.1,1542.4 L567.5,1542.4 L567.9,1542.5 L568.2,1542.5 L568.6,1542.5 L569.0,1542.6 L569.4,1542.6 L569.7,1542.6 L570.1,1542.6 L570.5,1542.7 L570.9,1542.7 L571.2,1542.7 L571.6,1542.7 L572.0,1542.8 L572.4,1542.8 L572.8,1542.8 L573.1,1542.8 L573.5,1542.9 L573.9,1542.9 L574.3,1542.9 L574.6,1542.9 L575.0,1543.0 L575.4,1543.0 L575.8,1543.0 L576.2,1543.0 L576.5,1543.1 L576.9,1543.1 L577.3,1543.1 L577.7,1543.1 L578.0,1543.2 L578.4,1543.2 L578.8,1543.2 L579.2,1543.2 L579.5,1543.3 L579.9,1543.3 L580.3,1543.3 L580.7,1543.3 L581.1,1543.3 L581.4,1543.4 L581.8,1543.4 L582.2,1543.4 L582.6,1543.4 L582.9,1543.5 L583.3,1543.5 L583.7,1543.5 L584.1,1543.5 L584.5,1543.5 L584.8,1543.6 L585.2,1543.6 L585.6,1543.6 L586.0,1543.6 L586.3,1543.7 L586.7,1543.7 L587.1,1543.7 L587.5,1543.7 L587.8,1543.7 L588.2,1543.8 L588.6,1543.8 L589.0,1543.8 L589.4,1543.8 L589.7,1543.8 L590.1,1543.9 L590.5,1543.9 L590.9,1543.9 L591.2,1543.9 L591.6,1543.9 L592.0,1544.0 L592.4,1544.0 L592.8,1544.0 L593.1,1544.0 L593.5,1544.0 L593.9,1544.0 L594.3,1544.1 L594.6,1544.1 L595.0,1544.1 L595.4,1544.1 L595.8,1544.1 L596.2,1544.2 L596.5,1544.2 L596.9,1544.2 L597.3,1544.2 L597.7,1544.2 L598.0,1544.2 L598.4,1544.3 L598.8,1544.3 L599.2,1544.3 L599.5,1544.3 L599.9,1544.3 L600.3,1544.3 L600.7,1544.4 L601.1,1544.4 L601.4,1544.4 L601.8,1544.4 L602.2,1544.4 L602.6,1544.4 L602.9,1544.5 L603.3,1544.5 L603.7,1544.5 L604.1,1544.5 L604.5,1544.5 L604.8,1544.5 L605.2,1544.6 L605.6,1544.6 L606.0,1544.6 L606.3,1544.6 L606.7,1544.6 L607.1,1544.6 L607.5,1544.7 L607.8,1544.7 L608.2,1544.7 L608.6,1544.7 L609.0,1544.7 L609.4,1544.7 L609.7,1544.7 L610.1,1544.8 L610.5,1544.8 L610.9,1544.8 L611.2,1544.8 L611.6,1544.8 L612.0,1544.8 L612.4,1544.8 L612.8,1544.9 L613.1,1544.9 L613.5,1544.9 L613.9,1544.9 L614.3,1544.9 L614.6,1544.9 L615.0,1544.9 L615.4,1545.0 L615.8,1545.0 L616.1,1545.0 L616.5,1545.0 L616.9,1545.0 L617.3,1545.0 L617.7,1545.0 L618.0,1545.1 L618.4,1545.1 L618.8,1545.1 L619.2,1545.1 L619.5,1545.1 L619.9,1545.1 L620.3,1545.1 L620.7,1545.1 L621.1,1545.2 L621.4,1545.2 L621.8,1545.2 L622.2,1545.2 L622.6,1545.2 L622.9,1545.2 L623.3,1545.2 L623.7,1545.2 L624.1,1545.3 L624.5,1545.3 L624.8,1545.3 L625.2,1545.3 L625.6,1545.3 L626.0,1545.3 L626.3,1545.3 L626.7,1545.3 L627.1,1545.4 L627.5,1545.4 L627.8,1545.4 L628.2,1545.4 L628.6,1545.4 L629.0,1545.4 L629.4,1545.4 L629.7,1545.4 L630.1,1545.5 L630.5,1545.5 L630.9,1545.5 L631.2,1545.5 L631.6,1545.5 L632.0,1545.5 L632.4,1545.5 L632.8,1545.5 L633.1,1545.6 L633.5,1545.6 L633.9,1545.6 L634.3,1545.6 L634.6,1545.6 L635.0,1545.6 L635.4,1545.6 L635.8,1545.6 L636.1,1545.6 L636.5,1545.7 L636.9,1545.7 L637.3,1545.7 L637.7,1545.7 L638.0,1545.7 L638.4,1545.7 L638.8,1545.7 L639.2,1545.7 L639.5,1545.7 L639.9,1545.8 L640.3,1545.8 L640.7,1545.8 L641.1,1545.8 L641.4,1545.8 L641.8,1545.8 L642.2,1545.8 L642.6,1545.8 L642.9,1545.8 L643.3,1545.9 L643.7,1545.9 L644.1,1545.9 L644.5,1545.9 L644.8,1545.9 L645.2,1545.9 L645.6,1545.9 L646.0,1545.9 L646.3,1545.9 L646.7,1545.9 L647.1,1546.0 L647.5,1546.0 L647.8,1546.0 L648.2,1546.0 L648.6,1546.0 L649.0,1546.0 L649.4,1546.0 L649.7,1546.0 L650.1,1546.0 L650.5,1546.1 L650.9,1546.1 L651.2,1546.1 L651.6,1546.1 L652.0,1546.1 L652.4,1546.1 L652.8,1546.1 L653.1,1546.1 L653.5,1546.1 L653.9,1546.1 L654.3,1546.2 L654.6,1546.2 L655.0,1546.2 L655.4,1546.2 L655.8,1546.2 L656.1,1546.2 L656.5,1546.2 L656.9,1546.2 L657.3,1546.2 L657.7,1546.2 L658.0,1546.2 L658.4,1546.3 L658.8,1546.3 L659.2,1546.3 L659.5,1546.3 L659.9,1546.3 L660.3,1546.3 L660.7,1546.3 L661.1,1546.3 L661.4,1546.3 L661.8,1546.3 L662.2,1546.4 L662.6,1546.4 L662.9,1546.4 L663.3,1546.4 L663.7,1546.4 L664.1,1546.4 L664.5,1546.4 L664.8,1546.4 L665.2,1546.4 L665.6,1546.4 L666.0,1546.5 L666.3,1546.5 L666.7,1546.5 L667.1,1546.5 L667.5,1546.5 L667.8,1546.5 L668.2,1546.5 L668.6,1546.5 L669.0,1546.5 L669.4,1546.5 L669.7,1546.5 L670.1,1546.6 L670.5,1546.6 L670.9,1546.6 L671.2,1546.6 L671.6,1546.6 L672.0,1546.6 L672.4,1546.6 L672.8,1546.6 L673.1,1546.6 L673.5,1546.6 L673.9,1546.7 L674.3,1546.7 L674.6,1546.7 L675.0,1546.7 L675.4,1546.7 L675.8,1546.7 L676.1,1546.7 L676.5,1546.7 L676.9,1546.7 L677.3,1546.7 L677.7,1546.7 L678.0,1546.8 L678.4,1546.8 L678.8,1546.8 L679.2,1546.8 L679.5,1546.8 L679.9,1546.8 L680.3,1546.8 L680.7,1546.8 L681.1,1546.8 L681.4,1546.8 L681.8,1546.8 L682.2,1546.9 L682.6,1546.9 L682.9,1546.9 L683.3,1546.9 L683.7,1546.9 L684.1,1546.9 L684.4,1546.9 L684.8,1546.9 L685.2,1546.9 L685.6,1546.9 L686.0,1546.9 L686.3,1546.9 L686.7,1547.0 L687.1,1547.0 L687.5,1547.0 L687.8,1547.0 L688.2,1547.0 L688.6,1547.0" stroke="#008000" stroke-dasharray="15.6 3.9 2.4 3.9"/>
</g>
<g stroke-width="2.8" fill="none">
  <line x1="393" y1="1176.9" x2="416.5" y2="1176.9" stroke="#008000" stroke-dasharray="16 4 3 4"/>
  <line x1="393" y1="1208.3" x2="416.5" y2="1208.3" stroke="#ff0000" stroke-dasharray="9.1 4"/>
  <line x1="393" y1="1239.9" x2="416.5" y2="1239.9" stroke="#000000"/>
</g>
<text x="421" y="1184.9" class="tk" font-size="24" style="font-size:24px" textLength="172" lengthAdjust="spacingAndGlyphs">US: LL approach</text>
<text x="420" y="1216.4" class="tk" style="font-size:24px" textLength="178" lengthAdjust="spacingAndGlyphs">NC: LL approach</text>
<text x="420.5" y="1247.3" class="tk" style="font-size:24px" textLength="262" lengthAdjust="spacingAndGlyphs">PAW: stand. LR-TDDFT</text>

</svg>
</body></html>
